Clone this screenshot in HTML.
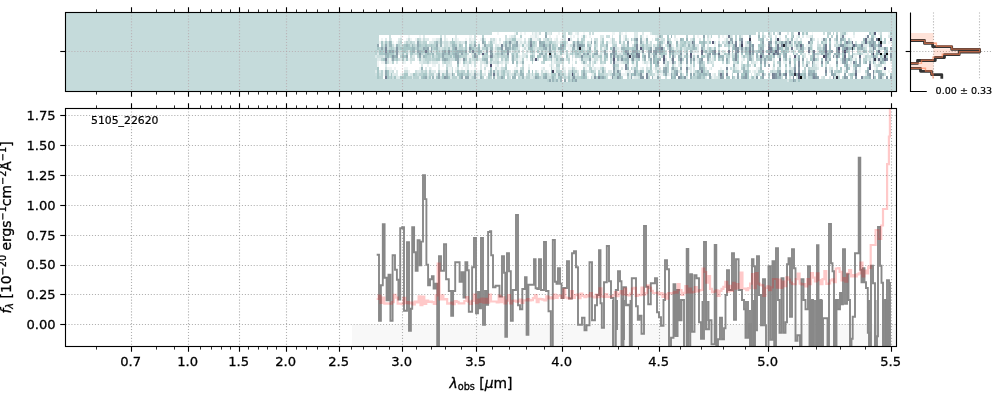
<!DOCTYPE html>
<html><head><meta charset="utf-8"><title>spectrum</title>
<style>
html,body{margin:0;padding:0;background:#fff;overflow:hidden;}
svg{display:block;will-change:transform;}
text{font-family:"DejaVu Sans","Liberation Sans",sans-serif;fill:#000;stroke:#000;stroke-width:0.3px;}
.tl{font-size:13.1px;}
.al{font-size:13.89px;}
.it{font-style:italic;}
.grid{stroke:#b0b0b0;stroke-width:1.11;stroke-dasharray:1.11 1.83;fill:none;}
.g2{stroke:#b0959a;stroke-opacity:0.55;}
.sp{stroke:#000;stroke-width:1.11;fill:none;stroke-linecap:square;}
.mj{stroke:#000;stroke-width:1.11;}
.mn{stroke:#000;stroke-width:0.83;}
</style></head><body>
<svg width="1000" height="400" viewBox="0 0 1000 400">
<rect width="1000" height="400" fill="#fff"/>
<g id="ax2d">
<rect x="65.5" y="12.5" width="831.0" height="79.0" fill="#c5dbdb"/>
<g shape-rendering="crispEdges">
<path fill="#b9d2d2" d="M375.3 49.58H377.2V52.51H375.3zM375.3 52.51H377.2V55.44H375.3zM379.11 46.65H381.01V49.58H379.11zM379.11 75.95H381.01V78.88H379.11zM381.01 58.37H382.92V61.3H381.01zM381.01 70.09H382.92V73.02H381.01zM381.01 73.02H382.92V75.95H381.01zM381.01 75.95H382.92V78.88H381.01zM382.92 46.65H384.82V49.58H382.92zM382.92 49.58H384.82V52.51H382.92zM388.63 46.65H390.54V49.58H388.63zM388.63 55.44H390.54V58.37H388.63zM388.63 75.95H390.54V78.88H388.63zM392.44 46.65H394.35V49.58H392.44zM392.44 61.3H394.35V64.23H392.44zM394.35 49.58H396.25V52.51H394.35zM394.35 58.37H396.25V61.3H394.35zM398.16 43.72H400.06V46.65H398.16zM398.16 46.65H400.06V49.58H398.16zM400.06 40.79H401.97V43.72H400.06zM400.06 55.44H401.97V58.37H400.06zM401.97 43.72H403.88V46.65H401.97zM405.78 40.79H407.69V43.72H405.78zM405.78 49.58H407.69V52.51H405.78zM405.78 75.95H407.69V78.88H405.78zM407.69 75.95H409.59V78.88H407.69zM409.59 40.79H411.5V43.72H409.59zM409.59 55.44H411.5V58.37H409.59zM409.59 75.95H411.5V78.88H409.59zM413.4 43.72H415.31V46.65H413.4zM413.4 75.95H415.31V78.88H413.4zM415.31 46.65H417.21V49.58H415.31zM415.31 73.02H417.21V75.95H415.31zM415.31 75.95H417.21V78.88H415.31zM417.21 37.86H419.12V40.79H417.21zM417.21 55.44H419.12V58.37H417.21zM417.21 75.95H419.12V78.88H417.21zM419.12 40.79H421.02V43.72H419.12zM419.12 46.65H421.02V49.58H419.12zM419.12 73.02H421.02V75.95H419.12zM421.02 43.72H422.93V46.65H421.02zM421.02 46.65H422.93V49.58H421.02zM421.02 52.51H422.93V55.44H421.02zM421.02 70.09H422.93V73.02H421.02zM421.02 73.02H422.93V75.95H421.02zM422.93 40.79H424.83V43.72H422.93zM422.93 43.72H424.83V46.65H422.93zM424.83 40.79H426.74V43.72H424.83zM424.83 58.37H426.74V61.3H424.83zM424.83 70.09H426.74V73.02H424.83zM426.74 43.72H428.64V46.65H426.74zM426.74 55.44H428.64V58.37H426.74zM426.74 58.37H428.64V61.3H426.74zM426.74 61.3H428.64V64.23H426.74zM428.64 43.72H430.55V46.65H428.64zM428.64 55.44H430.55V58.37H428.64zM428.64 58.37H430.55V61.3H428.64zM428.64 70.09H430.55V73.02H428.64zM428.64 73.02H430.55V75.95H428.64zM430.55 52.51H432.45V55.44H430.55zM430.55 73.02H432.45V75.95H430.55zM432.45 43.72H434.36V46.65H432.45zM432.45 46.65H434.36V49.58H432.45zM432.45 58.37H434.36V61.3H432.45zM432.45 73.02H434.36V75.95H432.45zM434.36 40.79H436.26V43.72H434.36zM434.36 43.72H436.26V46.65H434.36zM434.36 58.37H436.26V61.3H434.36zM436.26 55.44H438.17V58.37H436.26zM438.17 49.58H440.07V52.51H438.17zM438.17 70.09H440.07V73.02H438.17zM440.07 52.51H441.98V55.44H440.07zM440.07 55.44H441.98V58.37H440.07zM443.88 46.65H445.79V49.58H443.88zM443.88 55.44H445.79V58.37H443.88zM443.88 61.3H445.79V64.23H443.88zM445.79 49.58H447.69V52.51H445.79zM445.79 55.44H447.69V58.37H445.79zM445.79 67.16H447.69V70.09H445.79zM447.69 55.44H449.6V58.37H447.69zM447.69 58.37H449.6V61.3H447.69zM449.6 40.79H451.5V43.72H449.6zM449.6 49.58H451.5V52.51H449.6zM449.6 52.51H451.5V55.44H449.6zM451.5 70.09H453.41V73.02H451.5zM451.5 75.95H453.41V78.88H451.5zM453.41 73.02H455.31V75.95H453.41zM453.41 75.95H455.31V78.88H453.41zM455.31 75.95H457.22V78.88H455.31zM459.12 46.65H461.02V49.58H459.12zM461.02 43.72H462.93V46.65H461.02zM461.02 46.65H462.93V49.58H461.02zM461.02 55.44H462.93V58.37H461.02zM461.02 70.09H462.93V73.02H461.02zM462.93 52.51H464.84V55.44H462.93zM462.93 55.44H464.84V58.37H462.93zM462.93 70.09H464.84V73.02H462.93zM462.93 73.02H464.84V75.95H462.93zM464.84 55.44H466.74V58.37H464.84zM464.84 73.02H466.74V75.95H464.84zM468.64 58.37H470.55V61.3H468.64zM468.64 61.3H470.55V64.23H468.64zM470.55 43.72H472.46V46.65H470.55zM472.46 55.44H474.36V58.37H472.46zM472.46 75.95H474.36V78.88H472.46zM474.36 46.65H476.26V49.58H474.36zM474.36 49.58H476.26V52.51H474.36zM474.36 58.37H476.26V61.3H474.36zM474.36 70.09H476.26V73.02H474.36zM476.26 46.65H478.17V49.58H476.26zM476.26 49.58H478.17V52.51H476.26zM481.98 34.93H483.88V37.86H481.98zM481.98 46.65H483.88V49.58H481.98zM481.98 55.44H483.88V58.37H481.98zM481.98 75.95H483.88V78.88H481.98zM483.88 46.65H485.79V49.58H483.88zM483.88 52.51H485.79V55.44H483.88zM483.88 55.44H485.79V58.37H483.88zM485.79 43.72H487.69V46.65H485.79zM485.79 55.44H487.69V58.37H485.79zM487.69 43.72H489.6V46.65H487.69zM489.6 61.3H491.5V64.23H489.6zM489.6 75.95H491.5V78.88H489.6zM491.5 58.37H493.41V61.3H491.5zM495.31 52.51H497.22V55.44H495.31zM497.22 49.58H499.12V52.51H497.22zM497.22 55.44H499.12V58.37H497.22zM497.22 61.3H499.12V64.23H497.22zM497.22 70.09H499.12V73.02H497.22zM497.22 75.95H499.12V78.88H497.22zM499.12 52.51H501.03V55.44H499.12zM499.12 75.95H501.03V78.88H499.12zM501.03 55.44H502.94V58.37H501.03zM501.03 58.37H502.94V61.3H501.03zM501.03 70.09H502.94V73.02H501.03zM501.03 73.02H502.94V75.95H501.03zM502.94 52.51H504.84V55.44H502.94zM502.94 55.44H504.84V58.37H502.94zM504.84 55.44H506.75V58.37H504.84zM504.84 64.23H506.75V67.16H504.84zM506.75 40.79H508.65V43.72H506.75zM506.75 58.37H508.65V61.3H506.75zM506.75 73.02H508.65V75.95H506.75zM506.75 75.95H508.65V78.88H506.75zM510.56 40.79H512.46V43.72H510.56zM514.37 40.79H516.27V43.72H514.37zM514.37 49.58H516.27V52.51H514.37zM514.37 70.09H516.27V73.02H514.37zM516.27 32H518.17V34.93H516.27zM516.27 46.65H518.17V49.58H516.27zM518.17 49.58H520.08V52.51H518.17zM518.17 75.95H520.08V78.88H518.17zM520.08 34.93H521.99V37.86H520.08zM521.99 58.37H523.89V61.3H521.99zM521.99 67.16H523.89V70.09H521.99zM521.99 70.09H523.89V73.02H521.99zM525.8 55.44H527.7V58.37H525.8zM525.8 75.95H527.7V78.88H525.8zM527.7 40.79H529.61V43.72H527.7zM527.7 43.72H529.61V46.65H527.7zM527.7 73.02H529.61V75.95H527.7zM527.7 75.95H529.61V78.88H527.7zM529.61 58.37H531.51V61.3H529.61zM531.51 40.79H533.41V43.72H531.51zM531.51 52.51H533.41V55.44H531.51zM531.51 61.3H533.41V64.23H531.51zM531.51 73.02H533.41V75.95H531.51zM533.41 43.72H535.32V46.65H533.41zM533.41 49.58H535.32V52.51H533.41zM533.41 55.44H535.32V58.37H533.41zM539.13 37.86H541.04V40.79H539.13zM539.13 46.65H541.04V49.58H539.13zM539.13 75.95H541.04V78.88H539.13zM541.04 46.65H542.94V49.58H541.04zM542.94 61.3H544.85V64.23H542.94zM544.85 49.58H546.75V52.51H544.85zM546.75 37.86H548.65V40.79H546.75zM546.75 43.72H548.65V46.65H546.75zM546.75 78.88H548.65V81.81H546.75zM550.56 49.58H552.47V52.51H550.56zM550.56 67.16H552.47V70.09H550.56zM550.56 73.02H552.47V75.95H550.56zM550.56 75.95H552.47V78.88H550.56zM554.37 43.72H556.27V46.65H554.37zM554.37 49.58H556.27V52.51H554.37zM554.37 55.44H556.27V58.37H554.37zM554.37 75.95H556.27V78.88H554.37zM554.37 78.88H556.27V81.81H554.37zM556.27 55.44H558.18V58.37H556.27zM556.27 64.23H558.18V67.16H556.27zM556.27 70.09H558.18V73.02H556.27zM558.18 64.23H560.09V67.16H558.18zM558.18 70.09H560.09V73.02H558.18zM560.09 70.09H561.99V73.02H560.09zM560.09 73.02H561.99V75.95H560.09zM563.89 46.65H565.8V49.58H563.89zM563.89 75.95H565.8V78.88H563.89zM565.8 49.58H567.71V52.51H565.8zM565.8 52.51H567.71V55.44H565.8zM567.71 32H569.61V34.93H567.71zM567.71 58.37H569.61V61.3H567.71zM567.71 73.02H569.61V75.95H567.71zM569.61 52.51H571.51V55.44H569.61zM569.61 78.88H571.51V81.81H569.61zM571.51 67.16H573.42V70.09H571.51zM573.42 49.58H575.33V52.51H573.42zM573.42 70.09H575.33V73.02H573.42zM575.33 55.44H577.23V58.37H575.33zM575.33 70.09H577.23V73.02H575.33zM575.33 75.95H577.23V78.88H575.33zM577.23 49.58H579.13V52.51H577.23zM577.23 55.44H579.13V58.37H577.23zM577.23 75.95H579.13V78.88H577.23zM579.13 40.79H581.04V43.72H579.13zM579.13 52.51H581.04V55.44H579.13zM579.13 55.44H581.04V58.37H579.13zM579.13 75.95H581.04V78.88H579.13zM581.04 37.86H582.95V40.79H581.04zM581.04 46.65H582.95V49.58H581.04zM581.04 70.09H582.95V73.02H581.04zM581.04 73.02H582.95V75.95H581.04zM582.95 37.86H584.85V40.79H582.95zM582.95 49.58H584.85V52.51H582.95zM582.95 55.44H584.85V58.37H582.95zM582.95 67.16H584.85V70.09H582.95zM584.85 55.44H586.75V58.37H584.85zM584.85 73.02H586.75V75.95H584.85zM586.75 55.44H588.66V58.37H586.75zM588.66 43.72H590.57V46.65H588.66zM588.66 61.3H590.57V64.23H588.66zM588.66 67.16H590.57V70.09H588.66zM590.57 67.16H592.47V70.09H590.57zM590.57 75.95H592.47V78.88H590.57zM592.47 52.51H594.38V55.44H592.47zM592.47 70.09H594.38V73.02H592.47zM594.38 43.72H596.28V46.65H594.38zM594.38 49.58H596.28V52.51H594.38zM594.38 61.3H596.28V64.23H594.38zM596.28 75.95H598.18V78.88H596.28zM598.18 55.44H600.09V58.37H598.18zM598.18 70.09H600.09V73.02H598.18zM600.09 43.72H602V46.65H600.09zM600.09 46.65H602V49.58H600.09zM600.09 58.37H602V61.3H600.09zM600.09 61.3H602V64.23H600.09zM600.09 73.02H602V75.95H600.09zM602 37.86H603.9V40.79H602zM602 43.72H603.9V46.65H602zM602 73.02H603.9V75.95H602zM603.9 61.3H605.81V64.23H603.9zM605.81 40.79H607.71V43.72H605.81zM609.62 58.37H611.52V61.3H609.62zM609.62 61.3H611.52V64.23H609.62zM611.52 37.86H613.42V40.79H611.52zM611.52 40.79H613.42V43.72H611.52zM611.52 46.65H613.42V49.58H611.52zM613.42 43.72H615.33V46.65H613.42zM613.42 75.95H615.33V78.88H613.42zM615.33 43.72H617.24V46.65H615.33zM615.33 55.44H617.24V58.37H615.33zM615.33 64.23H617.24V67.16H615.33zM615.33 73.02H617.24V75.95H615.33zM615.33 75.95H617.24V78.88H615.33zM617.24 64.23H619.14V67.16H617.24zM619.14 34.93H621.05V37.86H619.14zM619.14 37.86H621.05V40.79H619.14zM619.14 55.44H621.05V58.37H619.14zM619.14 70.09H621.05V73.02H619.14zM621.05 75.95H622.95V78.88H621.05zM622.95 40.79H624.86V43.72H622.95zM622.95 43.72H624.86V46.65H622.95zM624.86 37.86H626.76V40.79H624.86zM624.86 55.44H626.76V58.37H624.86zM624.86 61.3H626.76V64.23H624.86zM626.76 64.23H628.66V67.16H626.76zM626.76 75.95H628.66V78.88H626.76zM628.66 46.65H630.57V49.58H628.66zM628.66 52.51H630.57V55.44H628.66zM630.57 37.86H632.48V40.79H630.57zM630.57 46.65H632.48V49.58H630.57zM630.57 67.16H632.48V70.09H630.57zM634.38 40.79H636.29V43.72H634.38zM636.29 58.37H638.19V61.3H636.29zM636.29 67.16H638.19V70.09H636.29zM636.29 73.02H638.19V75.95H636.29zM638.19 49.58H640.1V52.51H638.19zM640.1 34.93H642V37.86H640.1zM640.1 43.72H642V46.65H640.1zM642 52.51H643.9V55.44H642zM645.81 43.72H647.72V46.65H645.81zM645.81 46.65H647.72V49.58H645.81zM647.72 75.95H649.62V78.88H647.72zM649.62 70.09H651.53V73.02H649.62zM649.62 73.02H651.53V75.95H649.62zM655.34 37.86H657.24V40.79H655.34zM657.24 40.79H659.14V43.72H657.24zM661.05 34.93H662.96V37.86H661.05zM661.05 55.44H662.96V58.37H661.05zM662.96 46.65H664.86V49.58H662.96zM662.96 73.02H664.86V75.95H662.96zM664.86 52.51H666.77V55.44H664.86zM666.77 61.3H668.67V64.23H666.77zM666.77 64.23H668.67V67.16H666.77zM666.77 67.16H668.67V70.09H666.77zM666.77 70.09H668.67V73.02H666.77zM670.58 40.79H672.48V43.72H670.58zM670.58 58.37H672.48V61.3H670.58zM670.58 67.16H672.48V70.09H670.58zM672.48 64.23H674.38V67.16H672.48zM672.48 73.02H674.38V75.95H672.48zM674.38 49.58H676.29V52.51H674.38zM674.38 61.3H676.29V64.23H674.38zM674.38 67.16H676.29V70.09H674.38zM678.19 49.58H680.1V52.51H678.19zM680.1 40.79H682V43.72H680.1zM680.1 43.72H682V46.65H680.1zM682 40.79H683.91V43.72H682zM682 58.37H683.91V61.3H682zM683.91 43.72H685.82V46.65H683.91zM683.91 55.44H685.82V58.37H683.91zM685.82 34.93H687.72V37.86H685.82zM685.82 46.65H687.72V49.58H685.82zM687.72 40.79H689.62V43.72H687.72zM687.72 46.65H689.62V49.58H687.72zM689.62 46.65H691.53V49.58H689.62zM691.53 49.58H693.43V52.51H691.53zM693.43 55.44H695.34V58.37H693.43zM693.43 61.3H695.34V64.23H693.43zM693.43 64.23H695.34V67.16H693.43zM693.43 75.95H695.34V78.88H693.43zM695.34 70.09H697.25V73.02H695.34zM695.34 75.95H697.25V78.88H695.34zM699.15 70.09H701.06V73.02H699.15zM701.06 43.72H702.96V46.65H701.06zM701.06 64.23H702.96V67.16H701.06zM701.06 75.95H702.96V78.88H701.06zM702.96 46.65H704.87V49.58H702.96zM702.96 49.58H704.87V52.51H702.96zM702.96 64.23H704.87V67.16H702.96zM704.87 40.79H706.77V43.72H704.87zM706.77 61.3H708.67V64.23H706.77zM706.77 70.09H708.67V73.02H706.77zM706.77 73.02H708.67V75.95H706.77zM710.58 34.93H712.49V37.86H710.58zM714.39 58.37H716.3V61.3H714.39zM718.2 73.02H720.11V75.95H718.2zM720.11 43.72H722.01V46.65H720.11zM722.01 70.09H723.91V73.02H722.01zM723.91 43.72H725.82V46.65H723.91zM725.82 40.79H727.73V43.72H725.82zM725.82 52.51H727.73V55.44H725.82zM725.82 55.44H727.73V58.37H725.82zM725.82 70.09H727.73V73.02H725.82zM727.73 46.65H729.63V49.58H727.73zM727.73 55.44H729.63V58.37H727.73zM729.63 40.79H731.54V43.72H729.63zM731.54 52.51H733.44V55.44H731.54zM731.54 55.44H733.44V58.37H731.54zM731.54 58.37H733.44V61.3H731.54zM731.54 73.02H733.44V75.95H731.54zM733.44 55.44H735.35V58.37H733.44zM733.44 67.16H735.35V70.09H733.44zM733.44 75.95H735.35V78.88H733.44zM735.35 34.93H737.25V37.86H735.35zM735.35 37.86H737.25V40.79H735.35zM735.35 70.09H737.25V73.02H735.35zM737.25 52.51H739.15V55.44H737.25zM737.25 58.37H739.15V61.3H737.25zM737.25 70.09H739.15V73.02H737.25zM739.15 34.93H741.06V37.86H739.15zM739.15 43.72H741.06V46.65H739.15zM741.06 67.16H742.97V70.09H741.06zM746.78 55.44H748.68V58.37H746.78zM746.78 58.37H748.68V61.3H746.78zM746.78 67.16H748.68V70.09H746.78zM750.59 52.51H752.49V55.44H750.59zM750.59 55.44H752.49V58.37H750.59zM750.59 75.95H752.49V78.88H750.59zM756.3 49.58H758.21V52.51H756.3zM756.3 58.37H758.21V61.3H756.3zM756.3 73.02H758.21V75.95H756.3zM758.21 32H760.11V34.93H758.21zM758.21 37.86H760.11V40.79H758.21zM758.21 46.65H760.11V49.58H758.21zM758.21 58.37H760.11V61.3H758.21zM758.21 70.09H760.11V73.02H758.21zM760.11 40.79H762.02V43.72H760.11zM762.02 34.93H763.92V37.86H762.02zM765.83 58.37H767.73V61.3H765.83zM767.73 75.95H769.63V78.88H767.73zM771.54 70.09H773.44V73.02H771.54zM773.44 32H775.35V34.93H773.44zM773.44 64.23H775.35V67.16H773.44zM775.35 43.72H777.25V46.65H775.35zM777.25 61.3H779.16V64.23H777.25zM777.25 67.16H779.16V70.09H777.25zM779.16 40.79H781.07V43.72H779.16zM782.97 40.79H784.88V43.72H782.97zM784.88 34.93H786.78V37.86H784.88zM786.78 37.86H788.68V40.79H786.78zM786.78 40.79H788.68V43.72H786.78zM786.78 49.58H788.68V52.51H786.78zM788.68 64.23H790.59V67.16H788.68zM788.68 78.88H790.59V81.81H788.68zM790.59 32H792.5V34.93H790.59zM790.59 34.93H792.5V37.86H790.59zM790.59 43.72H792.5V46.65H790.59zM790.59 70.09H792.5V73.02H790.59zM790.59 78.88H792.5V81.81H790.59zM796.31 46.65H798.21V49.58H796.31zM796.31 52.51H798.21V55.44H796.31zM800.12 52.51H802.02V55.44H800.12zM802.02 55.44H803.92V58.37H802.02zM802.02 61.3H803.92V64.23H802.02zM802.02 75.95H803.92V78.88H802.02zM803.92 67.16H805.83V70.09H803.92zM803.92 70.09H805.83V73.02H803.92zM805.83 61.3H807.74V64.23H805.83zM807.74 67.16H809.64V70.09H807.74zM807.74 75.95H809.64V78.88H807.74zM809.64 40.79H811.55V43.72H809.64zM809.64 43.72H811.55V46.65H809.64zM809.64 55.44H811.55V58.37H809.64zM809.64 75.95H811.55V78.88H809.64zM811.55 37.86H813.45V40.79H811.55zM815.36 52.51H817.26V55.44H815.36zM817.26 46.65H819.16V49.58H817.26zM817.26 52.51H819.16V55.44H817.26zM819.16 46.65H821.07V49.58H819.16zM822.98 52.51H824.88V55.44H822.98zM824.88 40.79H826.79V43.72H824.88zM824.88 61.3H826.79V64.23H824.88zM826.79 32H828.69V34.93H826.79zM826.79 34.93H828.69V37.86H826.79zM826.79 49.58H828.69V52.51H826.79zM828.69 32H830.6V34.93H828.69zM828.69 55.44H830.6V58.37H828.69zM830.6 34.93H832.5V37.86H830.6zM832.5 32H834.4V34.93H832.5zM834.4 70.09H836.31V73.02H834.4zM836.31 32H838.22V34.93H836.31zM836.31 40.79H838.22V43.72H836.31zM836.31 70.09H838.22V73.02H836.31zM838.22 43.72H840.12V46.65H838.22zM838.22 75.95H840.12V78.88H838.22zM840.12 70.09H842.03V73.02H840.12zM842.03 32H843.93V34.93H842.03zM842.03 75.95H843.93V78.88H842.03zM843.93 37.86H845.84V40.79H843.93zM845.84 43.72H847.74V46.65H845.84zM847.74 37.86H849.64V40.79H847.74zM847.74 49.58H849.64V52.51H847.74zM847.74 52.51H849.64V55.44H847.74zM847.74 55.44H849.64V58.37H847.74zM849.64 40.79H851.55V43.72H849.64zM849.64 55.44H851.55V58.37H849.64zM849.64 58.37H851.55V61.3H849.64zM849.64 75.95H851.55V78.88H849.64zM853.46 73.02H855.36V75.95H853.46zM857.27 43.72H859.17V46.65H857.27zM857.27 49.58H859.17V52.51H857.27zM862.98 40.79H864.88V43.72H862.98zM862.98 46.65H864.88V49.58H862.98zM862.98 58.37H864.88V61.3H862.98zM862.98 61.3H864.88V64.23H862.98zM862.98 75.95H864.88V78.88H862.98zM864.88 55.44H866.79V58.37H864.88zM864.88 58.37H866.79V61.3H864.88zM864.88 70.09H866.79V73.02H864.88zM866.79 40.79H868.69V43.72H866.79zM868.69 49.58H870.6V52.51H868.69zM870.6 49.58H872.5V52.51H870.6zM870.6 55.44H872.5V58.37H870.6zM876.32 43.72H878.22V46.65H876.32zM876.32 55.44H878.22V58.37H876.32zM878.22 46.65H880.12V49.58H878.22zM878.22 64.23H880.12V67.16H878.22zM880.12 34.93H882.03V37.86H880.12zM880.12 58.37H882.03V61.3H880.12zM883.93 37.86H885.84V40.79H883.93zM883.93 40.79H885.84V43.72H883.93zM885.84 55.44H887.75V58.37H885.84z"/>
<path fill="#dce9e9" d="M375.3 55.44H377.2V58.37H375.3zM375.3 70.09H377.2V73.02H375.3zM377.2 52.51H379.11V55.44H377.2zM377.2 58.37H379.11V61.3H377.2zM379.11 58.37H381.01V61.3H379.11zM379.11 70.09H381.01V73.02H379.11zM382.92 40.79H384.82V43.72H382.92zM382.92 55.44H384.82V58.37H382.92zM384.82 37.86H386.73V40.79H384.82zM384.82 64.23H386.73V67.16H384.82zM388.63 70.09H390.54V73.02H388.63zM388.63 73.02H390.54V75.95H388.63zM390.54 37.86H392.44V40.79H390.54zM390.54 70.09H392.44V73.02H390.54zM392.44 73.02H394.35V75.95H392.44zM394.35 73.02H396.25V75.95H394.35zM396.25 61.3H398.16V64.23H396.25zM396.25 70.09H398.16V73.02H396.25zM396.25 73.02H398.16V75.95H396.25zM396.25 75.95H398.16V78.88H396.25zM398.16 37.86H400.06V40.79H398.16zM398.16 52.51H400.06V55.44H398.16zM398.16 75.95H400.06V78.88H398.16zM400.06 58.37H401.97V61.3H400.06zM401.97 61.3H403.88V64.23H401.97zM403.88 40.79H405.78V43.72H403.88zM403.88 52.51H405.78V55.44H403.88zM403.88 58.37H405.78V61.3H403.88zM407.69 49.58H409.59V52.51H407.69zM409.59 61.3H411.5V64.23H409.59zM409.59 73.02H411.5V75.95H409.59zM411.5 55.44H413.4V58.37H411.5zM411.5 73.02H413.4V75.95H411.5zM411.5 75.95H413.4V78.88H411.5zM413.4 55.44H415.31V58.37H413.4zM415.31 49.58H417.21V52.51H415.31zM417.21 70.09H419.12V73.02H417.21zM419.12 61.3H421.02V64.23H419.12zM419.12 70.09H421.02V73.02H419.12zM419.12 75.95H421.02V78.88H419.12zM421.02 55.44H422.93V58.37H421.02zM421.02 58.37H422.93V61.3H421.02zM421.02 61.3H422.93V64.23H421.02zM421.02 64.23H422.93V67.16H421.02zM422.93 34.93H424.83V37.86H422.93zM424.83 37.86H426.74V40.79H424.83zM424.83 67.16H426.74V70.09H424.83zM426.74 37.86H428.64V40.79H426.74zM426.74 73.02H428.64V75.95H426.74zM428.64 40.79H430.55V43.72H428.64zM428.64 61.3H430.55V64.23H428.64zM428.64 67.16H430.55V70.09H428.64zM430.55 40.79H432.45V43.72H430.55zM430.55 55.44H432.45V58.37H430.55zM430.55 70.09H432.45V73.02H430.55zM432.45 40.79H434.36V43.72H432.45zM432.45 61.3H434.36V64.23H432.45zM432.45 70.09H434.36V73.02H432.45zM434.36 52.51H436.26V55.44H434.36zM434.36 61.3H436.26V64.23H434.36zM434.36 70.09H436.26V73.02H434.36zM436.26 37.86H438.17V40.79H436.26zM436.26 61.3H438.17V64.23H436.26zM438.17 37.86H440.07V40.79H438.17zM438.17 43.72H440.07V46.65H438.17zM438.17 64.23H440.07V67.16H438.17zM438.17 67.16H440.07V70.09H438.17zM440.07 46.65H441.98V49.58H440.07zM440.07 58.37H441.98V61.3H440.07zM441.98 40.79H443.88V43.72H441.98zM443.88 34.93H445.79V37.86H443.88zM443.88 37.86H445.79V40.79H443.88zM447.69 40.79H449.6V43.72H447.69zM447.69 43.72H449.6V46.65H447.69zM447.69 64.23H449.6V67.16H447.69zM449.6 46.65H451.5V49.58H449.6zM449.6 61.3H451.5V64.23H449.6zM449.6 64.23H451.5V67.16H449.6zM449.6 73.02H451.5V75.95H449.6zM449.6 75.95H451.5V78.88H449.6zM451.5 55.44H453.41V58.37H451.5zM455.31 34.93H457.22V37.86H455.31zM455.31 37.86H457.22V40.79H455.31zM455.31 70.09H457.22V73.02H455.31zM457.22 40.79H459.12V43.72H457.22zM457.22 43.72H459.12V46.65H457.22zM457.22 75.95H459.12V78.88H457.22zM459.12 58.37H461.02V61.3H459.12zM461.02 40.79H462.93V43.72H461.02zM462.93 40.79H464.84V43.72H462.93zM462.93 64.23H464.84V67.16H462.93zM466.74 61.3H468.64V64.23H466.74zM466.74 64.23H468.64V67.16H466.74zM466.74 67.16H468.64V70.09H466.74zM468.64 37.86H470.55V40.79H468.64zM468.64 40.79H470.55V43.72H468.64zM468.64 75.95H470.55V78.88H468.64zM470.55 52.51H472.46V55.44H470.55zM470.55 58.37H472.46V61.3H470.55zM470.55 61.3H472.46V64.23H470.55zM470.55 70.09H472.46V73.02H470.55zM470.55 73.02H472.46V75.95H470.55zM472.46 40.79H474.36V43.72H472.46zM472.46 73.02H474.36V75.95H472.46zM476.26 75.95H478.17V78.88H476.26zM478.17 58.37H480.08V61.3H478.17zM478.17 73.02H480.08V75.95H478.17zM480.08 52.51H481.98V55.44H480.08zM480.08 58.37H481.98V61.3H480.08zM480.08 61.3H481.98V64.23H480.08zM480.08 64.23H481.98V67.16H480.08zM480.08 67.16H481.98V70.09H480.08zM481.98 43.72H483.88V46.65H481.98zM481.98 49.58H483.88V52.51H481.98zM481.98 61.3H483.88V64.23H481.98zM481.98 73.02H483.88V75.95H481.98zM483.88 37.86H485.79V40.79H483.88zM483.88 49.58H485.79V52.51H483.88zM483.88 73.02H485.79V75.95H483.88zM485.79 64.23H487.69V67.16H485.79zM485.79 75.95H487.69V78.88H485.79zM487.69 40.79H489.6V43.72H487.69zM487.69 46.65H489.6V49.58H487.69zM487.69 55.44H489.6V58.37H487.69zM487.69 70.09H489.6V73.02H487.69zM491.5 37.86H493.41V40.79H491.5zM491.5 61.3H493.41V64.23H491.5zM493.41 40.79H495.31V43.72H493.41zM493.41 52.51H495.31V55.44H493.41zM493.41 58.37H495.31V61.3H493.41zM495.31 43.72H497.22V46.65H495.31zM495.31 49.58H497.22V52.51H495.31zM495.31 70.09H497.22V73.02H495.31zM495.31 73.02H497.22V75.95H495.31zM497.22 43.72H499.12V46.65H497.22zM497.22 64.23H499.12V67.16H497.22zM499.12 37.86H501.03V40.79H499.12zM499.12 61.3H501.03V64.23H499.12zM499.12 70.09H501.03V73.02H499.12zM499.12 73.02H501.03V75.95H499.12zM501.03 61.3H502.94V64.23H501.03zM502.94 58.37H504.84V61.3H502.94zM504.84 73.02H506.75V75.95H504.84zM506.75 37.86H508.65V40.79H506.75zM506.75 61.3H508.65V64.23H506.75zM508.65 70.09H510.56V73.02H508.65zM508.65 73.02H510.56V75.95H508.65zM510.56 34.93H512.46V37.86H510.56zM510.56 55.44H512.46V58.37H510.56zM510.56 58.37H512.46V61.3H510.56zM510.56 73.02H512.46V75.95H510.56zM512.46 34.93H514.37V37.86H512.46zM518.17 43.72H520.08V46.65H518.17zM518.17 46.65H520.08V49.58H518.17zM518.17 55.44H520.08V58.37H518.17zM520.08 40.79H521.99V43.72H520.08zM520.08 61.3H521.99V64.23H520.08zM521.99 52.51H523.89V55.44H521.99zM521.99 55.44H523.89V58.37H521.99zM523.89 37.86H525.8V40.79H523.89zM523.89 52.51H525.8V55.44H523.89zM523.89 55.44H525.8V58.37H523.89zM523.89 75.95H525.8V78.88H523.89zM525.8 43.72H527.7V46.65H525.8zM525.8 52.51H527.7V55.44H525.8zM527.7 49.58H529.61V52.51H527.7zM527.7 67.16H529.61V70.09H527.7zM529.61 52.51H531.51V55.44H529.61zM529.61 73.02H531.51V75.95H529.61zM529.61 75.95H531.51V78.88H529.61zM531.51 32H533.41V34.93H531.51zM531.51 75.95H533.41V78.88H531.51zM533.41 58.37H535.32V61.3H533.41zM533.41 73.02H535.32V75.95H533.41zM535.32 32H537.23V34.93H535.32zM535.32 34.93H537.23V37.86H535.32zM535.32 46.65H537.23V49.58H535.32zM537.23 37.86H539.13V40.79H537.23zM539.13 49.58H541.04V52.51H539.13zM541.04 55.44H542.94V58.37H541.04zM542.94 37.86H544.85V40.79H542.94zM542.94 67.16H544.85V70.09H542.94zM544.85 70.09H546.75V73.02H544.85zM546.75 32H548.65V34.93H546.75zM546.75 55.44H548.65V58.37H546.75zM548.65 32H550.56V34.93H548.65zM548.65 37.86H550.56V40.79H548.65zM548.65 73.02H550.56V75.95H548.65zM550.56 43.72H552.47V46.65H550.56zM550.56 46.65H552.47V49.58H550.56zM552.47 55.44H554.37V58.37H552.47zM554.37 58.37H556.27V61.3H554.37zM554.37 61.3H556.27V64.23H554.37zM556.27 37.86H558.18V40.79H556.27zM556.27 40.79H558.18V43.72H556.27zM556.27 46.65H558.18V49.58H556.27zM556.27 52.51H558.18V55.44H556.27zM556.27 73.02H558.18V75.95H556.27zM556.27 75.95H558.18V78.88H556.27zM558.18 49.58H560.09V52.51H558.18zM560.09 55.44H561.99V58.37H560.09zM561.99 37.86H563.89V40.79H561.99zM561.99 52.51H563.89V55.44H561.99zM561.99 64.23H563.89V67.16H561.99zM561.99 70.09H563.89V73.02H561.99zM563.89 70.09H565.8V73.02H563.89zM565.8 40.79H567.71V43.72H565.8zM567.71 52.51H569.61V55.44H567.71zM567.71 55.44H569.61V58.37H567.71zM569.61 37.86H571.51V40.79H569.61zM569.61 49.58H571.51V52.51H569.61zM571.51 40.79H573.42V43.72H571.51zM571.51 58.37H573.42V61.3H571.51zM571.51 64.23H573.42V67.16H571.51zM575.33 46.65H577.23V49.58H575.33zM575.33 73.02H577.23V75.95H575.33zM577.23 32H579.13V34.93H577.23zM577.23 70.09H579.13V73.02H577.23zM581.04 52.51H582.95V55.44H581.04zM581.04 61.3H582.95V64.23H581.04zM586.75 64.23H588.66V67.16H586.75zM586.75 70.09H588.66V73.02H586.75zM588.66 40.79H590.57V43.72H588.66zM590.57 43.72H592.47V46.65H590.57zM590.57 49.58H592.47V52.51H590.57zM592.47 61.3H594.38V64.23H592.47zM592.47 64.23H594.38V67.16H592.47zM592.47 73.02H594.38V75.95H592.47zM592.47 75.95H594.38V78.88H592.47zM594.38 67.16H596.28V70.09H594.38zM596.28 46.65H598.18V49.58H596.28zM600.09 34.93H602V37.86H600.09zM600.09 37.86H602V40.79H600.09zM600.09 70.09H602V73.02H600.09zM602 34.93H603.9V37.86H602zM603.9 67.16H605.81V70.09H603.9zM605.81 49.58H607.71V52.51H605.81zM607.71 70.09H609.62V73.02H607.71zM607.71 73.02H609.62V75.95H607.71zM609.62 70.09H611.52V73.02H609.62zM611.52 34.93H613.42V37.86H611.52zM611.52 55.44H613.42V58.37H611.52zM615.33 40.79H617.24V43.72H615.33zM615.33 61.3H617.24V64.23H615.33zM617.24 46.65H619.14V49.58H617.24zM617.24 52.51H619.14V55.44H617.24zM617.24 61.3H619.14V64.23H617.24zM621.05 52.51H622.95V55.44H621.05zM621.05 61.3H622.95V64.23H621.05zM621.05 67.16H622.95V70.09H621.05zM624.86 43.72H626.76V46.65H624.86zM626.76 37.86H628.66V40.79H626.76zM626.76 70.09H628.66V73.02H626.76zM628.66 49.58H630.57V52.51H628.66zM628.66 70.09H630.57V73.02H628.66zM628.66 73.02H630.57V75.95H628.66zM628.66 75.95H630.57V78.88H628.66zM630.57 61.3H632.48V64.23H630.57zM632.48 37.86H634.38V40.79H632.48zM632.48 43.72H634.38V46.65H632.48zM632.48 67.16H634.38V70.09H632.48zM634.38 32H636.29V34.93H634.38zM634.38 34.93H636.29V37.86H634.38zM634.38 75.95H636.29V78.88H634.38zM636.29 32H638.19V34.93H636.29zM636.29 34.93H638.19V37.86H636.29zM636.29 75.95H638.19V78.88H636.29zM640.1 49.58H642V52.51H640.1zM642 32H643.9V34.93H642zM642 67.16H643.9V70.09H642zM642 73.02H643.9V75.95H642zM643.9 52.51H645.81V55.44H643.9zM645.81 49.58H647.72V52.51H645.81zM645.81 61.3H647.72V64.23H645.81zM647.72 67.16H649.62V70.09H647.72zM649.62 32H651.53V34.93H649.62zM649.62 52.51H651.53V55.44H649.62zM649.62 55.44H651.53V58.37H649.62zM651.53 70.09H653.43V73.02H651.53zM653.43 46.65H655.34V49.58H653.43zM655.34 43.72H657.24V46.65H655.34zM655.34 70.09H657.24V73.02H655.34zM657.24 34.93H659.14V37.86H657.24zM657.24 52.51H659.14V55.44H657.24zM657.24 55.44H659.14V58.37H657.24zM657.24 67.16H659.14V70.09H657.24zM659.14 37.86H661.05V40.79H659.14zM659.14 55.44H661.05V58.37H659.14zM659.14 67.16H661.05V70.09H659.14zM661.05 70.09H662.96V73.02H661.05zM662.96 40.79H664.86V43.72H662.96zM664.86 43.72H666.77V46.65H664.86zM664.86 61.3H666.77V64.23H664.86zM666.77 73.02H668.67V75.95H666.77zM674.38 34.93H676.29V37.86H674.38zM678.19 43.72H680.1V46.65H678.19zM678.19 46.65H680.1V49.58H678.19zM678.19 61.3H680.1V64.23H678.19zM678.19 64.23H680.1V67.16H678.19zM678.19 70.09H680.1V73.02H678.19zM682 46.65H683.91V49.58H682zM682 73.02H683.91V75.95H682zM685.82 43.72H687.72V46.65H685.82zM685.82 75.95H687.72V78.88H685.82zM687.72 67.16H689.62V70.09H687.72zM689.62 37.86H691.53V40.79H689.62zM689.62 64.23H691.53V67.16H689.62zM689.62 67.16H691.53V70.09H689.62zM689.62 70.09H691.53V73.02H689.62zM691.53 58.37H693.43V61.3H691.53zM693.43 49.58H695.34V52.51H693.43zM693.43 67.16H695.34V70.09H693.43zM693.43 70.09H695.34V73.02H693.43zM695.34 43.72H697.25V46.65H695.34zM695.34 49.58H697.25V52.51H695.34zM697.25 43.72H699.15V46.65H697.25zM697.25 46.65H699.15V49.58H697.25zM697.25 49.58H699.15V52.51H697.25zM697.25 58.37H699.15V61.3H697.25zM697.25 61.3H699.15V64.23H697.25zM699.15 37.86H701.06V40.79H699.15zM704.87 52.51H706.77V55.44H704.87zM704.87 55.44H706.77V58.37H704.87zM704.87 67.16H706.77V70.09H704.87zM704.87 75.95H706.77V78.88H704.87zM706.77 37.86H708.67V40.79H706.77zM706.77 40.79H708.67V43.72H706.77zM706.77 43.72H708.67V46.65H706.77zM708.67 61.3H710.58V64.23H708.67zM710.58 67.16H712.49V70.09H710.58zM712.49 46.65H714.39V49.58H712.49zM712.49 55.44H714.39V58.37H712.49zM712.49 58.37H714.39V61.3H712.49zM712.49 61.3H714.39V64.23H712.49zM714.39 40.79H716.3V43.72H714.39zM714.39 73.02H716.3V75.95H714.39zM714.39 75.95H716.3V78.88H714.39zM716.3 75.95H718.2V78.88H716.3zM723.91 40.79H725.82V43.72H723.91zM723.91 49.58H725.82V52.51H723.91zM729.63 43.72H731.54V46.65H729.63zM731.54 34.93H733.44V37.86H731.54zM731.54 70.09H733.44V73.02H731.54zM735.35 67.16H737.25V70.09H735.35zM739.15 70.09H741.06V73.02H739.15zM741.06 34.93H742.97V37.86H741.06zM741.06 55.44H742.97V58.37H741.06zM741.06 61.3H742.97V64.23H741.06zM742.97 58.37H744.87V61.3H742.97zM744.87 40.79H746.78V43.72H744.87zM744.87 43.72H746.78V46.65H744.87zM744.87 67.16H746.78V70.09H744.87zM746.78 43.72H748.68V46.65H746.78zM748.68 70.09H750.59V73.02H748.68zM750.59 40.79H752.49V43.72H750.59zM750.59 73.02H752.49V75.95H750.59zM752.49 61.3H754.39V64.23H752.49zM754.39 61.3H756.3V64.23H754.39zM754.39 70.09H756.3V73.02H754.39zM754.39 73.02H756.3V75.95H754.39zM754.39 75.95H756.3V78.88H754.39zM758.21 67.16H760.11V70.09H758.21zM763.92 34.93H765.83V37.86H763.92zM765.83 37.86H767.73V40.79H765.83zM769.63 32H771.54V34.93H769.63zM773.44 58.37H775.35V61.3H773.44zM773.44 67.16H775.35V70.09H773.44zM775.35 34.93H777.25V37.86H775.35zM777.25 32H779.16V34.93H777.25zM779.16 37.86H781.07V40.79H779.16zM779.16 43.72H781.07V46.65H779.16zM781.07 52.51H782.97V55.44H781.07zM782.97 46.65H784.88V49.58H782.97zM784.88 37.86H786.78V40.79H784.88zM784.88 61.3H786.78V64.23H784.88zM786.78 32H788.68V34.93H786.78zM786.78 78.88H788.68V81.81H786.78zM788.68 55.44H790.59V58.37H788.68zM788.68 67.16H790.59V70.09H788.68zM790.59 67.16H792.5V70.09H790.59zM792.5 58.37H794.4V61.3H792.5zM792.5 70.09H794.4V73.02H792.5zM794.4 49.58H796.31V52.51H794.4zM794.4 52.51H796.31V55.44H794.4zM796.31 37.86H798.21V40.79H796.31zM796.31 55.44H798.21V58.37H796.31zM796.31 58.37H798.21V61.3H796.31zM800.12 37.86H802.02V40.79H800.12zM802.02 34.93H803.92V37.86H802.02zM802.02 52.51H803.92V55.44H802.02zM803.92 32H805.83V34.93H803.92zM803.92 46.65H805.83V49.58H803.92zM803.92 52.51H805.83V55.44H803.92zM803.92 55.44H805.83V58.37H803.92zM805.83 58.37H807.74V61.3H805.83zM805.83 75.95H807.74V78.88H805.83zM807.74 43.72H809.64V46.65H807.74zM807.74 52.51H809.64V55.44H807.74zM809.64 34.93H811.55V37.86H809.64zM809.64 49.58H811.55V52.51H809.64zM811.55 43.72H813.45V46.65H811.55zM811.55 46.65H813.45V49.58H811.55zM813.45 37.86H815.36V40.79H813.45zM815.36 64.23H817.26V67.16H815.36zM815.36 70.09H817.26V73.02H815.36zM817.26 40.79H819.16V43.72H817.26zM817.26 49.58H819.16V52.51H817.26zM817.26 55.44H819.16V58.37H817.26zM817.26 67.16H819.16V70.09H817.26zM821.07 75.95H822.98V78.88H821.07zM828.69 67.16H830.6V70.09H828.69zM828.69 70.09H830.6V73.02H828.69zM828.69 75.95H830.6V78.88H828.69zM834.4 55.44H836.31V58.37H834.4zM836.31 73.02H838.22V75.95H836.31zM838.22 73.02H840.12V75.95H838.22zM840.12 52.51H842.03V55.44H840.12zM840.12 58.37H842.03V61.3H840.12zM847.74 64.23H849.64V67.16H847.74zM849.64 43.72H851.55V46.65H849.64zM849.64 61.3H851.55V64.23H849.64zM851.55 58.37H853.46V61.3H851.55zM853.46 32H855.36V34.93H853.46zM853.46 70.09H855.36V73.02H853.46zM855.36 52.51H857.27V55.44H855.36zM861.08 49.58H862.98V52.51H861.08zM862.98 43.72H864.88V46.65H862.98zM864.88 43.72H866.79V46.65H864.88zM864.88 73.02H866.79V75.95H864.88zM866.79 37.86H868.69V40.79H866.79zM866.79 52.51H868.69V55.44H866.79zM866.79 58.37H868.69V61.3H866.79zM874.41 34.93H876.32V37.86H874.41zM874.41 52.51H876.32V55.44H874.41zM874.41 64.23H876.32V67.16H874.41zM876.32 58.37H878.22V61.3H876.32zM878.22 61.3H880.12V64.23H878.22zM882.03 52.51H883.93V55.44H882.03zM882.03 75.95H883.93V78.88H882.03zM887.75 34.93H889.65V37.86H887.75z"/>
<path fill="#cbdede" d="M375.3 73.02H377.2V75.95H375.3zM377.2 49.58H379.11V52.51H377.2zM377.2 55.44H379.11V58.37H377.2zM379.11 55.44H381.01V58.37H379.11zM379.11 73.02H381.01V75.95H379.11zM381.01 55.44H382.92V58.37H381.01zM382.92 43.72H384.82V46.65H382.92zM384.82 67.16H386.73V70.09H384.82zM386.73 40.79H388.63V43.72H386.73zM386.73 43.72H388.63V46.65H386.73zM386.73 46.65H388.63V49.58H386.73zM386.73 58.37H388.63V61.3H386.73zM386.73 61.3H388.63V64.23H386.73zM388.63 34.93H390.54V37.86H388.63zM388.63 37.86H390.54V40.79H388.63zM390.54 58.37H392.44V61.3H390.54zM392.44 43.72H394.35V46.65H392.44zM392.44 70.09H394.35V73.02H392.44zM392.44 75.95H394.35V78.88H392.44zM394.35 46.65H396.25V49.58H394.35zM394.35 52.51H396.25V55.44H394.35zM398.16 40.79H400.06V43.72H398.16zM398.16 49.58H400.06V52.51H398.16zM398.16 58.37H400.06V61.3H398.16zM400.06 37.86H401.97V40.79H400.06zM400.06 43.72H401.97V46.65H400.06zM400.06 49.58H401.97V52.51H400.06zM400.06 52.51H401.97V55.44H400.06zM401.97 73.02H403.88V75.95H401.97zM403.88 70.09H405.78V73.02H403.88zM405.78 70.09H407.69V73.02H405.78zM407.69 37.86H409.59V40.79H407.69zM407.69 40.79H409.59V43.72H407.69zM409.59 43.72H411.5V46.65H409.59zM409.59 58.37H411.5V61.3H409.59zM411.5 40.79H413.4V43.72H411.5zM411.5 58.37H413.4V61.3H411.5zM413.4 40.79H415.31V43.72H413.4zM413.4 52.51H415.31V55.44H413.4zM413.4 58.37H415.31V61.3H413.4zM415.31 43.72H417.21V46.65H415.31zM415.31 52.51H417.21V55.44H415.31zM415.31 70.09H417.21V73.02H415.31zM417.21 73.02H419.12V75.95H417.21zM419.12 37.86H421.02V40.79H419.12zM421.02 40.79H422.93V43.72H421.02zM422.93 37.86H424.83V40.79H422.93zM422.93 52.51H424.83V55.44H422.93zM422.93 58.37H424.83V61.3H422.93zM422.93 61.3H424.83V64.23H422.93zM422.93 70.09H424.83V73.02H422.93zM424.83 61.3H426.74V64.23H424.83zM426.74 75.95H428.64V78.88H426.74zM428.64 49.58H430.55V52.51H428.64zM430.55 58.37H432.45V61.3H430.55zM432.45 49.58H434.36V52.51H432.45zM434.36 49.58H436.26V52.51H434.36zM434.36 55.44H436.26V58.37H434.36zM436.26 73.02H438.17V75.95H436.26zM438.17 40.79H440.07V43.72H438.17zM438.17 46.65H440.07V49.58H438.17zM440.07 34.93H441.98V37.86H440.07zM440.07 49.58H441.98V52.51H440.07zM440.07 75.95H441.98V78.88H440.07zM441.98 46.65H443.88V49.58H441.98zM441.98 61.3H443.88V64.23H441.98zM443.88 40.79H445.79V43.72H443.88zM443.88 43.72H445.79V46.65H443.88zM443.88 73.02H445.79V75.95H443.88zM445.79 40.79H447.69V43.72H445.79zM445.79 43.72H447.69V46.65H445.79zM445.79 46.65H447.69V49.58H445.79zM445.79 61.3H447.69V64.23H445.79zM445.79 64.23H447.69V67.16H445.79zM447.69 61.3H449.6V64.23H447.69zM447.69 73.02H449.6V75.95H447.69zM449.6 43.72H451.5V46.65H449.6zM449.6 58.37H451.5V61.3H449.6zM451.5 58.37H453.41V61.3H451.5zM451.5 67.16H453.41V70.09H451.5zM453.41 58.37H455.31V61.3H453.41zM455.31 40.79H457.22V43.72H455.31zM457.22 46.65H459.12V49.58H457.22zM457.22 67.16H459.12V70.09H457.22zM459.12 40.79H461.02V43.72H459.12zM459.12 52.51H461.02V55.44H459.12zM459.12 70.09H461.02V73.02H459.12zM462.93 46.65H464.84V49.58H462.93zM464.84 61.3H466.74V64.23H464.84zM466.74 52.51H468.64V55.44H466.74zM468.64 73.02H470.55V75.95H468.64zM470.55 40.79H472.46V43.72H470.55zM470.55 49.58H472.46V52.51H470.55zM470.55 75.95H472.46V78.88H470.55zM472.46 43.72H474.36V46.65H472.46zM472.46 52.51H474.36V55.44H472.46zM472.46 58.37H474.36V61.3H472.46zM474.36 34.93H476.26V37.86H474.36zM474.36 37.86H476.26V40.79H474.36zM474.36 61.3H476.26V64.23H474.36zM474.36 64.23H476.26V67.16H474.36zM476.26 52.51H478.17V55.44H476.26zM476.26 73.02H478.17V75.95H476.26zM483.88 61.3H485.79V64.23H483.88zM483.88 67.16H485.79V70.09H483.88zM489.6 37.86H491.5V40.79H489.6zM491.5 40.79H493.41V43.72H491.5zM493.41 37.86H495.31V40.79H493.41zM493.41 55.44H495.31V58.37H493.41zM493.41 61.3H495.31V64.23H493.41zM495.31 46.65H497.22V49.58H495.31zM495.31 55.44H497.22V58.37H495.31zM495.31 58.37H497.22V61.3H495.31zM495.31 61.3H497.22V64.23H495.31zM495.31 67.16H497.22V70.09H495.31zM497.22 58.37H499.12V61.3H497.22zM499.12 49.58H501.03V52.51H499.12zM499.12 55.44H501.03V58.37H499.12zM501.03 67.16H502.94V70.09H501.03zM502.94 40.79H504.84V43.72H502.94zM502.94 43.72H504.84V46.65H502.94zM502.94 67.16H504.84V70.09H502.94zM504.84 34.93H506.75V37.86H504.84zM504.84 37.86H506.75V40.79H504.84zM504.84 52.51H506.75V55.44H504.84zM504.84 61.3H506.75V64.23H504.84zM504.84 70.09H506.75V73.02H504.84zM506.75 43.72H508.65V46.65H506.75zM506.75 70.09H508.65V73.02H506.75zM508.65 37.86H510.56V40.79H508.65zM508.65 49.58H510.56V52.51H508.65zM508.65 75.95H510.56V78.88H508.65zM510.56 37.86H512.46V40.79H510.56zM510.56 46.65H512.46V49.58H510.56zM510.56 52.51H512.46V55.44H510.56zM512.46 40.79H514.37V43.72H512.46zM512.46 49.58H514.37V52.51H512.46zM512.46 73.02H514.37V75.95H512.46zM514.37 34.93H516.27V37.86H514.37zM514.37 52.51H516.27V55.44H514.37zM514.37 55.44H516.27V58.37H514.37zM514.37 58.37H516.27V61.3H514.37zM516.27 49.58H518.17V52.51H516.27zM516.27 58.37H518.17V61.3H516.27zM516.27 64.23H518.17V67.16H516.27zM516.27 73.02H518.17V75.95H516.27zM518.17 73.02H520.08V75.95H518.17zM520.08 67.16H521.99V70.09H520.08zM520.08 75.95H521.99V78.88H520.08zM521.99 49.58H523.89V52.51H521.99zM521.99 64.23H523.89V67.16H521.99zM523.89 40.79H525.8V43.72H523.89zM523.89 46.65H525.8V49.58H523.89zM525.8 49.58H527.7V52.51H525.8zM525.8 73.02H527.7V75.95H525.8zM527.7 37.86H529.61V40.79H527.7zM533.41 46.65H535.32V49.58H533.41zM533.41 52.51H535.32V55.44H533.41zM533.41 75.95H535.32V78.88H533.41zM535.32 40.79H537.23V43.72H535.32zM535.32 43.72H537.23V46.65H535.32zM535.32 70.09H537.23V73.02H535.32zM537.23 46.65H539.13V49.58H537.23zM537.23 58.37H539.13V61.3H537.23zM539.13 32H541.04V34.93H539.13zM541.04 61.3H542.94V64.23H541.04zM541.04 70.09H542.94V73.02H541.04zM541.04 73.02H542.94V75.95H541.04zM541.04 75.95H542.94V78.88H541.04zM542.94 49.58H544.85V52.51H542.94zM542.94 52.51H544.85V55.44H542.94zM544.85 37.86H546.75V40.79H544.85zM544.85 40.79H546.75V43.72H544.85zM546.75 40.79H548.65V43.72H546.75zM546.75 46.65H548.65V49.58H546.75zM546.75 49.58H548.65V52.51H546.75zM546.75 58.37H548.65V61.3H546.75zM546.75 73.02H548.65V75.95H546.75zM546.75 75.95H548.65V78.88H546.75zM548.65 58.37H550.56V61.3H548.65zM548.65 75.95H550.56V78.88H548.65zM550.56 32H552.47V34.93H550.56zM550.56 37.86H552.47V40.79H550.56zM550.56 61.3H552.47V64.23H550.56zM550.56 64.23H552.47V67.16H550.56zM550.56 78.88H552.47V81.81H550.56zM552.47 40.79H554.37V43.72H552.47zM552.47 49.58H554.37V52.51H552.47zM554.37 40.79H556.27V43.72H554.37zM556.27 43.72H558.18V46.65H556.27zM556.27 61.3H558.18V64.23H556.27zM556.27 67.16H558.18V70.09H556.27zM558.18 55.44H560.09V58.37H558.18zM558.18 58.37H560.09V61.3H558.18zM558.18 61.3H560.09V64.23H558.18zM558.18 67.16H560.09V70.09H558.18zM558.18 78.88H560.09V81.81H558.18zM560.09 40.79H561.99V43.72H560.09zM560.09 61.3H561.99V64.23H560.09zM561.99 32H563.89V34.93H561.99zM561.99 61.3H563.89V64.23H561.99zM561.99 67.16H563.89V70.09H561.99zM561.99 75.95H563.89V78.88H561.99zM563.89 32H565.8V34.93H563.89zM563.89 34.93H565.8V37.86H563.89zM563.89 37.86H565.8V40.79H563.89zM563.89 73.02H565.8V75.95H563.89zM565.8 58.37H567.71V61.3H565.8zM565.8 75.95H567.71V78.88H565.8zM567.71 61.3H569.61V64.23H567.71zM567.71 70.09H569.61V73.02H567.71zM569.61 32H571.51V34.93H569.61zM569.61 43.72H571.51V46.65H569.61zM569.61 70.09H571.51V73.02H569.61zM569.61 73.02H571.51V75.95H569.61zM569.61 75.95H571.51V78.88H569.61zM571.51 43.72H573.42V46.65H571.51zM571.51 55.44H573.42V58.37H571.51zM573.42 52.51H575.33V55.44H573.42zM573.42 67.16H575.33V70.09H573.42zM575.33 40.79H577.23V43.72H575.33zM575.33 43.72H577.23V46.65H575.33zM575.33 61.3H577.23V64.23H575.33zM577.23 37.86H579.13V40.79H577.23zM577.23 73.02H579.13V75.95H577.23zM582.95 40.79H584.85V43.72H582.95zM582.95 46.65H584.85V49.58H582.95zM582.95 58.37H584.85V61.3H582.95zM584.85 49.58H586.75V52.51H584.85zM584.85 58.37H586.75V61.3H584.85zM584.85 61.3H586.75V64.23H584.85zM584.85 70.09H586.75V73.02H584.85zM586.75 40.79H588.66V43.72H586.75zM586.75 46.65H588.66V49.58H586.75zM586.75 58.37H588.66V61.3H586.75zM588.66 32H590.57V34.93H588.66zM588.66 52.51H590.57V55.44H588.66zM588.66 64.23H590.57V67.16H588.66zM588.66 70.09H590.57V73.02H588.66zM590.57 37.86H592.47V40.79H590.57zM592.47 32H594.38V34.93H592.47zM594.38 37.86H596.28V40.79H594.38zM594.38 55.44H596.28V58.37H594.38zM594.38 58.37H596.28V61.3H594.38zM594.38 70.09H596.28V73.02H594.38zM596.28 37.86H598.18V40.79H596.28zM596.28 40.79H598.18V43.72H596.28zM596.28 43.72H598.18V46.65H596.28zM596.28 55.44H598.18V58.37H596.28zM596.28 58.37H598.18V61.3H596.28zM600.09 40.79H602V43.72H600.09zM600.09 49.58H602V52.51H600.09zM600.09 52.51H602V55.44H600.09zM600.09 67.16H602V70.09H600.09zM602 49.58H603.9V52.51H602zM602 61.3H603.9V64.23H602zM603.9 43.72H605.81V46.65H603.9zM603.9 46.65H605.81V49.58H603.9zM603.9 70.09H605.81V73.02H603.9zM603.9 73.02H605.81V75.95H603.9zM605.81 34.93H607.71V37.86H605.81zM605.81 58.37H607.71V61.3H605.81zM605.81 73.02H607.71V75.95H605.81zM605.81 75.95H607.71V78.88H605.81zM607.71 34.93H609.62V37.86H607.71zM609.62 73.02H611.52V75.95H609.62zM611.52 43.72H613.42V46.65H611.52zM611.52 58.37H613.42V61.3H611.52zM613.42 37.86H615.33V40.79H613.42zM613.42 40.79H615.33V43.72H613.42zM615.33 46.65H617.24V49.58H615.33zM615.33 67.16H617.24V70.09H615.33zM615.33 70.09H617.24V73.02H615.33zM617.24 67.16H619.14V70.09H617.24zM619.14 32H621.05V34.93H619.14zM619.14 52.51H621.05V55.44H619.14zM619.14 58.37H621.05V61.3H619.14zM621.05 43.72H622.95V46.65H621.05zM621.05 49.58H622.95V52.51H621.05zM622.95 55.44H624.86V58.37H622.95zM622.95 61.3H624.86V64.23H622.95zM624.86 34.93H626.76V37.86H624.86zM630.57 49.58H632.48V52.51H630.57zM630.57 55.44H632.48V58.37H630.57zM634.38 58.37H636.29V61.3H634.38zM638.19 70.09H640.1V73.02H638.19zM638.19 75.95H640.1V78.88H638.19zM642 40.79H643.9V43.72H642zM642 58.37H643.9V61.3H642zM643.9 43.72H645.81V46.65H643.9zM643.9 46.65H645.81V49.58H643.9zM643.9 61.3H645.81V64.23H643.9zM645.81 67.16H647.72V70.09H645.81zM645.81 70.09H647.72V73.02H645.81zM647.72 43.72H649.62V46.65H647.72zM647.72 58.37H649.62V61.3H647.72zM647.72 73.02H649.62V75.95H647.72zM649.62 40.79H651.53V43.72H649.62zM649.62 43.72H651.53V46.65H649.62zM651.53 52.51H653.43V55.44H651.53zM651.53 73.02H653.43V75.95H651.53zM653.43 43.72H655.34V46.65H653.43zM653.43 73.02H655.34V75.95H653.43zM655.34 67.16H657.24V70.09H655.34zM657.24 73.02H659.14V75.95H657.24zM659.14 70.09H661.05V73.02H659.14zM659.14 75.95H661.05V78.88H659.14zM661.05 37.86H662.96V40.79H661.05zM661.05 43.72H662.96V46.65H661.05zM662.96 37.86H664.86V40.79H662.96zM664.86 49.58H666.77V52.51H664.86zM664.86 58.37H666.77V61.3H664.86zM664.86 64.23H666.77V67.16H664.86zM664.86 75.95H666.77V78.88H664.86zM666.77 46.65H668.67V49.58H666.77zM668.67 37.86H670.58V40.79H668.67zM670.58 43.72H672.48V46.65H670.58zM670.58 52.51H672.48V55.44H670.58zM670.58 70.09H672.48V73.02H670.58zM672.48 46.65H674.38V49.58H672.48zM672.48 70.09H674.38V73.02H672.48zM674.38 52.51H676.29V55.44H674.38zM674.38 55.44H676.29V58.37H674.38zM676.29 46.65H678.19V49.58H676.29zM676.29 49.58H678.19V52.51H676.29zM676.29 52.51H678.19V55.44H676.29zM676.29 67.16H678.19V70.09H676.29zM678.19 52.51H680.1V55.44H678.19zM680.1 64.23H682V67.16H680.1zM680.1 70.09H682V73.02H680.1zM683.91 46.65H685.82V49.58H683.91zM683.91 49.58H685.82V52.51H683.91zM685.82 40.79H687.72V43.72H685.82zM685.82 64.23H687.72V67.16H685.82zM689.62 40.79H691.53V43.72H689.62zM689.62 43.72H691.53V46.65H689.62zM691.53 37.86H693.43V40.79H691.53zM691.53 75.95H693.43V78.88H691.53zM693.43 34.93H695.34V37.86H693.43zM695.34 73.02H697.25V75.95H695.34zM702.96 61.3H704.87V64.23H702.96zM704.87 70.09H706.77V73.02H704.87zM706.77 34.93H708.67V37.86H706.77zM706.77 46.65H708.67V49.58H706.77zM706.77 49.58H708.67V52.51H706.77zM708.67 58.37H710.58V61.3H708.67zM710.58 46.65H712.49V49.58H710.58zM710.58 61.3H712.49V64.23H710.58zM710.58 75.95H712.49V78.88H710.58zM712.49 64.23H714.39V67.16H712.49zM716.3 52.51H718.2V55.44H716.3zM718.2 34.93H720.11V37.86H718.2zM718.2 40.79H720.11V43.72H718.2zM718.2 46.65H720.11V49.58H718.2zM718.2 70.09H720.11V73.02H718.2zM718.2 75.95H720.11V78.88H718.2zM720.11 58.37H722.01V61.3H720.11zM720.11 70.09H722.01V73.02H720.11zM722.01 40.79H723.91V43.72H722.01zM722.01 49.58H723.91V52.51H722.01zM722.01 61.3H723.91V64.23H722.01zM725.82 37.86H727.73V40.79H725.82zM725.82 43.72H727.73V46.65H725.82zM727.73 58.37H729.63V61.3H727.73zM727.73 61.3H729.63V64.23H727.73zM729.63 34.93H731.54V37.86H729.63zM729.63 67.16H731.54V70.09H729.63zM731.54 43.72H733.44V46.65H731.54zM733.44 52.51H735.35V55.44H733.44zM733.44 61.3H735.35V64.23H733.44zM735.35 61.3H737.25V64.23H735.35zM739.15 40.79H741.06V43.72H739.15zM739.15 46.65H741.06V49.58H739.15zM741.06 64.23H742.97V67.16H741.06zM742.97 46.65H744.87V49.58H742.97zM742.97 49.58H744.87V52.51H742.97zM744.87 55.44H746.78V58.37H744.87zM744.87 64.23H746.78V67.16H744.87zM748.68 64.23H750.59V67.16H748.68zM750.59 46.65H752.49V49.58H750.59zM750.59 49.58H752.49V52.51H750.59zM750.59 61.3H752.49V64.23H750.59zM752.49 55.44H754.39V58.37H752.49zM752.49 58.37H754.39V61.3H752.49zM754.39 49.58H756.3V52.51H754.39zM758.21 55.44H760.11V58.37H758.21zM758.21 73.02H760.11V75.95H758.21zM762.02 32H763.92V34.93H762.02zM762.02 58.37H763.92V61.3H762.02zM763.92 55.44H765.83V58.37H763.92zM763.92 73.02H765.83V75.95H763.92zM767.73 34.93H769.63V37.86H767.73zM769.63 34.93H771.54V37.86H769.63zM769.63 52.51H771.54V55.44H769.63zM769.63 70.09H771.54V73.02H769.63zM771.54 55.44H773.44V58.37H771.54zM773.44 46.65H775.35V49.58H773.44zM773.44 61.3H775.35V64.23H773.44zM773.44 70.09H775.35V73.02H773.44zM775.35 37.86H777.25V40.79H775.35zM775.35 70.09H777.25V73.02H775.35zM777.25 40.79H779.16V43.72H777.25zM777.25 55.44H779.16V58.37H777.25zM779.16 67.16H781.07V70.09H779.16zM781.07 73.02H782.97V75.95H781.07zM781.07 75.95H782.97V78.88H781.07zM782.97 58.37H784.88V61.3H782.97zM784.88 67.16H786.78V70.09H784.88zM786.78 43.72H788.68V46.65H786.78zM788.68 43.72H790.59V46.65H788.68zM788.68 75.95H790.59V78.88H788.68zM790.59 40.79H792.5V43.72H790.59zM790.59 49.58H792.5V52.51H790.59zM792.5 32H794.4V34.93H792.5zM792.5 67.16H794.4V70.09H792.5zM794.4 43.72H796.31V46.65H794.4zM796.31 40.79H798.21V43.72H796.31zM796.31 75.95H798.21V78.88H796.31zM796.31 78.88H798.21V81.81H796.31zM798.21 34.93H800.12V37.86H798.21zM798.21 46.65H800.12V49.58H798.21zM802.02 64.23H803.92V67.16H802.02zM802.02 70.09H803.92V73.02H802.02zM807.74 61.3H809.64V64.23H807.74zM809.64 67.16H811.55V70.09H809.64zM811.55 34.93H813.45V37.86H811.55zM811.55 67.16H813.45V70.09H811.55zM813.45 61.3H815.36V64.23H813.45zM813.45 64.23H815.36V67.16H813.45zM813.45 67.16H815.36V70.09H813.45zM815.36 67.16H817.26V70.09H815.36zM817.26 43.72H819.16V46.65H817.26zM817.26 58.37H819.16V61.3H817.26zM819.16 43.72H821.07V46.65H819.16zM819.16 52.51H821.07V55.44H819.16zM821.07 46.65H822.98V49.58H821.07zM822.98 32H824.88V34.93H822.98zM822.98 40.79H824.88V43.72H822.98zM822.98 75.95H824.88V78.88H822.98zM824.88 64.23H826.79V67.16H824.88zM826.79 58.37H828.69V61.3H826.79zM830.6 67.16H832.5V70.09H830.6zM834.4 37.86H836.31V40.79H834.4zM834.4 43.72H836.31V46.65H834.4zM834.4 75.95H836.31V78.88H834.4zM836.31 43.72H838.22V46.65H836.31zM836.31 67.16H838.22V70.09H836.31zM840.12 32H842.03V34.93H840.12zM840.12 34.93H842.03V37.86H840.12zM843.93 70.09H845.84V73.02H843.93zM847.74 43.72H849.64V46.65H847.74zM847.74 73.02H849.64V75.95H847.74zM853.46 52.51H855.36V55.44H853.46zM853.46 67.16H855.36V70.09H853.46zM855.36 40.79H857.27V43.72H855.36zM855.36 58.37H857.27V61.3H855.36zM857.27 52.51H859.17V55.44H857.27zM859.17 49.58H861.08V52.51H859.17zM861.08 40.79H862.98V43.72H861.08zM861.08 52.51H862.98V55.44H861.08zM864.88 46.65H866.79V49.58H864.88zM866.79 55.44H868.69V58.37H866.79zM868.69 37.86H870.6V40.79H868.69zM868.69 46.65H870.6V49.58H868.69zM868.69 55.44H870.6V58.37H868.69zM868.69 58.37H870.6V61.3H868.69zM870.6 32H872.5V34.93H870.6zM870.6 46.65H872.5V49.58H870.6zM874.41 61.3H876.32V64.23H874.41zM874.41 70.09H876.32V73.02H874.41zM876.32 64.23H878.22V67.16H876.32zM876.32 67.16H878.22V70.09H876.32zM880.12 32H882.03V34.93H880.12zM880.12 46.65H882.03V49.58H880.12zM880.12 64.23H882.03V67.16H880.12zM882.03 40.79H883.93V43.72H882.03zM882.03 46.65H883.93V49.58H882.03zM882.03 55.44H883.93V58.37H882.03zM883.93 61.3H885.84V64.23H883.93zM883.93 73.02H885.84V75.95H883.93zM889.65 34.93H891.56V37.86H889.65zM889.65 49.58H891.56V52.51H889.65z"/>
<path fill="#91a9b1" d="M377.2 43.72H379.11V46.65H377.2zM381.01 46.65H382.92V49.58H381.01zM384.82 43.72H386.73V46.65H384.82zM384.82 52.51H386.73V55.44H384.82zM384.82 61.3H386.73V64.23H384.82zM384.82 70.09H386.73V73.02H384.82zM384.82 73.02H386.73V75.95H384.82zM388.63 49.58H390.54V52.51H388.63zM392.44 49.58H394.35V52.51H392.44zM392.44 58.37H394.35V61.3H392.44zM396.25 55.44H398.16V58.37H396.25zM405.78 55.44H407.69V58.37H405.78zM417.21 40.79H419.12V43.72H417.21zM417.21 43.72H419.12V46.65H417.21zM417.21 49.58H419.12V52.51H417.21zM419.12 55.44H421.02V58.37H419.12zM422.93 46.65H424.83V49.58H422.93zM424.83 75.95H426.74V78.88H424.83zM426.74 46.65H428.64V49.58H426.74zM430.55 46.65H432.45V49.58H430.55zM430.55 49.58H432.45V52.51H430.55zM436.26 43.72H438.17V46.65H436.26zM438.17 73.02H440.07V75.95H438.17zM438.17 75.95H440.07V78.88H438.17zM441.98 52.51H443.88V55.44H441.98zM441.98 55.44H443.88V58.37H441.98zM443.88 49.58H445.79V52.51H443.88zM443.88 58.37H445.79V61.3H443.88zM445.79 75.95H447.69V78.88H445.79zM447.69 52.51H449.6V55.44H447.69zM451.5 73.02H453.41V75.95H451.5zM455.31 52.51H457.22V55.44H455.31zM455.31 55.44H457.22V58.37H455.31zM457.22 55.44H459.12V58.37H457.22zM457.22 58.37H459.12V61.3H457.22zM457.22 61.3H459.12V64.23H457.22zM461.02 52.51H462.93V55.44H461.02zM461.02 75.95H462.93V78.88H461.02zM464.84 49.58H466.74V52.51H464.84zM464.84 75.95H466.74V78.88H464.84zM466.74 75.95H468.64V78.88H466.74zM474.36 43.72H476.26V46.65H474.36zM474.36 73.02H476.26V75.95H474.36zM474.36 75.95H476.26V78.88H474.36zM481.98 40.79H483.88V43.72H481.98zM483.88 43.72H485.79V46.65H483.88zM485.79 49.58H487.69V52.51H485.79zM489.6 52.51H491.5V55.44H489.6zM501.03 52.51H502.94V55.44H501.03zM501.03 75.95H502.94V78.88H501.03zM504.84 43.72H506.75V46.65H504.84zM504.84 46.65H506.75V49.58H504.84zM506.75 46.65H508.65V49.58H506.75zM516.27 40.79H518.17V43.72H516.27zM516.27 43.72H518.17V46.65H516.27zM531.51 58.37H533.41V61.3H531.51zM535.32 75.95H537.23V78.88H535.32zM539.13 40.79H541.04V43.72H539.13zM541.04 52.51H542.94V55.44H541.04zM544.85 34.93H546.75V37.86H544.85zM544.85 46.65H546.75V49.58H544.85zM544.85 75.95H546.75V78.88H544.85zM548.65 43.72H550.56V46.65H548.65zM548.65 46.65H550.56V49.58H548.65zM548.65 49.58H550.56V52.51H548.65zM548.65 55.44H550.56V58.37H548.65zM548.65 78.88H550.56V81.81H548.65zM558.18 73.02H560.09V75.95H558.18zM560.09 46.65H561.99V49.58H560.09zM563.89 78.88H565.8V81.81H563.89zM571.51 70.09H573.42V73.02H571.51zM571.51 78.88H573.42V81.81H571.51zM575.33 78.88H577.23V81.81H575.33zM577.23 40.79H579.13V43.72H577.23zM577.23 43.72H579.13V46.65H577.23zM581.04 43.72H582.95V46.65H581.04zM582.95 52.51H584.85V55.44H582.95zM582.95 73.02H584.85V75.95H582.95zM588.66 46.65H590.57V49.58H588.66zM588.66 58.37H590.57V61.3H588.66zM590.57 40.79H592.47V43.72H590.57zM594.38 52.51H596.28V55.44H594.38zM596.28 52.51H598.18V55.44H596.28zM602 75.95H603.9V78.88H602zM603.9 49.58H605.81V52.51H603.9zM603.9 52.51H605.81V55.44H603.9zM609.62 52.51H611.52V55.44H609.62zM611.52 49.58H613.42V52.51H611.52zM613.42 64.23H615.33V67.16H613.42zM613.42 70.09H615.33V73.02H613.42zM613.42 73.02H615.33V75.95H613.42zM619.14 73.02H621.05V75.95H619.14zM626.76 40.79H628.66V43.72H626.76zM626.76 49.58H628.66V52.51H626.76zM626.76 55.44H628.66V58.37H626.76zM630.57 52.51H632.48V55.44H630.57zM630.57 75.95H632.48V78.88H630.57zM632.48 49.58H634.38V52.51H632.48zM632.48 55.44H634.38V58.37H632.48zM634.38 49.58H636.29V52.51H634.38zM634.38 70.09H636.29V73.02H634.38zM634.38 73.02H636.29V75.95H634.38zM636.29 49.58H638.19V52.51H636.29zM640.1 40.79H642V43.72H640.1zM643.9 55.44H645.81V58.37H643.9zM647.72 49.58H649.62V52.51H647.72zM647.72 52.51H649.62V55.44H647.72zM647.72 55.44H649.62V58.37H647.72zM649.62 46.65H651.53V49.58H649.62zM649.62 58.37H651.53V61.3H649.62zM653.43 49.58H655.34V52.51H653.43zM653.43 55.44H655.34V58.37H653.43zM655.34 46.65H657.24V49.58H655.34zM657.24 46.65H659.14V49.58H657.24zM657.24 75.95H659.14V78.88H657.24zM659.14 43.72H661.05V46.65H659.14zM659.14 49.58H661.05V52.51H659.14zM661.05 49.58H662.96V52.51H661.05zM662.96 70.09H664.86V73.02H662.96zM664.86 67.16H666.77V70.09H664.86zM664.86 70.09H666.77V73.02H664.86zM664.86 73.02H666.77V75.95H664.86zM668.67 46.65H670.58V49.58H668.67zM670.58 73.02H672.48V75.95H670.58zM670.58 75.95H672.48V78.88H670.58zM672.48 49.58H674.38V52.51H672.48zM672.48 67.16H674.38V70.09H672.48zM676.29 70.09H678.19V73.02H676.29zM680.1 61.3H682V64.23H680.1zM680.1 67.16H682V70.09H680.1zM680.1 75.95H682V78.88H680.1zM685.82 52.51H687.72V55.44H685.82zM685.82 58.37H687.72V61.3H685.82zM685.82 61.3H687.72V64.23H685.82zM685.82 70.09H687.72V73.02H685.82zM689.62 58.37H691.53V61.3H689.62zM689.62 73.02H691.53V75.95H689.62zM693.43 40.79H695.34V43.72H693.43zM693.43 43.72H695.34V46.65H693.43zM693.43 58.37H695.34V61.3H693.43zM697.25 55.44H699.15V58.37H697.25zM699.15 61.3H701.06V64.23H699.15zM699.15 67.16H701.06V70.09H699.15zM701.06 46.65H702.96V49.58H701.06zM701.06 67.16H702.96V70.09H701.06zM702.96 34.93H704.87V37.86H702.96zM706.77 55.44H708.67V58.37H706.77zM706.77 58.37H708.67V61.3H706.77zM708.67 73.02H710.58V75.95H708.67zM708.67 75.95H710.58V78.88H708.67zM712.49 49.58H714.39V52.51H712.49zM712.49 52.51H714.39V55.44H712.49zM718.2 55.44H720.11V58.37H718.2zM722.01 75.95H723.91V78.88H722.01zM725.82 58.37H727.73V61.3H725.82zM727.73 52.51H729.63V55.44H727.73zM729.63 37.86H731.54V40.79H729.63zM737.25 73.02H739.15V75.95H737.25zM737.25 75.95H739.15V78.88H737.25zM741.06 49.58H742.97V52.51H741.06zM742.97 75.95H744.87V78.88H742.97zM744.87 46.65H746.78V49.58H744.87zM748.68 34.93H750.59V37.86H748.68zM748.68 55.44H750.59V58.37H748.68zM748.68 58.37H750.59V61.3H748.68zM752.49 46.65H754.39V49.58H752.49zM752.49 52.51H754.39V55.44H752.49zM760.11 46.65H762.02V49.58H760.11zM760.11 52.51H762.02V55.44H760.11zM760.11 58.37H762.02V61.3H760.11zM760.11 61.3H762.02V64.23H760.11zM762.02 40.79H763.92V43.72H762.02zM762.02 52.51H763.92V55.44H762.02zM762.02 75.95H763.92V78.88H762.02zM763.92 58.37H765.83V61.3H763.92zM763.92 61.3H765.83V64.23H763.92zM767.73 49.58H769.63V52.51H767.73zM767.73 64.23H769.63V67.16H767.73zM771.54 49.58H773.44V52.51H771.54zM775.35 52.51H777.25V55.44H775.35zM779.16 32H781.07V34.93H779.16zM779.16 70.09H781.07V73.02H779.16zM781.07 40.79H782.97V43.72H781.07zM782.97 73.02H784.88V75.95H782.97zM784.88 43.72H786.78V46.65H784.88zM784.88 52.51H786.78V55.44H784.88zM784.88 55.44H786.78V58.37H784.88zM784.88 75.95H786.78V78.88H784.88zM788.68 61.3H790.59V64.23H788.68zM796.31 43.72H798.21V46.65H796.31zM796.31 73.02H798.21V75.95H796.31zM798.21 58.37H800.12V61.3H798.21zM802.02 58.37H803.92V61.3H802.02zM805.83 64.23H807.74V67.16H805.83zM807.74 73.02H809.64V75.95H807.74zM809.64 37.86H811.55V40.79H809.64zM811.55 73.02H813.45V75.95H811.55zM817.26 75.95H819.16V78.88H817.26zM822.98 46.65H824.88V49.58H822.98zM824.88 67.16H826.79V70.09H824.88zM824.88 73.02H826.79V75.95H824.88zM826.79 52.51H828.69V55.44H826.79zM828.69 37.86H830.6V40.79H828.69zM830.6 49.58H832.5V52.51H830.6zM830.6 70.09H832.5V73.02H830.6zM830.6 73.02H832.5V75.95H830.6zM832.5 73.02H834.4V75.95H832.5zM836.31 46.65H838.22V49.58H836.31zM836.31 49.58H838.22V52.51H836.31zM838.22 52.51H840.12V55.44H838.22zM840.12 37.86H842.03V40.79H840.12zM842.03 49.58H843.93V52.51H842.03zM842.03 58.37H843.93V61.3H842.03zM842.03 61.3H843.93V64.23H842.03zM843.93 73.02H845.84V75.95H843.93zM845.84 64.23H847.74V67.16H845.84zM845.84 67.16H847.74V70.09H845.84zM845.84 75.95H847.74V78.88H845.84zM847.74 58.37H849.64V61.3H847.74zM851.55 49.58H853.46V52.51H851.55zM855.36 43.72H857.27V46.65H855.36zM855.36 67.16H857.27V70.09H855.36zM857.27 64.23H859.17V67.16H857.27zM859.17 58.37H861.08V61.3H859.17zM859.17 61.3H861.08V64.23H859.17zM861.08 46.65H862.98V49.58H861.08zM866.79 70.09H868.69V73.02H866.79zM866.79 73.02H868.69V75.95H866.79zM868.69 40.79H870.6V43.72H868.69zM868.69 61.3H870.6V64.23H868.69zM870.6 37.86H872.5V40.79H870.6zM870.6 52.51H872.5V55.44H870.6zM872.5 49.58H874.41V52.51H872.5zM872.5 58.37H874.41V61.3H872.5zM874.41 46.65H876.32V49.58H874.41zM880.12 61.3H882.03V64.23H880.12zM880.12 73.02H882.03V75.95H880.12zM882.03 58.37H883.93V61.3H882.03zM883.93 52.51H885.84V55.44H883.93zM885.84 49.58H887.75V52.51H885.84z"/>
<path fill="#a8c7c7" d="M377.2 46.65H379.11V49.58H377.2zM377.2 67.16H379.11V70.09H377.2zM377.2 70.09H379.11V73.02H377.2zM377.2 73.02H379.11V75.95H377.2zM377.2 75.95H379.11V78.88H377.2zM379.11 49.58H381.01V52.51H379.11zM379.11 52.51H381.01V55.44H379.11zM381.01 40.79H382.92V43.72H381.01zM381.01 43.72H382.92V46.65H381.01zM381.01 49.58H382.92V52.51H381.01zM381.01 52.51H382.92V55.44H381.01zM382.92 52.51H384.82V55.44H382.92zM382.92 58.37H384.82V61.3H382.92zM384.82 40.79H386.73V43.72H384.82zM386.73 49.58H388.63V52.51H386.73zM386.73 70.09H388.63V73.02H386.73zM386.73 73.02H388.63V75.95H386.73zM386.73 75.95H388.63V78.88H386.73zM388.63 52.51H390.54V55.44H388.63zM390.54 40.79H392.44V43.72H390.54zM390.54 46.65H392.44V49.58H390.54zM390.54 52.51H392.44V55.44H390.54zM390.54 55.44H392.44V58.37H390.54zM390.54 73.02H392.44V75.95H390.54zM390.54 75.95H392.44V78.88H390.54zM392.44 52.51H394.35V55.44H392.44zM394.35 75.95H396.25V78.88H394.35zM396.25 58.37H398.16V61.3H396.25zM400.06 46.65H401.97V49.58H400.06zM400.06 75.95H401.97V78.88H400.06zM401.97 46.65H403.88V49.58H401.97zM401.97 49.58H403.88V52.51H401.97zM401.97 52.51H403.88V55.44H401.97zM401.97 58.37H403.88V61.3H401.97zM401.97 75.95H403.88V78.88H401.97zM403.88 43.72H405.78V46.65H403.88zM403.88 46.65H405.78V49.58H403.88zM403.88 49.58H405.78V52.51H403.88zM403.88 55.44H405.78V58.37H403.88zM403.88 73.02H405.78V75.95H403.88zM403.88 75.95H405.78V78.88H403.88zM405.78 46.65H407.69V49.58H405.78zM405.78 52.51H407.69V55.44H405.78zM405.78 58.37H407.69V61.3H405.78zM405.78 73.02H407.69V75.95H405.78zM407.69 43.72H409.59V46.65H407.69zM407.69 46.65H409.59V49.58H407.69zM409.59 46.65H411.5V49.58H409.59zM409.59 49.58H411.5V52.51H409.59zM409.59 52.51H411.5V55.44H409.59zM411.5 52.51H413.4V55.44H411.5zM413.4 73.02H415.31V75.95H413.4zM417.21 52.51H419.12V55.44H417.21zM419.12 43.72H421.02V46.65H419.12zM419.12 58.37H421.02V61.3H419.12zM421.02 49.58H422.93V52.51H421.02zM421.02 75.95H422.93V78.88H421.02zM422.93 49.58H424.83V52.51H422.93zM422.93 73.02H424.83V75.95H422.93zM424.83 43.72H426.74V46.65H424.83zM424.83 52.51H426.74V55.44H424.83zM424.83 55.44H426.74V58.37H424.83zM424.83 73.02H426.74V75.95H424.83zM428.64 52.51H430.55V55.44H428.64zM428.64 75.95H430.55V78.88H428.64zM430.55 43.72H432.45V46.65H430.55zM432.45 55.44H434.36V58.37H432.45zM434.36 46.65H436.26V49.58H434.36zM436.26 49.58H438.17V52.51H436.26zM436.26 52.51H438.17V55.44H436.26zM436.26 58.37H438.17V61.3H436.26zM436.26 75.95H438.17V78.88H436.26zM438.17 52.51H440.07V55.44H438.17zM438.17 55.44H440.07V58.37H438.17zM438.17 58.37H440.07V61.3H438.17zM441.98 73.02H443.88V75.95H441.98zM441.98 75.95H443.88V78.88H441.98zM445.79 52.51H447.69V55.44H445.79zM447.69 46.65H449.6V49.58H447.69zM447.69 75.95H449.6V78.88H447.69zM449.6 55.44H451.5V58.37H449.6zM451.5 37.86H453.41V40.79H451.5zM451.5 40.79H453.41V43.72H451.5zM451.5 46.65H453.41V49.58H451.5zM451.5 49.58H453.41V52.51H451.5zM451.5 52.51H453.41V55.44H451.5zM453.41 40.79H455.31V43.72H453.41zM453.41 49.58H455.31V52.51H453.41zM453.41 55.44H455.31V58.37H453.41zM455.31 43.72H457.22V46.65H455.31zM457.22 64.23H459.12V67.16H457.22zM457.22 70.09H459.12V73.02H457.22zM457.22 73.02H459.12V75.95H457.22zM459.12 43.72H461.02V46.65H459.12zM459.12 55.44H461.02V58.37H459.12zM459.12 73.02H461.02V75.95H459.12zM459.12 75.95H461.02V78.88H459.12zM462.93 49.58H464.84V52.51H462.93zM462.93 61.3H464.84V64.23H462.93zM464.84 43.72H466.74V46.65H464.84zM464.84 46.65H466.74V49.58H464.84zM464.84 52.51H466.74V55.44H464.84zM464.84 58.37H466.74V61.3H464.84zM466.74 70.09H468.64V73.02H466.74zM466.74 73.02H468.64V75.95H466.74zM468.64 43.72H470.55V46.65H468.64zM472.46 46.65H474.36V49.58H472.46zM474.36 40.79H476.26V43.72H474.36zM476.26 58.37H478.17V61.3H476.26zM478.17 43.72H480.08V46.65H478.17zM478.17 52.51H480.08V55.44H478.17zM480.08 49.58H481.98V52.51H480.08zM480.08 70.09H481.98V73.02H480.08zM480.08 73.02H481.98V75.95H480.08zM481.98 58.37H483.88V61.3H481.98zM483.88 40.79H485.79V43.72H483.88zM485.79 52.51H487.69V55.44H485.79zM487.69 73.02H489.6V75.95H487.69zM487.69 75.95H489.6V78.88H487.69zM489.6 40.79H491.5V43.72H489.6zM489.6 43.72H491.5V46.65H489.6zM489.6 58.37H491.5V61.3H489.6zM489.6 67.16H491.5V70.09H489.6zM491.5 43.72H493.41V46.65H491.5zM491.5 49.58H493.41V52.51H491.5zM497.22 46.65H499.12V49.58H497.22zM497.22 52.51H499.12V55.44H497.22zM497.22 73.02H499.12V75.95H497.22zM499.12 46.65H501.03V49.58H499.12zM502.94 49.58H504.84V52.51H502.94zM502.94 70.09H504.84V73.02H502.94zM502.94 73.02H504.84V75.95H502.94zM502.94 75.95H504.84V78.88H502.94zM504.84 49.58H506.75V52.51H504.84zM504.84 58.37H506.75V61.3H504.84zM504.84 67.16H506.75V70.09H504.84zM512.46 37.86H514.37V40.79H512.46zM512.46 52.51H514.37V55.44H512.46zM514.37 37.86H516.27V40.79H514.37zM514.37 46.65H516.27V49.58H514.37zM516.27 52.51H518.17V55.44H516.27zM516.27 55.44H518.17V58.37H516.27zM516.27 61.3H518.17V64.23H516.27zM516.27 70.09H518.17V73.02H516.27zM521.99 43.72H523.89V46.65H521.99zM527.7 46.65H529.61V49.58H527.7zM527.7 70.09H529.61V73.02H527.7zM529.61 49.58H531.51V52.51H529.61zM529.61 55.44H531.51V58.37H529.61zM531.51 43.72H533.41V46.65H531.51zM531.51 46.65H533.41V49.58H531.51zM531.51 70.09H533.41V73.02H531.51zM533.41 40.79H535.32V43.72H533.41zM535.32 73.02H537.23V75.95H535.32zM537.23 49.58H539.13V52.51H537.23zM537.23 55.44H539.13V58.37H537.23zM537.23 73.02H539.13V75.95H537.23zM539.13 55.44H541.04V58.37H539.13zM541.04 49.58H542.94V52.51H541.04zM542.94 58.37H544.85V61.3H542.94zM542.94 73.02H544.85V75.95H542.94zM544.85 43.72H546.75V46.65H544.85zM544.85 55.44H546.75V58.37H544.85zM544.85 58.37H546.75V61.3H544.85zM548.65 40.79H550.56V43.72H548.65zM550.56 40.79H552.47V43.72H550.56zM550.56 52.51H552.47V55.44H550.56zM550.56 58.37H552.47V61.3H550.56zM552.47 43.72H554.37V46.65H552.47zM552.47 46.65H554.37V49.58H552.47zM552.47 73.02H554.37V75.95H552.47zM554.37 46.65H556.27V49.58H554.37zM554.37 73.02H556.27V75.95H554.37zM556.27 58.37H558.18V61.3H556.27zM558.18 75.95H560.09V78.88H558.18zM560.09 49.58H561.99V52.51H560.09zM560.09 52.51H561.99V55.44H560.09zM561.99 34.93H563.89V37.86H561.99zM561.99 40.79H563.89V43.72H561.99zM561.99 73.02H563.89V75.95H561.99zM563.89 40.79H565.8V43.72H563.89zM563.89 43.72H565.8V46.65H563.89zM565.8 55.44H567.71V58.37H565.8zM567.71 75.95H569.61V78.88H567.71zM567.71 78.88H569.61V81.81H567.71zM571.51 52.51H573.42V55.44H571.51zM573.42 78.88H575.33V81.81H573.42zM575.33 49.58H577.23V52.51H575.33zM575.33 52.51H577.23V55.44H575.33zM579.13 49.58H581.04V52.51H579.13zM581.04 40.79H582.95V43.72H581.04zM581.04 49.58H582.95V52.51H581.04zM581.04 75.95H582.95V78.88H581.04zM582.95 34.93H584.85V37.86H582.95zM584.85 52.51H586.75V55.44H584.85zM584.85 75.95H586.75V78.88H584.85zM586.75 43.72H588.66V46.65H586.75zM586.75 49.58H588.66V52.51H586.75zM588.66 49.58H590.57V52.51H588.66zM588.66 55.44H590.57V58.37H588.66zM590.57 70.09H592.47V73.02H590.57zM592.47 55.44H594.38V58.37H592.47zM594.38 46.65H596.28V49.58H594.38zM594.38 73.02H596.28V75.95H594.38zM598.18 73.02H600.09V75.95H598.18zM600.09 55.44H602V58.37H600.09zM602 40.79H603.9V43.72H602zM602 67.16H603.9V70.09H602zM603.9 55.44H605.81V58.37H603.9zM603.9 58.37H605.81V61.3H603.9zM603.9 75.95H605.81V78.88H603.9zM605.81 46.65H607.71V49.58H605.81zM609.62 46.65H611.52V49.58H609.62zM615.33 49.58H617.24V52.51H615.33zM617.24 73.02H619.14V75.95H617.24zM619.14 40.79H621.05V43.72H619.14zM622.95 49.58H624.86V52.51H622.95zM622.95 52.51H624.86V55.44H622.95zM622.95 58.37H624.86V61.3H622.95zM624.86 46.65H626.76V49.58H624.86zM626.76 46.65H628.66V49.58H626.76zM630.57 58.37H632.48V61.3H630.57zM632.48 46.65H634.38V49.58H632.48zM632.48 61.3H634.38V64.23H632.48zM632.48 73.02H634.38V75.95H632.48zM634.38 46.65H636.29V49.58H634.38zM634.38 52.51H636.29V55.44H634.38zM634.38 67.16H636.29V70.09H634.38zM636.29 61.3H638.19V64.23H636.29zM636.29 64.23H638.19V67.16H636.29zM636.29 70.09H638.19V73.02H636.29zM638.19 58.37H640.1V61.3H638.19zM638.19 73.02H640.1V75.95H638.19zM642 43.72H643.9V46.65H642zM642 55.44H643.9V58.37H642zM642 70.09H643.9V73.02H642zM645.81 40.79H647.72V43.72H645.81zM647.72 46.65H649.62V49.58H647.72zM647.72 70.09H649.62V73.02H647.72zM649.62 64.23H651.53V67.16H649.62zM649.62 67.16H651.53V70.09H649.62zM655.34 55.44H657.24V58.37H655.34zM655.34 58.37H657.24V61.3H655.34zM655.34 61.3H657.24V64.23H655.34zM655.34 64.23H657.24V67.16H655.34zM657.24 37.86H659.14V40.79H657.24zM657.24 43.72H659.14V46.65H657.24zM657.24 70.09H659.14V73.02H657.24zM661.05 40.79H662.96V43.72H661.05zM661.05 52.51H662.96V55.44H661.05zM662.96 49.58H664.86V52.51H662.96zM662.96 52.51H664.86V55.44H662.96zM666.77 34.93H668.67V37.86H666.77zM666.77 37.86H668.67V40.79H666.77zM666.77 43.72H668.67V46.65H666.77zM668.67 40.79H670.58V43.72H668.67zM668.67 55.44H670.58V58.37H668.67zM670.58 46.65H672.48V49.58H670.58zM670.58 49.58H672.48V52.51H670.58zM672.48 75.95H674.38V78.88H672.48zM676.29 43.72H678.19V46.65H676.29zM678.19 58.37H680.1V61.3H678.19zM680.1 46.65H682V49.58H680.1zM682 37.86H683.91V40.79H682zM682 43.72H683.91V46.65H682zM682 75.95H683.91V78.88H682zM683.91 40.79H685.82V43.72H683.91zM685.82 49.58H687.72V52.51H685.82zM685.82 73.02H687.72V75.95H685.82zM691.53 43.72H693.43V46.65H691.53zM691.53 46.65H693.43V49.58H691.53zM693.43 37.86H695.34V40.79H693.43zM695.34 46.65H697.25V49.58H695.34zM697.25 73.02H699.15V75.95H697.25zM699.15 40.79H701.06V43.72H699.15zM701.06 40.79H702.96V43.72H701.06zM701.06 55.44H702.96V58.37H701.06zM701.06 73.02H702.96V75.95H701.06zM702.96 37.86H704.87V40.79H702.96zM702.96 55.44H704.87V58.37H702.96zM702.96 67.16H704.87V70.09H702.96zM702.96 70.09H704.87V73.02H702.96zM702.96 75.95H704.87V78.88H702.96zM708.67 40.79H710.58V43.72H708.67zM708.67 46.65H710.58V49.58H708.67zM708.67 49.58H710.58V52.51H708.67zM708.67 55.44H710.58V58.37H708.67zM710.58 49.58H712.49V52.51H710.58zM714.39 46.65H716.3V49.58H714.39zM714.39 55.44H716.3V58.37H714.39zM718.2 58.37H720.11V61.3H718.2zM723.91 52.51H725.82V55.44H723.91zM725.82 75.95H727.73V78.88H725.82zM727.73 43.72H729.63V46.65H727.73zM727.73 75.95H729.63V78.88H727.73zM731.54 46.65H733.44V49.58H731.54zM733.44 70.09H735.35V73.02H733.44zM737.25 55.44H739.15V58.37H737.25zM737.25 61.3H739.15V64.23H737.25zM741.06 52.51H742.97V55.44H741.06zM741.06 73.02H742.97V75.95H741.06zM742.97 55.44H744.87V58.37H742.97zM742.97 64.23H744.87V67.16H742.97zM742.97 73.02H744.87V75.95H742.97zM744.87 52.51H746.78V55.44H744.87zM746.78 40.79H748.68V43.72H746.78zM746.78 46.65H748.68V49.58H746.78zM746.78 49.58H748.68V52.51H746.78zM746.78 52.51H748.68V55.44H746.78zM746.78 61.3H748.68V64.23H746.78zM746.78 64.23H748.68V67.16H746.78zM746.78 70.09H748.68V73.02H746.78zM746.78 73.02H748.68V75.95H746.78zM746.78 75.95H748.68V78.88H746.78zM750.59 43.72H752.49V46.65H750.59zM752.49 75.95H754.39V78.88H752.49zM754.39 64.23H756.3V67.16H754.39zM758.21 43.72H760.11V46.65H758.21zM760.11 37.86H762.02V40.79H760.11zM760.11 43.72H762.02V46.65H760.11zM760.11 64.23H762.02V67.16H760.11zM760.11 70.09H762.02V73.02H760.11zM760.11 75.95H762.02V78.88H760.11zM762.02 70.09H763.92V73.02H762.02zM765.83 49.58H767.73V52.51H765.83zM767.73 32H769.63V34.93H767.73zM767.73 55.44H769.63V58.37H767.73zM767.73 73.02H769.63V75.95H767.73zM769.63 37.86H771.54V40.79H769.63zM769.63 55.44H771.54V58.37H769.63zM771.54 52.51H773.44V55.44H771.54zM775.35 46.65H777.25V49.58H775.35zM777.25 73.02H779.16V75.95H777.25zM781.07 46.65H782.97V49.58H781.07zM781.07 49.58H782.97V52.51H781.07zM784.88 49.58H786.78V52.51H784.88zM784.88 64.23H786.78V67.16H784.88zM788.68 58.37H790.59V61.3H788.68zM788.68 73.02H790.59V75.95H788.68zM792.5 49.58H794.4V52.51H792.5zM792.5 52.51H794.4V55.44H792.5zM792.5 73.02H794.4V75.95H792.5zM794.4 40.79H796.31V43.72H794.4zM794.4 58.37H796.31V61.3H794.4zM794.4 61.3H796.31V64.23H794.4zM798.21 43.72H800.12V46.65H798.21zM798.21 49.58H800.12V52.51H798.21zM798.21 78.88H800.12V81.81H798.21zM800.12 40.79H802.02V43.72H800.12zM800.12 49.58H802.02V52.51H800.12zM802.02 32H803.92V34.93H802.02zM802.02 73.02H803.92V75.95H802.02zM805.83 32H807.74V34.93H805.83zM809.64 46.65H811.55V49.58H809.64zM809.64 58.37H811.55V61.3H809.64zM811.55 40.79H813.45V43.72H811.55zM811.55 49.58H813.45V52.51H811.55zM811.55 52.51H813.45V55.44H811.55zM811.55 55.44H813.45V58.37H811.55zM811.55 58.37H813.45V61.3H811.55zM811.55 70.09H813.45V73.02H811.55zM815.36 58.37H817.26V61.3H815.36zM819.16 49.58H821.07V52.51H819.16zM821.07 40.79H822.98V43.72H821.07zM821.07 49.58H822.98V52.51H821.07zM821.07 58.37H822.98V61.3H821.07zM821.07 64.23H822.98V67.16H821.07zM824.88 37.86H826.79V40.79H824.88zM826.79 55.44H828.69V58.37H826.79zM828.69 40.79H830.6V43.72H828.69zM828.69 52.51H830.6V55.44H828.69zM836.31 58.37H838.22V61.3H836.31zM836.31 64.23H838.22V67.16H836.31zM838.22 70.09H840.12V73.02H838.22zM840.12 40.79H842.03V43.72H840.12zM840.12 67.16H842.03V70.09H840.12zM842.03 52.51H843.93V55.44H842.03zM842.03 55.44H843.93V58.37H842.03zM843.93 32H845.84V34.93H843.93zM843.93 40.79H845.84V43.72H843.93zM843.93 43.72H845.84V46.65H843.93zM843.93 64.23H845.84V67.16H843.93zM845.84 58.37H847.74V61.3H845.84zM845.84 61.3H847.74V64.23H845.84zM847.74 67.16H849.64V70.09H847.74zM849.64 73.02H851.55V75.95H849.64zM851.55 73.02H853.46V75.95H851.55zM851.55 75.95H853.46V78.88H851.55zM853.46 46.65H855.36V49.58H853.46zM853.46 64.23H855.36V67.16H853.46zM859.17 43.72H861.08V46.65H859.17zM859.17 52.51H861.08V55.44H859.17zM864.88 49.58H866.79V52.51H864.88zM864.88 75.95H866.79V78.88H864.88zM866.79 67.16H868.69V70.09H866.79zM866.79 75.95H868.69V78.88H866.79zM868.69 32H870.6V34.93H868.69zM870.6 34.93H872.5V37.86H870.6zM872.5 32H874.41V34.93H872.5zM872.5 34.93H874.41V37.86H872.5zM874.41 75.95H876.32V78.88H874.41zM876.32 49.58H878.22V52.51H876.32zM878.22 40.79H880.12V43.72H878.22zM878.22 52.51H880.12V55.44H878.22zM880.12 37.86H882.03V40.79H880.12zM880.12 55.44H882.03V58.37H880.12zM880.12 70.09H882.03V73.02H880.12zM882.03 61.3H883.93V64.23H882.03zM883.93 49.58H885.84V52.51H883.93zM885.84 46.65H887.75V49.58H885.84zM889.65 32H891.56V34.93H889.65zM889.65 58.37H891.56V61.3H889.65zM889.65 73.02H891.56V75.95H889.65z"/>
<path fill="#eef4f4" d="M377.2 61.3H379.11V64.23H377.2zM377.2 64.23H379.11V67.16H377.2zM379.11 40.79H381.01V43.72H379.11zM381.01 37.86H382.92V40.79H381.01zM381.01 61.3H382.92V64.23H381.01zM382.92 61.3H384.82V64.23H382.92zM382.92 70.09H384.82V73.02H382.92zM382.92 73.02H384.82V75.95H382.92zM386.73 67.16H388.63V70.09H386.73zM388.63 58.37H390.54V61.3H388.63zM388.63 61.3H390.54V64.23H388.63zM388.63 67.16H390.54V70.09H388.63zM390.54 61.3H392.44V64.23H390.54zM390.54 67.16H392.44V70.09H390.54zM392.44 40.79H394.35V43.72H392.44zM394.35 43.72H396.25V46.65H394.35zM394.35 67.16H396.25V70.09H394.35zM396.25 40.79H398.16V43.72H396.25zM400.06 34.93H401.97V37.86H400.06zM400.06 73.02H401.97V75.95H400.06zM403.88 61.3H405.78V64.23H403.88zM403.88 67.16H405.78V70.09H403.88zM405.78 37.86H407.69V40.79H405.78zM405.78 67.16H407.69V70.09H405.78zM407.69 34.93H409.59V37.86H407.69zM407.69 52.51H409.59V55.44H407.69zM407.69 58.37H409.59V61.3H407.69zM407.69 70.09H409.59V73.02H407.69zM407.69 73.02H409.59V75.95H407.69zM409.59 37.86H411.5V40.79H409.59zM415.31 37.86H417.21V40.79H415.31zM415.31 40.79H417.21V43.72H415.31zM417.21 58.37H419.12V61.3H417.21zM419.12 34.93H421.02V37.86H419.12zM419.12 67.16H421.02V70.09H419.12zM421.02 37.86H422.93V40.79H421.02zM426.74 64.23H428.64V67.16H426.74zM426.74 70.09H428.64V73.02H426.74zM428.64 46.65H430.55V49.58H428.64zM430.55 61.3H432.45V64.23H430.55zM430.55 67.16H432.45V70.09H430.55zM430.55 75.95H432.45V78.88H430.55zM432.45 37.86H434.36V40.79H432.45zM432.45 64.23H434.36V67.16H432.45zM434.36 37.86H436.26V40.79H434.36zM434.36 64.23H436.26V67.16H434.36zM434.36 73.02H436.26V75.95H434.36zM434.36 75.95H436.26V78.88H434.36zM438.17 61.3H440.07V64.23H438.17zM440.07 70.09H441.98V73.02H440.07zM440.07 73.02H441.98V75.95H440.07zM441.98 43.72H443.88V46.65H441.98zM441.98 64.23H443.88V67.16H441.98zM441.98 70.09H443.88V73.02H441.98zM443.88 70.09H445.79V73.02H443.88zM445.79 37.86H447.69V40.79H445.79zM447.69 67.16H449.6V70.09H447.69zM447.69 70.09H449.6V73.02H447.69zM449.6 67.16H451.5V70.09H449.6zM449.6 70.09H451.5V73.02H449.6zM453.41 37.86H455.31V40.79H453.41zM455.31 67.16H457.22V70.09H455.31zM457.22 37.86H459.12V40.79H457.22zM459.12 61.3H461.02V64.23H459.12zM461.02 58.37H462.93V61.3H461.02zM461.02 67.16H462.93V70.09H461.02zM462.93 75.95H464.84V78.88H462.93zM464.84 37.86H466.74V40.79H464.84zM464.84 64.23H466.74V67.16H464.84zM464.84 67.16H466.74V70.09H464.84zM464.84 70.09H466.74V73.02H464.84zM466.74 46.65H468.64V49.58H466.74zM466.74 49.58H468.64V52.51H466.74zM466.74 55.44H468.64V58.37H466.74zM466.74 58.37H468.64V61.3H466.74zM468.64 34.93H470.55V37.86H468.64zM468.64 55.44H470.55V58.37H468.64zM468.64 70.09H470.55V73.02H468.64zM470.55 34.93H472.46V37.86H470.55zM470.55 37.86H472.46V40.79H470.55zM470.55 55.44H472.46V58.37H470.55zM470.55 64.23H472.46V67.16H470.55zM472.46 37.86H474.36V40.79H472.46zM472.46 61.3H474.36V64.23H472.46zM472.46 70.09H474.36V73.02H472.46zM474.36 67.16H476.26V70.09H474.36zM476.26 43.72H478.17V46.65H476.26zM476.26 61.3H478.17V64.23H476.26zM476.26 70.09H478.17V73.02H476.26zM478.17 40.79H480.08V43.72H478.17zM478.17 55.44H480.08V58.37H478.17zM478.17 70.09H480.08V73.02H478.17zM478.17 75.95H480.08V78.88H478.17zM480.08 37.86H481.98V40.79H480.08zM480.08 46.65H481.98V49.58H480.08zM483.88 64.23H485.79V67.16H483.88zM483.88 70.09H485.79V73.02H483.88zM487.69 49.58H489.6V52.51H487.69zM487.69 61.3H489.6V64.23H487.69zM491.5 70.09H493.41V73.02H491.5zM491.5 73.02H493.41V75.95H491.5zM493.41 46.65H495.31V49.58H493.41zM493.41 49.58H495.31V52.51H493.41zM495.31 37.86H497.22V40.79H495.31zM495.31 40.79H497.22V43.72H495.31zM495.31 64.23H497.22V67.16H495.31zM495.31 75.95H497.22V78.88H495.31zM497.22 32H499.12V34.93H497.22zM497.22 67.16H499.12V70.09H497.22zM499.12 40.79H501.03V43.72H499.12zM499.12 43.72H501.03V46.65H499.12zM499.12 67.16H501.03V70.09H499.12zM501.03 64.23H502.94V67.16H501.03zM502.94 46.65H504.84V49.58H502.94zM502.94 61.3H504.84V64.23H502.94zM508.65 34.93H510.56V37.86H508.65zM510.56 43.72H512.46V46.65H510.56zM510.56 49.58H512.46V52.51H510.56zM512.46 70.09H514.37V73.02H512.46zM514.37 32H516.27V34.93H514.37zM514.37 67.16H516.27V70.09H514.37zM516.27 37.86H518.17V40.79H516.27zM516.27 67.16H518.17V70.09H516.27zM518.17 37.86H520.08V40.79H518.17zM518.17 40.79H520.08V43.72H518.17zM518.17 52.51H520.08V55.44H518.17zM518.17 58.37H520.08V61.3H518.17zM518.17 61.3H520.08V64.23H518.17zM518.17 70.09H520.08V73.02H518.17zM520.08 32H521.99V34.93H520.08zM520.08 37.86H521.99V40.79H520.08zM520.08 43.72H521.99V46.65H520.08zM520.08 55.44H521.99V58.37H520.08zM520.08 58.37H521.99V61.3H520.08zM521.99 40.79H523.89V43.72H521.99zM521.99 46.65H523.89V49.58H521.99zM523.89 32H525.8V34.93H523.89zM523.89 43.72H525.8V46.65H523.89zM525.8 40.79H527.7V43.72H525.8zM525.8 46.65H527.7V49.58H525.8zM525.8 58.37H527.7V61.3H525.8zM527.7 64.23H529.61V67.16H527.7zM529.61 34.93H531.51V37.86H529.61zM531.51 34.93H533.41V37.86H531.51zM531.51 37.86H533.41V40.79H531.51zM533.41 32H535.32V34.93H533.41zM533.41 34.93H535.32V37.86H533.41zM533.41 37.86H535.32V40.79H533.41zM535.32 37.86H537.23V40.79H535.32zM535.32 49.58H537.23V52.51H535.32zM537.23 32H539.13V34.93H537.23zM537.23 34.93H539.13V37.86H537.23zM537.23 52.51H539.13V55.44H537.23zM537.23 70.09H539.13V73.02H537.23zM539.13 73.02H541.04V75.95H539.13zM541.04 67.16H542.94V70.09H541.04zM542.94 70.09H544.85V73.02H542.94zM546.75 52.51H548.65V55.44H546.75zM546.75 70.09H548.65V73.02H546.75zM548.65 34.93H550.56V37.86H548.65zM548.65 64.23H550.56V67.16H548.65zM552.47 52.51H554.37V55.44H552.47zM552.47 58.37H554.37V61.3H552.47zM552.47 61.3H554.37V64.23H552.47zM552.47 64.23H554.37V67.16H552.47zM552.47 67.16H554.37V70.09H552.47zM554.37 37.86H556.27V40.79H554.37zM554.37 67.16H556.27V70.09H554.37zM554.37 70.09H556.27V73.02H554.37zM556.27 34.93H558.18V37.86H556.27zM556.27 49.58H558.18V52.51H556.27zM558.18 32H560.09V34.93H558.18zM558.18 40.79H560.09V43.72H558.18zM558.18 52.51H560.09V55.44H558.18zM560.09 37.86H561.99V40.79H560.09zM563.89 49.58H565.8V52.51H563.89zM563.89 52.51H565.8V55.44H563.89zM563.89 58.37H565.8V61.3H563.89zM563.89 67.16H565.8V70.09H563.89zM565.8 43.72H567.71V46.65H565.8zM565.8 73.02H567.71V75.95H565.8zM565.8 78.88H567.71V81.81H565.8zM567.71 43.72H569.61V46.65H567.71zM567.71 46.65H569.61V49.58H567.71zM567.71 67.16H569.61V70.09H567.71zM569.61 34.93H571.51V37.86H569.61zM569.61 46.65H571.51V49.58H569.61zM569.61 67.16H571.51V70.09H569.61zM571.51 32H573.42V34.93H571.51zM571.51 61.3H573.42V64.23H571.51zM573.42 34.93H575.33V37.86H573.42zM573.42 55.44H575.33V58.37H573.42zM575.33 32H577.23V34.93H575.33zM575.33 58.37H577.23V61.3H575.33zM575.33 67.16H577.23V70.09H575.33zM577.23 34.93H579.13V37.86H577.23zM579.13 58.37H581.04V61.3H579.13zM581.04 34.93H582.95V37.86H581.04zM582.95 32H584.85V34.93H582.95zM582.95 64.23H584.85V67.16H582.95zM584.85 34.93H586.75V37.86H584.85zM584.85 46.65H586.75V49.58H584.85zM584.85 64.23H586.75V67.16H584.85zM584.85 67.16H586.75V70.09H584.85zM586.75 75.95H588.66V78.88H586.75zM588.66 34.93H590.57V37.86H588.66zM590.57 52.51H592.47V55.44H590.57zM590.57 55.44H592.47V58.37H590.57zM590.57 58.37H592.47V61.3H590.57zM590.57 73.02H592.47V75.95H590.57zM592.47 49.58H594.38V52.51H592.47zM592.47 58.37H594.38V61.3H592.47zM592.47 67.16H594.38V70.09H592.47zM596.28 61.3H598.18V64.23H596.28zM596.28 67.16H598.18V70.09H596.28zM598.18 52.51H600.09V55.44H598.18zM598.18 58.37H600.09V61.3H598.18zM598.18 67.16H600.09V70.09H598.18zM600.09 64.23H602V67.16H600.09zM602 46.65H603.9V49.58H602zM602 52.51H603.9V55.44H602zM602 55.44H603.9V58.37H602zM602 58.37H603.9V61.3H602zM602 64.23H603.9V67.16H602zM607.71 40.79H609.62V43.72H607.71zM609.62 37.86H611.52V40.79H609.62zM609.62 40.79H611.52V43.72H609.62zM609.62 49.58H611.52V52.51H609.62zM609.62 75.95H611.52V78.88H609.62zM611.52 32H613.42V34.93H611.52zM611.52 64.23H613.42V67.16H611.52zM613.42 32H615.33V34.93H613.42zM615.33 58.37H617.24V61.3H615.33zM617.24 49.58H619.14V52.51H617.24zM619.14 46.65H621.05V49.58H619.14zM619.14 49.58H621.05V52.51H619.14zM619.14 61.3H621.05V64.23H619.14zM621.05 32H622.95V34.93H621.05zM621.05 40.79H622.95V43.72H621.05zM621.05 73.02H622.95V75.95H621.05zM622.95 34.93H624.86V37.86H622.95zM622.95 37.86H624.86V40.79H622.95zM622.95 73.02H624.86V75.95H622.95zM624.86 32H626.76V34.93H624.86zM624.86 70.09H626.76V73.02H624.86zM624.86 73.02H626.76V75.95H624.86zM628.66 58.37H630.57V61.3H628.66zM630.57 40.79H632.48V43.72H630.57zM632.48 64.23H634.38V67.16H632.48zM632.48 70.09H634.38V73.02H632.48zM632.48 75.95H634.38V78.88H632.48zM634.38 61.3H636.29V64.23H634.38zM634.38 64.23H636.29V67.16H634.38zM638.19 43.72H640.1V46.65H638.19zM638.19 46.65H640.1V49.58H638.19zM640.1 67.16H642V70.09H640.1zM642 34.93H643.9V37.86H642zM642 37.86H643.9V40.79H642zM642 61.3H643.9V64.23H642zM643.9 37.86H645.81V40.79H643.9zM643.9 40.79H645.81V43.72H643.9zM645.81 34.93H647.72V37.86H645.81zM645.81 64.23H647.72V67.16H645.81zM647.72 40.79H649.62V43.72H647.72zM647.72 61.3H649.62V64.23H647.72zM651.53 37.86H653.43V40.79H651.53zM653.43 67.16H655.34V70.09H653.43zM653.43 75.95H655.34V78.88H653.43zM655.34 34.93H657.24V37.86H655.34zM655.34 73.02H657.24V75.95H655.34zM655.34 75.95H657.24V78.88H655.34zM659.14 73.02H661.05V75.95H659.14zM661.05 73.02H662.96V75.95H661.05zM662.96 64.23H664.86V67.16H662.96zM664.86 55.44H666.77V58.37H664.86zM668.67 58.37H670.58V61.3H668.67zM668.67 61.3H670.58V64.23H668.67zM668.67 73.02H670.58V75.95H668.67zM670.58 61.3H672.48V64.23H670.58zM672.48 43.72H674.38V46.65H672.48zM674.38 37.86H676.29V40.79H674.38zM674.38 46.65H676.29V49.58H674.38zM674.38 64.23H676.29V67.16H674.38zM676.29 37.86H678.19V40.79H676.29zM678.19 40.79H680.1V43.72H678.19zM682 49.58H683.91V52.51H682zM682 52.51H683.91V55.44H682zM682 55.44H683.91V58.37H682zM682 61.3H683.91V64.23H682zM683.91 52.51H685.82V55.44H683.91zM687.72 55.44H689.62V58.37H687.72zM691.53 55.44H693.43V58.37H691.53zM693.43 52.51H695.34V55.44H693.43zM695.34 55.44H697.25V58.37H695.34zM695.34 58.37H697.25V61.3H695.34zM697.25 34.93H699.15V37.86H697.25zM697.25 52.51H699.15V55.44H697.25zM704.87 46.65H706.77V49.58H704.87zM708.67 34.93H710.58V37.86H708.67zM708.67 37.86H710.58V40.79H708.67zM708.67 67.16H710.58V70.09H708.67zM710.58 58.37H712.49V61.3H710.58zM712.49 73.02H714.39V75.95H712.49zM712.49 75.95H714.39V78.88H712.49zM714.39 43.72H716.3V46.65H714.39zM718.2 37.86H720.11V40.79H718.2zM720.11 49.58H722.01V52.51H720.11zM720.11 52.51H722.01V55.44H720.11zM720.11 67.16H722.01V70.09H720.11zM722.01 34.93H723.91V37.86H722.01zM722.01 52.51H723.91V55.44H722.01zM723.91 37.86H725.82V40.79H723.91zM723.91 55.44H725.82V58.37H723.91zM725.82 34.93H727.73V37.86H725.82zM725.82 64.23H727.73V67.16H725.82zM727.73 37.86H729.63V40.79H727.73zM729.63 52.51H731.54V55.44H729.63zM729.63 55.44H731.54V58.37H729.63zM731.54 67.16H733.44V70.09H731.54zM733.44 40.79H735.35V43.72H733.44zM733.44 49.58H735.35V52.51H733.44zM735.35 64.23H737.25V67.16H735.35zM735.35 75.95H737.25V78.88H735.35zM737.25 64.23H739.15V67.16H737.25zM737.25 67.16H739.15V70.09H737.25zM739.15 49.58H741.06V52.51H739.15zM739.15 75.95H741.06V78.88H739.15zM741.06 58.37H742.97V61.3H741.06zM741.06 70.09H742.97V73.02H741.06zM748.68 75.95H750.59V78.88H748.68zM752.49 64.23H754.39V67.16H752.49zM752.49 70.09H754.39V73.02H752.49zM756.3 61.3H758.21V64.23H756.3zM756.3 67.16H758.21V70.09H756.3zM756.3 70.09H758.21V73.02H756.3zM760.11 73.02H762.02V75.95H760.11zM762.02 61.3H763.92V64.23H762.02zM763.92 43.72H765.83V46.65H763.92zM763.92 49.58H765.83V52.51H763.92zM765.83 61.3H767.73V64.23H765.83zM769.63 73.02H771.54V75.95H769.63zM771.54 58.37H773.44V61.3H771.54zM771.54 67.16H773.44V70.09H771.54zM773.44 40.79H775.35V43.72H773.44zM777.25 64.23H779.16V67.16H777.25zM779.16 34.93H781.07V37.86H779.16zM779.16 49.58H781.07V52.51H779.16zM782.97 61.3H784.88V64.23H782.97zM786.78 58.37H788.68V61.3H786.78zM786.78 70.09H788.68V73.02H786.78zM788.68 37.86H790.59V40.79H788.68zM788.68 46.65H790.59V49.58H788.68zM788.68 49.58H790.59V52.51H788.68zM790.59 75.95H792.5V78.88H790.59zM792.5 61.3H794.4V64.23H792.5zM794.4 37.86H796.31V40.79H794.4zM794.4 46.65H796.31V49.58H794.4zM796.31 34.93H798.21V37.86H796.31zM803.92 64.23H805.83V67.16H803.92zM805.83 34.93H807.74V37.86H805.83zM805.83 43.72H807.74V46.65H805.83zM805.83 46.65H807.74V49.58H805.83zM805.83 73.02H807.74V75.95H805.83zM807.74 34.93H809.64V37.86H807.74zM807.74 64.23H809.64V67.16H807.74zM811.55 32H813.45V34.93H811.55zM815.36 55.44H817.26V58.37H815.36zM815.36 61.3H817.26V64.23H815.36zM817.26 37.86H819.16V40.79H817.26zM817.26 61.3H819.16V64.23H817.26zM817.26 64.23H819.16V67.16H817.26zM821.07 37.86H822.98V40.79H821.07zM821.07 43.72H822.98V46.65H821.07zM828.69 64.23H830.6V67.16H828.69zM832.5 52.51H834.4V55.44H832.5zM834.4 40.79H836.31V43.72H834.4zM838.22 40.79H840.12V43.72H838.22zM840.12 46.65H842.03V49.58H840.12zM840.12 61.3H842.03V64.23H840.12zM842.03 40.79H843.93V43.72H842.03zM843.93 34.93H845.84V37.86H843.93zM843.93 67.16H845.84V70.09H843.93zM845.84 32H847.74V34.93H845.84zM849.64 37.86H851.55V40.79H849.64zM849.64 64.23H851.55V67.16H849.64zM851.55 70.09H853.46V73.02H851.55zM853.46 34.93H855.36V37.86H853.46zM853.46 55.44H855.36V58.37H853.46zM853.46 58.37H855.36V61.3H853.46zM855.36 46.65H857.27V49.58H855.36zM855.36 55.44H857.27V58.37H855.36zM857.27 70.09H859.17V73.02H857.27zM859.17 67.16H861.08V70.09H859.17zM859.17 70.09H861.08V73.02H859.17zM862.98 52.51H864.88V55.44H862.98zM862.98 55.44H864.88V58.37H862.98zM864.88 34.93H866.79V37.86H864.88zM864.88 52.51H866.79V55.44H864.88zM866.79 43.72H868.69V46.65H866.79zM866.79 49.58H868.69V52.51H866.79zM870.6 58.37H872.5V61.3H870.6zM870.6 61.3H872.5V64.23H870.6zM872.5 64.23H874.41V67.16H872.5zM874.41 67.16H876.32V70.09H874.41zM874.41 73.02H876.32V75.95H874.41zM876.32 46.65H878.22V49.58H876.32zM878.22 32H880.12V34.93H878.22zM880.12 49.58H882.03V52.51H880.12zM882.03 67.16H883.93V70.09H882.03zM882.03 70.09H883.93V73.02H882.03zM883.93 64.23H885.84V67.16H883.93zM883.93 70.09H885.84V73.02H883.93zM887.75 32H889.65V34.93H887.75zM887.75 40.79H889.65V43.72H887.75zM887.75 52.51H889.65V55.44H887.75zM887.75 70.09H889.65V73.02H887.75zM889.65 40.79H891.56V43.72H889.65zM889.65 61.3H891.56V64.23H889.65z"/>
<path fill="#ffffff" d="M379.11 34.93H381.01V37.86H379.11zM379.11 37.86H381.01V40.79H379.11zM379.11 43.72H381.01V46.65H379.11zM379.11 61.3H381.01V64.23H379.11zM379.11 64.23H381.01V67.16H379.11zM379.11 67.16H381.01V70.09H379.11zM381.01 34.93H382.92V37.86H381.01zM381.01 64.23H382.92V67.16H381.01zM381.01 67.16H382.92V70.09H381.01zM382.92 34.93H384.82V37.86H382.92zM382.92 37.86H384.82V40.79H382.92zM382.92 64.23H384.82V67.16H382.92zM382.92 67.16H384.82V70.09H382.92zM382.92 75.95H384.82V78.88H382.92zM384.82 34.93H386.73V37.86H384.82zM386.73 34.93H388.63V37.86H386.73zM386.73 37.86H388.63V40.79H386.73zM386.73 64.23H388.63V67.16H386.73zM388.63 64.23H390.54V67.16H388.63zM390.54 34.93H392.44V37.86H390.54zM390.54 64.23H392.44V67.16H390.54zM392.44 34.93H394.35V37.86H392.44zM392.44 37.86H394.35V40.79H392.44zM392.44 64.23H394.35V67.16H392.44zM392.44 67.16H394.35V70.09H392.44zM394.35 34.93H396.25V37.86H394.35zM394.35 37.86H396.25V40.79H394.35zM394.35 40.79H396.25V43.72H394.35zM394.35 61.3H396.25V64.23H394.35zM394.35 64.23H396.25V67.16H394.35zM394.35 70.09H396.25V73.02H394.35zM396.25 34.93H398.16V37.86H396.25zM396.25 37.86H398.16V40.79H396.25zM396.25 64.23H398.16V67.16H396.25zM396.25 67.16H398.16V70.09H396.25zM398.16 34.93H400.06V37.86H398.16zM398.16 55.44H400.06V58.37H398.16zM398.16 61.3H400.06V64.23H398.16zM398.16 64.23H400.06V67.16H398.16zM398.16 67.16H400.06V70.09H398.16zM398.16 70.09H400.06V73.02H398.16zM398.16 73.02H400.06V75.95H398.16zM400.06 61.3H401.97V64.23H400.06zM400.06 64.23H401.97V67.16H400.06zM400.06 67.16H401.97V70.09H400.06zM400.06 70.09H401.97V73.02H400.06zM401.97 34.93H403.88V37.86H401.97zM401.97 37.86H403.88V40.79H401.97zM401.97 40.79H403.88V43.72H401.97zM401.97 64.23H403.88V67.16H401.97zM401.97 67.16H403.88V70.09H401.97zM401.97 70.09H403.88V73.02H401.97zM403.88 34.93H405.78V37.86H403.88zM403.88 37.86H405.78V40.79H403.88zM403.88 64.23H405.78V67.16H403.88zM405.78 34.93H407.69V37.86H405.78zM405.78 61.3H407.69V64.23H405.78zM405.78 64.23H407.69V67.16H405.78zM407.69 55.44H409.59V58.37H407.69zM407.69 61.3H409.59V64.23H407.69zM407.69 64.23H409.59V67.16H407.69zM407.69 67.16H409.59V70.09H407.69zM409.59 34.93H411.5V37.86H409.59zM409.59 64.23H411.5V67.16H409.59zM409.59 67.16H411.5V70.09H409.59zM409.59 70.09H411.5V73.02H409.59zM411.5 34.93H413.4V37.86H411.5zM411.5 37.86H413.4V40.79H411.5zM411.5 61.3H413.4V64.23H411.5zM411.5 64.23H413.4V67.16H411.5zM411.5 67.16H413.4V70.09H411.5zM411.5 70.09H413.4V73.02H411.5zM413.4 34.93H415.31V37.86H413.4zM413.4 37.86H415.31V40.79H413.4zM413.4 61.3H415.31V64.23H413.4zM413.4 64.23H415.31V67.16H413.4zM413.4 67.16H415.31V70.09H413.4zM413.4 70.09H415.31V73.02H413.4zM415.31 34.93H417.21V37.86H415.31zM415.31 55.44H417.21V58.37H415.31zM415.31 58.37H417.21V61.3H415.31zM415.31 61.3H417.21V64.23H415.31zM415.31 64.23H417.21V67.16H415.31zM415.31 67.16H417.21V70.09H415.31zM417.21 34.93H419.12V37.86H417.21zM417.21 61.3H419.12V64.23H417.21zM417.21 64.23H419.12V67.16H417.21zM417.21 67.16H419.12V70.09H417.21zM419.12 64.23H421.02V67.16H419.12zM421.02 34.93H422.93V37.86H421.02zM422.93 64.23H424.83V67.16H422.93zM422.93 67.16H424.83V70.09H422.93zM424.83 34.93H426.74V37.86H424.83zM424.83 64.23H426.74V67.16H424.83zM426.74 34.93H428.64V37.86H426.74zM426.74 40.79H428.64V43.72H426.74zM426.74 67.16H428.64V70.09H426.74zM428.64 34.93H430.55V37.86H428.64zM428.64 37.86H430.55V40.79H428.64zM428.64 64.23H430.55V67.16H428.64zM430.55 34.93H432.45V37.86H430.55zM430.55 37.86H432.45V40.79H430.55zM430.55 64.23H432.45V67.16H430.55zM432.45 34.93H434.36V37.86H432.45zM432.45 67.16H434.36V70.09H432.45zM434.36 34.93H436.26V37.86H434.36zM434.36 67.16H436.26V70.09H434.36zM436.26 34.93H438.17V37.86H436.26zM436.26 64.23H438.17V67.16H436.26zM436.26 67.16H438.17V70.09H436.26zM436.26 70.09H438.17V73.02H436.26zM438.17 34.93H440.07V37.86H438.17zM440.07 61.3H441.98V64.23H440.07zM440.07 64.23H441.98V67.16H440.07zM440.07 67.16H441.98V70.09H440.07zM441.98 34.93H443.88V37.86H441.98zM441.98 37.86H443.88V40.79H441.98zM441.98 67.16H443.88V70.09H441.98zM443.88 64.23H445.79V67.16H443.88zM443.88 67.16H445.79V70.09H443.88zM445.79 34.93H447.69V37.86H445.79zM447.69 34.93H449.6V37.86H447.69zM447.69 37.86H449.6V40.79H447.69zM449.6 34.93H451.5V37.86H449.6zM449.6 37.86H451.5V40.79H449.6zM451.5 34.93H453.41V37.86H451.5zM451.5 61.3H453.41V64.23H451.5zM451.5 64.23H453.41V67.16H451.5zM453.41 34.93H455.31V37.86H453.41zM453.41 61.3H455.31V64.23H453.41zM453.41 64.23H455.31V67.16H453.41zM453.41 67.16H455.31V70.09H453.41zM453.41 70.09H455.31V73.02H453.41zM455.31 61.3H457.22V64.23H455.31zM455.31 64.23H457.22V67.16H455.31zM455.31 73.02H457.22V75.95H455.31zM457.22 34.93H459.12V37.86H457.22zM459.12 34.93H461.02V37.86H459.12zM459.12 37.86H461.02V40.79H459.12zM459.12 64.23H461.02V67.16H459.12zM459.12 67.16H461.02V70.09H459.12zM461.02 34.93H462.93V37.86H461.02zM461.02 37.86H462.93V40.79H461.02zM461.02 61.3H462.93V64.23H461.02zM461.02 64.23H462.93V67.16H461.02zM462.93 34.93H464.84V37.86H462.93zM462.93 37.86H464.84V40.79H462.93zM462.93 43.72H464.84V46.65H462.93zM462.93 67.16H464.84V70.09H462.93zM464.84 34.93H466.74V37.86H464.84zM466.74 34.93H468.64V37.86H466.74zM466.74 37.86H468.64V40.79H466.74zM466.74 40.79H468.64V43.72H466.74zM466.74 43.72H468.64V46.65H466.74zM468.64 52.51H470.55V55.44H468.64zM468.64 64.23H470.55V67.16H468.64zM468.64 67.16H470.55V70.09H468.64zM470.55 67.16H472.46V70.09H470.55zM472.46 34.93H474.36V37.86H472.46zM472.46 64.23H474.36V67.16H472.46zM472.46 67.16H474.36V70.09H472.46zM476.26 34.93H478.17V37.86H476.26zM476.26 37.86H478.17V40.79H476.26zM476.26 40.79H478.17V43.72H476.26zM476.26 64.23H478.17V67.16H476.26zM476.26 67.16H478.17V70.09H476.26zM478.17 34.93H480.08V37.86H478.17zM478.17 37.86H480.08V40.79H478.17zM478.17 61.3H480.08V64.23H478.17zM478.17 64.23H480.08V67.16H478.17zM478.17 67.16H480.08V70.09H478.17zM480.08 34.93H481.98V37.86H480.08zM480.08 40.79H481.98V43.72H480.08zM480.08 43.72H481.98V46.65H480.08zM480.08 55.44H481.98V58.37H480.08zM481.98 64.23H483.88V67.16H481.98zM481.98 67.16H483.88V70.09H481.98zM481.98 70.09H483.88V73.02H481.98zM483.88 34.93H485.79V37.86H483.88zM483.88 75.95H485.79V78.88H483.88zM485.79 34.93H487.69V37.86H485.79zM485.79 37.86H487.69V40.79H485.79zM485.79 40.79H487.69V43.72H485.79zM485.79 67.16H487.69V70.09H485.79zM485.79 70.09H487.69V73.02H485.79zM485.79 73.02H487.69V75.95H485.79zM487.69 34.93H489.6V37.86H487.69zM487.69 37.86H489.6V40.79H487.69zM487.69 52.51H489.6V55.44H487.69zM487.69 58.37H489.6V61.3H487.69zM487.69 64.23H489.6V67.16H487.69zM487.69 67.16H489.6V70.09H487.69zM489.6 34.93H491.5V37.86H489.6zM491.5 32H493.41V34.93H491.5zM491.5 34.93H493.41V37.86H491.5zM491.5 64.23H493.41V67.16H491.5zM491.5 67.16H493.41V70.09H491.5zM491.5 75.95H493.41V78.88H491.5zM493.41 32H495.31V34.93H493.41zM493.41 34.93H495.31V37.86H493.41zM493.41 43.72H495.31V46.65H493.41zM493.41 64.23H495.31V67.16H493.41zM493.41 67.16H495.31V70.09H493.41zM495.31 32H497.22V34.93H495.31zM495.31 34.93H497.22V37.86H495.31zM497.22 34.93H499.12V37.86H497.22zM497.22 37.86H499.12V40.79H497.22zM497.22 40.79H499.12V43.72H497.22zM499.12 32H501.03V34.93H499.12zM499.12 34.93H501.03V37.86H499.12zM499.12 58.37H501.03V61.3H499.12zM499.12 64.23H501.03V67.16H499.12zM501.03 32H502.94V34.93H501.03zM501.03 34.93H502.94V37.86H501.03zM501.03 37.86H502.94V40.79H501.03zM501.03 40.79H502.94V43.72H501.03zM502.94 32H504.84V34.93H502.94zM502.94 34.93H504.84V37.86H502.94zM502.94 37.86H504.84V40.79H502.94zM502.94 64.23H504.84V67.16H502.94zM504.84 32H506.75V34.93H504.84zM504.84 75.95H506.75V78.88H504.84zM506.75 32H508.65V34.93H506.75zM506.75 34.93H508.65V37.86H506.75zM506.75 64.23H508.65V67.16H506.75zM506.75 67.16H508.65V70.09H506.75zM508.65 32H510.56V34.93H508.65zM508.65 52.51H510.56V55.44H508.65zM508.65 55.44H510.56V58.37H508.65zM508.65 58.37H510.56V61.3H508.65zM508.65 61.3H510.56V64.23H508.65zM508.65 64.23H510.56V67.16H508.65zM508.65 67.16H510.56V70.09H508.65zM510.56 32H512.46V34.93H510.56zM510.56 61.3H512.46V64.23H510.56zM510.56 64.23H512.46V67.16H510.56zM510.56 67.16H512.46V70.09H510.56zM510.56 70.09H512.46V73.02H510.56zM510.56 75.95H512.46V78.88H510.56zM512.46 32H514.37V34.93H512.46zM512.46 64.23H514.37V67.16H512.46zM512.46 67.16H514.37V70.09H512.46zM514.37 61.3H516.27V64.23H514.37zM514.37 64.23H516.27V67.16H514.37zM516.27 34.93H518.17V37.86H516.27zM516.27 75.95H518.17V78.88H516.27zM518.17 32H520.08V34.93H518.17zM518.17 34.93H520.08V37.86H518.17zM518.17 64.23H520.08V67.16H518.17zM518.17 67.16H520.08V70.09H518.17zM520.08 46.65H521.99V49.58H520.08zM520.08 49.58H521.99V52.51H520.08zM520.08 52.51H521.99V55.44H520.08zM520.08 64.23H521.99V67.16H520.08zM521.99 32H523.89V34.93H521.99zM521.99 34.93H523.89V37.86H521.99zM521.99 37.86H523.89V40.79H521.99zM523.89 34.93H525.8V37.86H523.89zM523.89 49.58H525.8V52.51H523.89zM523.89 58.37H525.8V61.3H523.89zM523.89 61.3H525.8V64.23H523.89zM523.89 64.23H525.8V67.16H523.89zM523.89 67.16H525.8V70.09H523.89zM523.89 70.09H525.8V73.02H523.89zM523.89 73.02H525.8V75.95H523.89zM525.8 32H527.7V34.93H525.8zM525.8 34.93H527.7V37.86H525.8zM525.8 37.86H527.7V40.79H525.8zM525.8 61.3H527.7V64.23H525.8zM525.8 64.23H527.7V67.16H525.8zM525.8 67.16H527.7V70.09H525.8zM525.8 70.09H527.7V73.02H525.8zM527.7 32H529.61V34.93H527.7zM527.7 34.93H529.61V37.86H527.7zM527.7 52.51H529.61V55.44H527.7zM527.7 55.44H529.61V58.37H527.7zM527.7 58.37H529.61V61.3H527.7zM527.7 61.3H529.61V64.23H527.7zM529.61 32H531.51V34.93H529.61zM529.61 61.3H531.51V64.23H529.61zM529.61 64.23H531.51V67.16H529.61zM529.61 67.16H531.51V70.09H529.61zM529.61 70.09H531.51V73.02H529.61zM531.51 64.23H533.41V67.16H531.51zM531.51 67.16H533.41V70.09H531.51zM533.41 61.3H535.32V64.23H533.41zM533.41 64.23H535.32V67.16H533.41zM533.41 67.16H535.32V70.09H533.41zM533.41 70.09H535.32V73.02H533.41zM535.32 52.51H537.23V55.44H535.32zM535.32 55.44H537.23V58.37H535.32zM535.32 61.3H537.23V64.23H535.32zM535.32 64.23H537.23V67.16H535.32zM535.32 67.16H537.23V70.09H535.32zM537.23 40.79H539.13V43.72H537.23zM537.23 43.72H539.13V46.65H537.23zM537.23 61.3H539.13V64.23H537.23zM537.23 64.23H539.13V67.16H537.23zM537.23 67.16H539.13V70.09H537.23zM539.13 34.93H541.04V37.86H539.13zM539.13 58.37H541.04V61.3H539.13zM539.13 61.3H541.04V64.23H539.13zM539.13 64.23H541.04V67.16H539.13zM539.13 67.16H541.04V70.09H539.13zM539.13 70.09H541.04V73.02H539.13zM541.04 32H542.94V34.93H541.04zM541.04 34.93H542.94V37.86H541.04zM541.04 37.86H542.94V40.79H541.04zM541.04 58.37H542.94V61.3H541.04zM541.04 64.23H542.94V67.16H541.04zM542.94 32H544.85V34.93H542.94zM542.94 34.93H544.85V37.86H542.94zM542.94 64.23H544.85V67.16H542.94zM544.85 61.3H546.75V64.23H544.85zM544.85 64.23H546.75V67.16H544.85zM544.85 67.16H546.75V70.09H544.85zM546.75 34.93H548.65V37.86H546.75zM546.75 61.3H548.65V64.23H546.75zM546.75 64.23H548.65V67.16H546.75zM546.75 67.16H548.65V70.09H546.75zM548.65 61.3H550.56V64.23H548.65zM548.65 67.16H550.56V70.09H548.65zM548.65 70.09H550.56V73.02H548.65zM550.56 34.93H552.47V37.86H550.56zM552.47 32H554.37V34.93H552.47zM552.47 34.93H554.37V37.86H552.47zM552.47 37.86H554.37V40.79H552.47zM554.37 32H556.27V34.93H554.37zM554.37 34.93H556.27V37.86H554.37zM554.37 64.23H556.27V67.16H554.37zM556.27 32H558.18V34.93H556.27zM558.18 34.93H560.09V37.86H558.18zM558.18 37.86H560.09V40.79H558.18zM558.18 43.72H560.09V46.65H558.18zM560.09 32H561.99V34.93H560.09zM560.09 34.93H561.99V37.86H560.09zM560.09 64.23H561.99V67.16H560.09zM560.09 67.16H561.99V70.09H560.09zM561.99 55.44H563.89V58.37H561.99zM561.99 78.88H563.89V81.81H561.99zM563.89 55.44H565.8V58.37H563.89zM563.89 61.3H565.8V64.23H563.89zM563.89 64.23H565.8V67.16H563.89zM565.8 32H567.71V34.93H565.8zM565.8 34.93H567.71V37.86H565.8zM565.8 37.86H567.71V40.79H565.8zM565.8 46.65H567.71V49.58H565.8zM565.8 61.3H567.71V64.23H565.8zM565.8 64.23H567.71V67.16H565.8zM565.8 67.16H567.71V70.09H565.8zM565.8 70.09H567.71V73.02H565.8zM567.71 34.93H569.61V37.86H567.71zM567.71 40.79H569.61V43.72H567.71zM567.71 49.58H569.61V52.51H567.71zM567.71 64.23H569.61V67.16H567.71zM569.61 40.79H571.51V43.72H569.61zM569.61 55.44H571.51V58.37H569.61zM569.61 58.37H571.51V61.3H569.61zM569.61 61.3H571.51V64.23H569.61zM569.61 64.23H571.51V67.16H569.61zM571.51 34.93H573.42V37.86H571.51zM571.51 37.86H573.42V40.79H571.51zM573.42 32H575.33V34.93H573.42zM573.42 37.86H575.33V40.79H573.42zM573.42 58.37H575.33V61.3H573.42zM573.42 61.3H575.33V64.23H573.42zM573.42 64.23H575.33V67.16H573.42zM575.33 34.93H577.23V37.86H575.33zM575.33 37.86H577.23V40.79H575.33zM575.33 64.23H577.23V67.16H575.33zM577.23 58.37H579.13V61.3H577.23zM577.23 61.3H579.13V64.23H577.23zM577.23 64.23H579.13V67.16H577.23zM577.23 67.16H579.13V70.09H577.23zM579.13 32H581.04V34.93H579.13zM579.13 34.93H581.04V37.86H579.13zM579.13 37.86H581.04V40.79H579.13zM579.13 61.3H581.04V64.23H579.13zM579.13 64.23H581.04V67.16H579.13zM579.13 67.16H581.04V70.09H579.13zM579.13 70.09H581.04V73.02H579.13zM579.13 73.02H581.04V75.95H579.13zM581.04 32H582.95V34.93H581.04zM581.04 64.23H582.95V67.16H581.04zM581.04 67.16H582.95V70.09H581.04zM584.85 32H586.75V34.93H584.85zM584.85 37.86H586.75V40.79H584.85zM584.85 40.79H586.75V43.72H584.85zM584.85 43.72H586.75V46.65H584.85zM586.75 32H588.66V34.93H586.75zM586.75 34.93H588.66V37.86H586.75zM586.75 37.86H588.66V40.79H586.75zM586.75 61.3H588.66V64.23H586.75zM586.75 67.16H588.66V70.09H586.75zM586.75 73.02H588.66V75.95H586.75zM588.66 37.86H590.57V40.79H588.66zM588.66 73.02H590.57V75.95H588.66zM588.66 75.95H590.57V78.88H588.66zM590.57 32H592.47V34.93H590.57zM590.57 34.93H592.47V37.86H590.57zM590.57 46.65H592.47V49.58H590.57zM590.57 61.3H592.47V64.23H590.57zM590.57 64.23H592.47V67.16H590.57zM592.47 34.93H594.38V37.86H592.47zM592.47 37.86H594.38V40.79H592.47zM592.47 40.79H594.38V43.72H592.47zM592.47 43.72H594.38V46.65H592.47zM592.47 46.65H594.38V49.58H592.47zM594.38 32H596.28V34.93H594.38zM594.38 34.93H596.28V37.86H594.38zM594.38 64.23H596.28V67.16H594.38zM596.28 32H598.18V34.93H596.28zM596.28 34.93H598.18V37.86H596.28zM596.28 64.23H598.18V67.16H596.28zM596.28 70.09H598.18V73.02H596.28zM596.28 73.02H598.18V75.95H596.28zM598.18 32H600.09V34.93H598.18zM598.18 34.93H600.09V37.86H598.18zM598.18 37.86H600.09V40.79H598.18zM598.18 40.79H600.09V43.72H598.18zM598.18 43.72H600.09V46.65H598.18zM598.18 46.65H600.09V49.58H598.18zM598.18 49.58H600.09V52.51H598.18zM598.18 61.3H600.09V64.23H598.18zM598.18 64.23H600.09V67.16H598.18zM600.09 32H602V34.93H600.09zM602 32H603.9V34.93H602zM603.9 32H605.81V34.93H603.9zM603.9 34.93H605.81V37.86H603.9zM603.9 37.86H605.81V40.79H603.9zM603.9 40.79H605.81V43.72H603.9zM603.9 64.23H605.81V67.16H603.9zM605.81 32H607.71V34.93H605.81zM605.81 37.86H607.71V40.79H605.81zM605.81 61.3H607.71V64.23H605.81zM605.81 64.23H607.71V67.16H605.81zM605.81 67.16H607.71V70.09H605.81zM605.81 70.09H607.71V73.02H605.81zM607.71 32H609.62V34.93H607.71zM607.71 37.86H609.62V40.79H607.71zM607.71 43.72H609.62V46.65H607.71zM607.71 46.65H609.62V49.58H607.71zM607.71 49.58H609.62V52.51H607.71zM607.71 52.51H609.62V55.44H607.71zM607.71 55.44H609.62V58.37H607.71zM607.71 58.37H609.62V61.3H607.71zM607.71 61.3H609.62V64.23H607.71zM607.71 64.23H609.62V67.16H607.71zM607.71 67.16H609.62V70.09H607.71zM607.71 75.95H609.62V78.88H607.71zM609.62 32H611.52V34.93H609.62zM609.62 34.93H611.52V37.86H609.62zM609.62 43.72H611.52V46.65H609.62zM609.62 64.23H611.52V67.16H609.62zM609.62 67.16H611.52V70.09H609.62zM611.52 61.3H613.42V64.23H611.52zM611.52 67.16H613.42V70.09H611.52zM611.52 70.09H613.42V73.02H611.52zM613.42 34.93H615.33V37.86H613.42zM615.33 32H617.24V34.93H615.33zM615.33 34.93H617.24V37.86H615.33zM615.33 37.86H617.24V40.79H615.33zM617.24 32H619.14V34.93H617.24zM617.24 34.93H619.14V37.86H617.24zM617.24 37.86H619.14V40.79H617.24zM617.24 40.79H619.14V43.72H617.24zM617.24 43.72H619.14V46.65H617.24zM619.14 43.72H621.05V46.65H619.14zM619.14 64.23H621.05V67.16H619.14zM619.14 67.16H621.05V70.09H619.14zM621.05 34.93H622.95V37.86H621.05zM621.05 37.86H622.95V40.79H621.05zM621.05 64.23H622.95V67.16H621.05zM621.05 70.09H622.95V73.02H621.05zM622.95 32H624.86V34.93H622.95zM622.95 64.23H624.86V67.16H622.95zM622.95 67.16H624.86V70.09H622.95zM622.95 70.09H624.86V73.02H622.95zM622.95 75.95H624.86V78.88H622.95zM624.86 40.79H626.76V43.72H624.86zM624.86 75.95H626.76V78.88H624.86zM626.76 32H628.66V34.93H626.76zM626.76 34.93H628.66V37.86H626.76zM628.66 32H630.57V34.93H628.66zM628.66 34.93H630.57V37.86H628.66zM628.66 37.86H630.57V40.79H628.66zM628.66 40.79H630.57V43.72H628.66zM628.66 43.72H630.57V46.65H628.66zM628.66 61.3H630.57V64.23H628.66zM628.66 64.23H630.57V67.16H628.66zM628.66 67.16H630.57V70.09H628.66zM630.57 32H632.48V34.93H630.57zM630.57 34.93H632.48V37.86H630.57zM630.57 43.72H632.48V46.65H630.57zM630.57 64.23H632.48V67.16H630.57zM630.57 70.09H632.48V73.02H630.57zM632.48 32H634.38V34.93H632.48zM632.48 34.93H634.38V37.86H632.48zM632.48 40.79H634.38V43.72H632.48zM638.19 32H640.1V34.93H638.19zM638.19 34.93H640.1V37.86H638.19zM638.19 37.86H640.1V40.79H638.19zM638.19 40.79H640.1V43.72H638.19zM638.19 61.3H640.1V64.23H638.19zM638.19 64.23H640.1V67.16H638.19zM638.19 67.16H640.1V70.09H638.19zM640.1 32H642V34.93H640.1zM640.1 52.51H642V55.44H640.1zM640.1 55.44H642V58.37H640.1zM640.1 58.37H642V61.3H640.1zM640.1 61.3H642V64.23H640.1zM640.1 64.23H642V67.16H640.1zM642 64.23H643.9V67.16H642zM643.9 32H645.81V34.93H643.9zM643.9 34.93H645.81V37.86H643.9zM643.9 49.58H645.81V52.51H643.9zM643.9 64.23H645.81V67.16H643.9zM643.9 67.16H645.81V70.09H643.9zM643.9 70.09H645.81V73.02H643.9zM643.9 73.02H645.81V75.95H643.9zM643.9 75.95H645.81V78.88H643.9zM645.81 32H647.72V34.93H645.81zM645.81 52.51H647.72V55.44H645.81zM645.81 55.44H647.72V58.37H645.81zM645.81 58.37H647.72V61.3H645.81zM647.72 32H649.62V34.93H647.72zM647.72 34.93H649.62V37.86H647.72zM647.72 37.86H649.62V40.79H647.72zM647.72 64.23H649.62V67.16H647.72zM649.62 34.93H651.53V37.86H649.62zM649.62 37.86H651.53V40.79H649.62zM649.62 75.95H651.53V78.88H649.62zM651.53 34.93H653.43V37.86H651.53zM651.53 40.79H653.43V43.72H651.53zM651.53 43.72H653.43V46.65H651.53zM651.53 46.65H653.43V49.58H651.53zM651.53 49.58H653.43V52.51H651.53zM651.53 55.44H653.43V58.37H651.53zM651.53 58.37H653.43V61.3H651.53zM651.53 61.3H653.43V64.23H651.53zM651.53 64.23H653.43V67.16H651.53zM651.53 67.16H653.43V70.09H651.53zM653.43 34.93H655.34V37.86H653.43zM653.43 37.86H655.34V40.79H653.43zM653.43 40.79H655.34V43.72H653.43zM653.43 64.23H655.34V67.16H653.43zM653.43 70.09H655.34V73.02H653.43zM655.34 40.79H657.24V43.72H655.34zM659.14 61.3H661.05V64.23H659.14zM659.14 64.23H661.05V67.16H659.14zM661.05 58.37H662.96V61.3H661.05zM661.05 61.3H662.96V64.23H661.05zM661.05 64.23H662.96V67.16H661.05zM661.05 67.16H662.96V70.09H661.05zM661.05 75.95H662.96V78.88H661.05zM662.96 34.93H664.86V37.86H662.96zM662.96 43.72H664.86V46.65H662.96zM662.96 75.95H664.86V78.88H662.96zM664.86 34.93H666.77V37.86H664.86zM664.86 37.86H666.77V40.79H664.86zM664.86 40.79H666.77V43.72H664.86zM664.86 46.65H666.77V49.58H664.86zM666.77 49.58H668.67V52.51H666.77zM666.77 52.51H668.67V55.44H666.77zM666.77 55.44H668.67V58.37H666.77zM666.77 58.37H668.67V61.3H666.77zM666.77 75.95H668.67V78.88H666.77zM668.67 34.93H670.58V37.86H668.67zM668.67 64.23H670.58V67.16H668.67zM668.67 67.16H670.58V70.09H668.67zM668.67 70.09H670.58V73.02H668.67zM668.67 75.95H670.58V78.88H668.67zM670.58 37.86H672.48V40.79H670.58zM670.58 55.44H672.48V58.37H670.58zM670.58 64.23H672.48V67.16H670.58zM672.48 34.93H674.38V37.86H672.48zM672.48 37.86H674.38V40.79H672.48zM672.48 40.79H674.38V43.72H672.48zM674.38 40.79H676.29V43.72H674.38zM674.38 43.72H676.29V46.65H674.38zM674.38 58.37H676.29V61.3H674.38zM676.29 34.93H678.19V37.86H676.29zM676.29 55.44H678.19V58.37H676.29zM676.29 58.37H678.19V61.3H676.29zM676.29 61.3H678.19V64.23H676.29zM676.29 64.23H678.19V67.16H676.29zM676.29 75.95H678.19V78.88H676.29zM678.19 34.93H680.1V37.86H678.19zM678.19 37.86H680.1V40.79H678.19zM678.19 67.16H680.1V70.09H678.19zM678.19 73.02H680.1V75.95H678.19zM680.1 34.93H682V37.86H680.1zM682 34.93H683.91V37.86H682zM682 64.23H683.91V67.16H682zM682 67.16H683.91V70.09H682zM682 70.09H683.91V73.02H682zM683.91 34.93H685.82V37.86H683.91zM683.91 37.86H685.82V40.79H683.91zM683.91 58.37H685.82V61.3H683.91zM683.91 61.3H685.82V64.23H683.91zM683.91 64.23H685.82V67.16H683.91zM683.91 67.16H685.82V70.09H683.91zM683.91 70.09H685.82V73.02H683.91zM683.91 73.02H685.82V75.95H683.91zM687.72 34.93H689.62V37.86H687.72zM687.72 37.86H689.62V40.79H687.72zM687.72 49.58H689.62V52.51H687.72zM687.72 52.51H689.62V55.44H687.72zM687.72 58.37H689.62V61.3H687.72zM687.72 61.3H689.62V64.23H687.72zM687.72 64.23H689.62V67.16H687.72zM687.72 70.09H689.62V73.02H687.72zM687.72 73.02H689.62V75.95H687.72zM687.72 75.95H689.62V78.88H687.72zM689.62 34.93H691.53V37.86H689.62zM691.53 34.93H693.43V37.86H691.53zM691.53 52.51H693.43V55.44H691.53zM691.53 61.3H693.43V64.23H691.53zM691.53 64.23H693.43V67.16H691.53zM691.53 67.16H693.43V70.09H691.53zM691.53 70.09H693.43V73.02H691.53zM691.53 73.02H693.43V75.95H691.53zM695.34 34.93H697.25V37.86H695.34zM695.34 37.86H697.25V40.79H695.34zM695.34 40.79H697.25V43.72H695.34zM695.34 52.51H697.25V55.44H695.34zM695.34 61.3H697.25V64.23H695.34zM695.34 64.23H697.25V67.16H695.34zM695.34 67.16H697.25V70.09H695.34zM697.25 37.86H699.15V40.79H697.25zM697.25 40.79H699.15V43.72H697.25zM697.25 64.23H699.15V67.16H697.25zM697.25 67.16H699.15V70.09H697.25zM699.15 34.93H701.06V37.86H699.15zM699.15 43.72H701.06V46.65H699.15zM699.15 46.65H701.06V49.58H699.15zM699.15 49.58H701.06V52.51H699.15zM699.15 52.51H701.06V55.44H699.15zM699.15 55.44H701.06V58.37H699.15zM701.06 34.93H702.96V37.86H701.06zM701.06 37.86H702.96V40.79H701.06zM702.96 52.51H704.87V55.44H702.96zM702.96 58.37H704.87V61.3H702.96zM704.87 34.93H706.77V37.86H704.87zM704.87 37.86H706.77V40.79H704.87zM704.87 43.72H706.77V46.65H704.87zM704.87 58.37H706.77V61.3H704.87zM704.87 61.3H706.77V64.23H704.87zM704.87 64.23H706.77V67.16H704.87zM706.77 64.23H708.67V67.16H706.77zM706.77 67.16H708.67V70.09H706.77zM706.77 75.95H708.67V78.88H706.77zM708.67 43.72H710.58V46.65H708.67zM708.67 64.23H710.58V67.16H708.67zM708.67 70.09H710.58V73.02H708.67zM710.58 37.86H712.49V40.79H710.58zM710.58 40.79H712.49V43.72H710.58zM710.58 43.72H712.49V46.65H710.58zM710.58 52.51H712.49V55.44H710.58zM710.58 55.44H712.49V58.37H710.58zM710.58 64.23H712.49V67.16H710.58zM710.58 70.09H712.49V73.02H710.58zM710.58 73.02H712.49V75.95H710.58zM712.49 34.93H714.39V37.86H712.49zM712.49 37.86H714.39V40.79H712.49zM712.49 43.72H714.39V46.65H712.49zM712.49 67.16H714.39V70.09H712.49zM712.49 70.09H714.39V73.02H712.49zM714.39 34.93H716.3V37.86H714.39zM714.39 37.86H716.3V40.79H714.39zM714.39 61.3H716.3V64.23H714.39zM714.39 64.23H716.3V67.16H714.39zM714.39 67.16H716.3V70.09H714.39zM714.39 70.09H716.3V73.02H714.39zM716.3 34.93H718.2V37.86H716.3zM716.3 37.86H718.2V40.79H716.3zM716.3 40.79H718.2V43.72H716.3zM716.3 43.72H718.2V46.65H716.3zM716.3 46.65H718.2V49.58H716.3zM716.3 49.58H718.2V52.51H716.3zM716.3 55.44H718.2V58.37H716.3zM716.3 58.37H718.2V61.3H716.3zM716.3 61.3H718.2V64.23H716.3zM716.3 64.23H718.2V67.16H716.3zM716.3 67.16H718.2V70.09H716.3zM716.3 70.09H718.2V73.02H716.3zM716.3 73.02H718.2V75.95H716.3zM718.2 61.3H720.11V64.23H718.2zM718.2 64.23H720.11V67.16H718.2zM718.2 67.16H720.11V70.09H718.2zM720.11 34.93H722.01V37.86H720.11zM720.11 37.86H722.01V40.79H720.11zM720.11 40.79H722.01V43.72H720.11zM720.11 46.65H722.01V49.58H720.11zM720.11 61.3H722.01V64.23H720.11zM720.11 64.23H722.01V67.16H720.11zM722.01 37.86H723.91V40.79H722.01zM722.01 43.72H723.91V46.65H722.01zM722.01 46.65H723.91V49.58H722.01zM722.01 64.23H723.91V67.16H722.01zM722.01 67.16H723.91V70.09H722.01zM723.91 34.93H725.82V37.86H723.91zM723.91 46.65H725.82V49.58H723.91zM723.91 58.37H725.82V61.3H723.91zM723.91 61.3H725.82V64.23H723.91zM723.91 64.23H725.82V67.16H723.91zM723.91 67.16H725.82V70.09H723.91zM723.91 70.09H725.82V73.02H723.91zM723.91 73.02H725.82V75.95H723.91zM723.91 75.95H725.82V78.88H723.91zM725.82 46.65H727.73V49.58H725.82zM725.82 49.58H727.73V52.51H725.82zM727.73 64.23H729.63V67.16H727.73zM727.73 67.16H729.63V70.09H727.73zM727.73 70.09H729.63V73.02H727.73zM727.73 73.02H729.63V75.95H727.73zM729.63 46.65H731.54V49.58H729.63zM729.63 49.58H731.54V52.51H729.63zM729.63 58.37H731.54V61.3H729.63zM729.63 61.3H731.54V64.23H729.63zM729.63 64.23H731.54V67.16H729.63zM729.63 70.09H731.54V73.02H729.63zM729.63 73.02H731.54V75.95H729.63zM729.63 75.95H731.54V78.88H729.63zM731.54 61.3H733.44V64.23H731.54zM731.54 64.23H733.44V67.16H731.54zM733.44 34.93H735.35V37.86H733.44zM733.44 37.86H735.35V40.79H733.44zM733.44 73.02H735.35V75.95H733.44zM735.35 73.02H737.25V75.95H735.35zM737.25 34.93H739.15V37.86H737.25zM737.25 37.86H739.15V40.79H737.25zM737.25 40.79H739.15V43.72H737.25zM737.25 43.72H739.15V46.65H737.25zM739.15 52.51H741.06V55.44H739.15zM739.15 55.44H741.06V58.37H739.15zM739.15 58.37H741.06V61.3H739.15zM739.15 61.3H741.06V64.23H739.15zM739.15 64.23H741.06V67.16H739.15zM739.15 67.16H741.06V70.09H739.15zM739.15 73.02H741.06V75.95H739.15zM742.97 34.93H744.87V37.86H742.97zM742.97 37.86H744.87V40.79H742.97zM742.97 40.79H744.87V43.72H742.97zM742.97 43.72H744.87V46.65H742.97zM742.97 52.51H744.87V55.44H742.97zM742.97 61.3H744.87V64.23H742.97zM744.87 34.93H746.78V37.86H744.87zM744.87 37.86H746.78V40.79H744.87zM744.87 58.37H746.78V61.3H744.87zM744.87 61.3H746.78V64.23H744.87zM746.78 34.93H748.68V37.86H746.78zM746.78 37.86H748.68V40.79H746.78zM748.68 61.3H750.59V64.23H748.68zM748.68 67.16H750.59V70.09H748.68zM748.68 73.02H750.59V75.95H748.68zM750.59 34.93H752.49V37.86H750.59zM750.59 37.86H752.49V40.79H750.59zM750.59 64.23H752.49V67.16H750.59zM750.59 67.16H752.49V70.09H750.59zM750.59 70.09H752.49V73.02H750.59zM752.49 34.93H754.39V37.86H752.49zM752.49 37.86H754.39V40.79H752.49zM752.49 40.79H754.39V43.72H752.49zM752.49 67.16H754.39V70.09H752.49zM752.49 73.02H754.39V75.95H752.49zM754.39 34.93H756.3V37.86H754.39zM754.39 37.86H756.3V40.79H754.39zM754.39 40.79H756.3V43.72H754.39zM754.39 43.72H756.3V46.65H754.39zM754.39 46.65H756.3V49.58H754.39zM754.39 52.51H756.3V55.44H754.39zM754.39 55.44H756.3V58.37H754.39zM754.39 58.37H756.3V61.3H754.39zM754.39 67.16H756.3V70.09H754.39zM756.3 32H758.21V34.93H756.3zM756.3 34.93H758.21V37.86H756.3zM756.3 37.86H758.21V40.79H756.3zM756.3 40.79H758.21V43.72H756.3zM756.3 43.72H758.21V46.65H756.3zM756.3 46.65H758.21V49.58H756.3zM756.3 64.23H758.21V67.16H756.3zM758.21 40.79H760.11V43.72H758.21zM758.21 52.51H760.11V55.44H758.21zM758.21 61.3H760.11V64.23H758.21zM758.21 64.23H760.11V67.16H758.21zM758.21 75.95H760.11V78.88H758.21zM760.11 32H762.02V34.93H760.11zM760.11 34.93H762.02V37.86H760.11zM762.02 64.23H763.92V67.16H762.02zM762.02 67.16H763.92V70.09H762.02zM763.92 32H765.83V34.93H763.92zM763.92 37.86H765.83V40.79H763.92zM763.92 40.79H765.83V43.72H763.92zM763.92 46.65H765.83V49.58H763.92zM763.92 52.51H765.83V55.44H763.92zM763.92 67.16H765.83V70.09H763.92zM763.92 70.09H765.83V73.02H763.92zM763.92 75.95H765.83V78.88H763.92zM765.83 32H767.73V34.93H765.83zM765.83 34.93H767.73V37.86H765.83zM765.83 40.79H767.73V43.72H765.83zM765.83 43.72H767.73V46.65H765.83zM765.83 46.65H767.73V49.58H765.83zM765.83 52.51H767.73V55.44H765.83zM765.83 64.23H767.73V67.16H765.83zM765.83 67.16H767.73V70.09H765.83zM765.83 70.09H767.73V73.02H765.83zM765.83 73.02H767.73V75.95H765.83zM765.83 75.95H767.73V78.88H765.83zM767.73 37.86H769.63V40.79H767.73zM767.73 61.3H769.63V64.23H767.73zM767.73 67.16H769.63V70.09H767.73zM767.73 70.09H769.63V73.02H767.73zM769.63 61.3H771.54V64.23H769.63zM769.63 64.23H771.54V67.16H769.63zM769.63 67.16H771.54V70.09H769.63zM769.63 75.95H771.54V78.88H769.63zM771.54 32H773.44V34.93H771.54zM771.54 34.93H773.44V37.86H771.54zM771.54 37.86H773.44V40.79H771.54zM771.54 40.79H773.44V43.72H771.54zM771.54 43.72H773.44V46.65H771.54zM771.54 61.3H773.44V64.23H771.54zM771.54 64.23H773.44V67.16H771.54zM773.44 34.93H775.35V37.86H773.44zM773.44 37.86H775.35V40.79H773.44zM773.44 43.72H775.35V46.65H773.44zM775.35 32H777.25V34.93H775.35zM775.35 55.44H777.25V58.37H775.35zM775.35 58.37H777.25V61.3H775.35zM775.35 61.3H777.25V64.23H775.35zM775.35 64.23H777.25V67.16H775.35zM775.35 67.16H777.25V70.09H775.35zM777.25 34.93H779.16V37.86H777.25zM777.25 58.37H779.16V61.3H777.25zM781.07 32H782.97V34.93H781.07zM781.07 34.93H782.97V37.86H781.07zM781.07 37.86H782.97V40.79H781.07zM781.07 55.44H782.97V58.37H781.07zM781.07 58.37H782.97V61.3H781.07zM781.07 61.3H782.97V64.23H781.07zM781.07 64.23H782.97V67.16H781.07zM781.07 67.16H782.97V70.09H781.07zM781.07 70.09H782.97V73.02H781.07zM782.97 32H784.88V34.93H782.97zM782.97 34.93H784.88V37.86H782.97zM782.97 37.86H784.88V40.79H782.97zM782.97 64.23H784.88V67.16H782.97zM782.97 67.16H784.88V70.09H782.97zM782.97 70.09H784.88V73.02H782.97zM782.97 75.95H784.88V78.88H782.97zM784.88 32H786.78V34.93H784.88zM786.78 34.93H788.68V37.86H786.78zM786.78 52.51H788.68V55.44H786.78zM786.78 55.44H788.68V58.37H786.78zM786.78 61.3H788.68V64.23H786.78zM786.78 64.23H788.68V67.16H786.78zM786.78 67.16H788.68V70.09H786.78zM786.78 73.02H788.68V75.95H786.78zM786.78 75.95H788.68V78.88H786.78zM788.68 32H790.59V34.93H788.68zM788.68 34.93H790.59V37.86H788.68zM788.68 52.51H790.59V55.44H788.68zM790.59 52.51H792.5V55.44H790.59zM790.59 55.44H792.5V58.37H790.59zM790.59 58.37H792.5V61.3H790.59zM790.59 61.3H792.5V64.23H790.59zM790.59 64.23H792.5V67.16H790.59zM792.5 37.86H794.4V40.79H792.5zM792.5 40.79H794.4V43.72H792.5zM792.5 43.72H794.4V46.65H792.5zM792.5 46.65H794.4V49.58H792.5zM792.5 55.44H794.4V58.37H792.5zM792.5 64.23H794.4V67.16H792.5zM794.4 32H796.31V34.93H794.4zM794.4 34.93H796.31V37.86H794.4zM794.4 75.95H796.31V78.88H794.4zM796.31 32H798.21V34.93H796.31zM796.31 49.58H798.21V52.51H796.31zM796.31 61.3H798.21V64.23H796.31zM796.31 64.23H798.21V67.16H796.31zM796.31 67.16H798.21V70.09H796.31zM796.31 70.09H798.21V73.02H796.31zM798.21 37.86H800.12V40.79H798.21zM798.21 52.51H800.12V55.44H798.21zM800.12 32H802.02V34.93H800.12zM800.12 34.93H802.02V37.86H800.12zM800.12 55.44H802.02V58.37H800.12zM800.12 58.37H802.02V61.3H800.12zM800.12 61.3H802.02V64.23H800.12zM800.12 64.23H802.02V67.16H800.12zM800.12 67.16H802.02V70.09H800.12zM800.12 70.09H802.02V73.02H800.12zM802.02 37.86H803.92V40.79H802.02zM802.02 40.79H803.92V43.72H802.02zM802.02 67.16H803.92V70.09H802.02zM803.92 34.93H805.83V37.86H803.92zM803.92 37.86H805.83V40.79H803.92zM803.92 40.79H805.83V43.72H803.92zM803.92 43.72H805.83V46.65H803.92zM803.92 49.58H805.83V52.51H803.92zM803.92 58.37H805.83V61.3H803.92zM803.92 61.3H805.83V64.23H803.92zM805.83 37.86H807.74V40.79H805.83zM805.83 40.79H807.74V43.72H805.83zM805.83 49.58H807.74V52.51H805.83zM805.83 52.51H807.74V55.44H805.83zM805.83 55.44H807.74V58.37H805.83zM805.83 67.16H807.74V70.09H805.83zM805.83 70.09H807.74V73.02H805.83zM807.74 32H809.64V34.93H807.74zM807.74 37.86H809.64V40.79H807.74zM807.74 55.44H809.64V58.37H807.74zM807.74 58.37H809.64V61.3H807.74zM809.64 32H811.55V34.93H809.64zM809.64 52.51H811.55V55.44H809.64zM809.64 61.3H811.55V64.23H809.64zM809.64 64.23H811.55V67.16H809.64zM813.45 32H815.36V34.93H813.45zM813.45 34.93H815.36V37.86H813.45zM813.45 40.79H815.36V43.72H813.45zM813.45 43.72H815.36V46.65H813.45zM813.45 46.65H815.36V49.58H813.45zM815.36 32H817.26V34.93H815.36zM815.36 34.93H817.26V37.86H815.36zM815.36 37.86H817.26V40.79H815.36zM815.36 40.79H817.26V43.72H815.36zM815.36 43.72H817.26V46.65H815.36zM815.36 46.65H817.26V49.58H815.36zM815.36 49.58H817.26V52.51H815.36zM817.26 32H819.16V34.93H817.26zM817.26 34.93H819.16V37.86H817.26zM817.26 70.09H819.16V73.02H817.26zM817.26 73.02H819.16V75.95H817.26zM819.16 32H821.07V34.93H819.16zM819.16 34.93H821.07V37.86H819.16zM819.16 37.86H821.07V40.79H819.16zM819.16 40.79H821.07V43.72H819.16zM819.16 55.44H821.07V58.37H819.16zM819.16 58.37H821.07V61.3H819.16zM819.16 61.3H821.07V64.23H819.16zM819.16 64.23H821.07V67.16H819.16zM819.16 67.16H821.07V70.09H819.16zM819.16 70.09H821.07V73.02H819.16zM819.16 73.02H821.07V75.95H819.16zM819.16 75.95H821.07V78.88H819.16zM821.07 32H822.98V34.93H821.07zM821.07 34.93H822.98V37.86H821.07zM821.07 55.44H822.98V58.37H821.07zM821.07 67.16H822.98V70.09H821.07zM821.07 70.09H822.98V73.02H821.07zM821.07 73.02H822.98V75.95H821.07zM822.98 34.93H824.88V37.86H822.98zM822.98 58.37H824.88V61.3H822.98zM822.98 61.3H824.88V64.23H822.98zM822.98 64.23H824.88V67.16H822.98zM822.98 67.16H824.88V70.09H822.98zM822.98 70.09H824.88V73.02H822.98zM822.98 73.02H824.88V75.95H822.98zM824.88 32H826.79V34.93H824.88zM824.88 34.93H826.79V37.86H824.88zM824.88 75.95H826.79V78.88H824.88zM826.79 37.86H828.69V40.79H826.79zM826.79 40.79H828.69V43.72H826.79zM826.79 43.72H828.69V46.65H826.79zM826.79 46.65H828.69V49.58H826.79zM826.79 64.23H828.69V67.16H826.79zM826.79 67.16H828.69V70.09H826.79zM826.79 70.09H828.69V73.02H826.79zM826.79 73.02H828.69V75.95H826.79zM826.79 75.95H828.69V78.88H826.79zM828.69 34.93H830.6V37.86H828.69zM828.69 61.3H830.6V64.23H828.69zM828.69 73.02H830.6V75.95H828.69zM830.6 32H832.5V34.93H830.6zM830.6 37.86H832.5V40.79H830.6zM830.6 40.79H832.5V43.72H830.6zM830.6 43.72H832.5V46.65H830.6zM830.6 46.65H832.5V49.58H830.6zM830.6 52.51H832.5V55.44H830.6zM830.6 55.44H832.5V58.37H830.6zM830.6 58.37H832.5V61.3H830.6zM830.6 61.3H832.5V64.23H830.6zM830.6 64.23H832.5V67.16H830.6zM830.6 75.95H832.5V78.88H830.6zM832.5 34.93H834.4V37.86H832.5zM832.5 37.86H834.4V40.79H832.5zM832.5 40.79H834.4V43.72H832.5zM832.5 43.72H834.4V46.65H832.5zM832.5 46.65H834.4V49.58H832.5zM832.5 49.58H834.4V52.51H832.5zM832.5 58.37H834.4V61.3H832.5zM832.5 61.3H834.4V64.23H832.5zM832.5 64.23H834.4V67.16H832.5zM832.5 67.16H834.4V70.09H832.5zM832.5 70.09H834.4V73.02H832.5zM834.4 32H836.31V34.93H834.4zM834.4 34.93H836.31V37.86H834.4zM834.4 46.65H836.31V49.58H834.4zM834.4 49.58H836.31V52.51H834.4zM834.4 58.37H836.31V61.3H834.4zM834.4 61.3H836.31V64.23H834.4zM834.4 64.23H836.31V67.16H834.4zM834.4 67.16H836.31V70.09H834.4zM838.22 32H840.12V34.93H838.22zM838.22 34.93H840.12V37.86H838.22zM838.22 37.86H840.12V40.79H838.22zM838.22 58.37H840.12V61.3H838.22zM838.22 61.3H840.12V64.23H838.22zM838.22 64.23H840.12V67.16H838.22zM838.22 67.16H840.12V70.09H838.22zM840.12 49.58H842.03V52.51H840.12zM840.12 55.44H842.03V58.37H840.12zM840.12 64.23H842.03V67.16H840.12zM840.12 73.02H842.03V75.95H840.12zM840.12 75.95H842.03V78.88H840.12zM842.03 64.23H843.93V67.16H842.03zM842.03 67.16H843.93V70.09H842.03zM842.03 70.09H843.93V73.02H842.03zM842.03 73.02H843.93V75.95H842.03zM845.84 34.93H847.74V37.86H845.84zM845.84 37.86H847.74V40.79H845.84zM845.84 52.51H847.74V55.44H845.84zM845.84 55.44H847.74V58.37H845.84zM845.84 73.02H847.74V75.95H845.84zM847.74 32H849.64V34.93H847.74zM847.74 34.93H849.64V37.86H847.74zM847.74 61.3H849.64V64.23H847.74zM847.74 70.09H849.64V73.02H847.74zM847.74 75.95H849.64V78.88H847.74zM849.64 32H851.55V34.93H849.64zM849.64 34.93H851.55V37.86H849.64zM849.64 49.58H851.55V52.51H849.64zM849.64 52.51H851.55V55.44H849.64zM849.64 67.16H851.55V70.09H849.64zM849.64 70.09H851.55V73.02H849.64zM851.55 32H853.46V34.93H851.55zM851.55 34.93H853.46V37.86H851.55zM851.55 37.86H853.46V40.79H851.55zM851.55 61.3H853.46V64.23H851.55zM851.55 64.23H853.46V67.16H851.55zM851.55 67.16H853.46V70.09H851.55zM853.46 37.86H855.36V40.79H853.46zM853.46 40.79H855.36V43.72H853.46zM853.46 49.58H855.36V52.51H853.46zM853.46 75.95H855.36V78.88H853.46zM855.36 32H857.27V34.93H855.36zM855.36 34.93H857.27V37.86H855.36zM855.36 37.86H857.27V40.79H855.36zM855.36 49.58H857.27V52.51H855.36zM857.27 32H859.17V34.93H857.27zM857.27 34.93H859.17V37.86H857.27zM857.27 37.86H859.17V40.79H857.27zM857.27 40.79H859.17V43.72H857.27zM857.27 55.44H859.17V58.37H857.27zM857.27 58.37H859.17V61.3H857.27zM857.27 61.3H859.17V64.23H857.27zM857.27 67.16H859.17V70.09H857.27zM857.27 73.02H859.17V75.95H857.27zM857.27 75.95H859.17V78.88H857.27zM859.17 32H861.08V34.93H859.17zM859.17 34.93H861.08V37.86H859.17zM859.17 37.86H861.08V40.79H859.17zM859.17 40.79H861.08V43.72H859.17zM859.17 73.02H861.08V75.95H859.17zM859.17 75.95H861.08V78.88H859.17zM861.08 32H862.98V34.93H861.08zM861.08 34.93H862.98V37.86H861.08zM861.08 37.86H862.98V40.79H861.08zM861.08 55.44H862.98V58.37H861.08zM861.08 58.37H862.98V61.3H861.08zM861.08 61.3H862.98V64.23H861.08zM861.08 64.23H862.98V67.16H861.08zM861.08 67.16H862.98V70.09H861.08zM861.08 70.09H862.98V73.02H861.08zM861.08 73.02H862.98V75.95H861.08zM862.98 32H864.88V34.93H862.98zM862.98 34.93H864.88V37.86H862.98zM862.98 64.23H864.88V67.16H862.98zM862.98 67.16H864.88V70.09H862.98zM862.98 70.09H864.88V73.02H862.98zM862.98 73.02H864.88V75.95H862.98zM864.88 32H866.79V34.93H864.88zM864.88 64.23H866.79V67.16H864.88zM864.88 67.16H866.79V70.09H864.88zM866.79 32H868.69V34.93H866.79zM866.79 46.65H868.69V49.58H866.79zM866.79 61.3H868.69V64.23H866.79zM866.79 64.23H868.69V67.16H866.79zM868.69 34.93H870.6V37.86H868.69zM868.69 52.51H870.6V55.44H868.69zM868.69 70.09H870.6V73.02H868.69zM870.6 64.23H872.5V67.16H870.6zM870.6 67.16H872.5V70.09H870.6zM870.6 70.09H872.5V73.02H870.6zM870.6 73.02H872.5V75.95H870.6zM870.6 75.95H872.5V78.88H870.6zM872.5 67.16H874.41V70.09H872.5zM874.41 37.86H876.32V40.79H874.41zM874.41 49.58H876.32V52.51H874.41zM876.32 32H878.22V34.93H876.32zM876.32 34.93H878.22V37.86H876.32zM876.32 40.79H878.22V43.72H876.32zM876.32 61.3H878.22V64.23H876.32zM876.32 73.02H878.22V75.95H876.32zM876.32 75.95H878.22V78.88H876.32zM878.22 34.93H880.12V37.86H878.22zM878.22 55.44H880.12V58.37H878.22zM878.22 67.16H880.12V70.09H878.22zM880.12 67.16H882.03V70.09H880.12zM882.03 32H883.93V34.93H882.03zM882.03 34.93H883.93V37.86H882.03zM882.03 37.86H883.93V40.79H882.03zM882.03 43.72H883.93V46.65H882.03zM882.03 49.58H883.93V52.51H882.03zM882.03 64.23H883.93V67.16H882.03zM883.93 32H885.84V34.93H883.93zM883.93 34.93H885.84V37.86H883.93zM883.93 43.72H885.84V46.65H883.93zM883.93 75.95H885.84V78.88H883.93zM885.84 32H887.75V34.93H885.84zM885.84 34.93H887.75V37.86H885.84zM885.84 37.86H887.75V40.79H885.84zM885.84 40.79H887.75V43.72H885.84zM885.84 43.72H887.75V46.65H885.84zM885.84 61.3H887.75V64.23H885.84zM885.84 64.23H887.75V67.16H885.84zM885.84 67.16H887.75V70.09H885.84zM885.84 70.09H887.75V73.02H885.84zM885.84 73.02H887.75V75.95H885.84zM887.75 37.86H889.65V40.79H887.75zM887.75 43.72H889.65V46.65H887.75zM887.75 46.65H889.65V49.58H887.75zM887.75 49.58H889.65V52.51H887.75zM887.75 55.44H889.65V58.37H887.75zM887.75 58.37H889.65V61.3H887.75zM887.75 61.3H889.65V64.23H887.75zM887.75 64.23H889.65V67.16H887.75zM887.75 67.16H889.65V70.09H887.75zM887.75 73.02H889.65V75.95H887.75zM887.75 75.95H889.65V78.88H887.75zM889.65 43.72H891.56V46.65H889.65zM889.65 64.23H891.56V67.16H889.65zM889.65 67.16H891.56V70.09H889.65zM889.65 70.09H891.56V73.02H889.65z"/>
<path fill="#7b8a9b" d="M384.82 46.65H386.73V49.58H384.82zM384.82 49.58H386.73V52.51H384.82zM384.82 58.37H386.73V61.3H384.82zM472.46 49.58H474.36V52.51H472.46zM489.6 55.44H491.5V58.37H489.6zM501.03 43.72H502.94V46.65H501.03zM506.75 52.51H508.65V55.44H506.75zM529.61 43.72H531.51V46.65H529.61zM598.18 75.95H600.09V78.88H598.18zM613.42 46.65H615.33V49.58H613.42zM613.42 49.58H615.33V52.51H613.42zM613.42 55.44H615.33V58.37H613.42zM624.86 64.23H626.76V67.16H624.86zM624.86 67.16H626.76V70.09H624.86zM636.29 43.72H638.19V46.65H636.29zM636.29 46.65H638.19V49.58H636.29zM636.29 55.44H638.19V58.37H636.29zM638.19 52.51H640.1V55.44H638.19zM645.81 73.02H647.72V75.95H645.81zM645.81 75.95H647.72V78.88H645.81zM662.96 61.3H664.86V64.23H662.96zM666.77 40.79H668.67V43.72H666.77zM668.67 43.72H670.58V46.65H668.67zM672.48 61.3H674.38V64.23H672.48zM678.19 75.95H680.1V78.88H678.19zM680.1 58.37H682V61.3H680.1zM685.82 67.16H687.72V70.09H685.82zM701.06 70.09H702.96V73.02H701.06zM714.39 49.58H716.3V52.51H714.39zM725.82 67.16H727.73V70.09H725.82zM725.82 73.02H727.73V75.95H725.82zM727.73 40.79H729.63V43.72H727.73zM735.35 40.79H737.25V43.72H735.35zM735.35 52.51H737.25V55.44H735.35zM735.35 55.44H737.25V58.37H735.35zM735.35 58.37H737.25V61.3H735.35zM737.25 49.58H739.15V52.51H737.25zM748.68 46.65H750.59V49.58H748.68zM748.68 52.51H750.59V55.44H748.68zM762.02 49.58H763.92V52.51H762.02zM767.73 43.72H769.63V46.65H767.73zM769.63 49.58H771.54V52.51H769.63zM771.54 75.95H773.44V78.88H771.54zM773.44 73.02H775.35V75.95H773.44zM773.44 75.95H775.35V78.88H773.44zM777.25 49.58H779.16V52.51H777.25zM779.16 73.02H781.07V75.95H779.16zM781.07 43.72H782.97V46.65H781.07zM788.68 40.79H790.59V43.72H788.68zM792.5 75.95H794.4V78.88H792.5zM794.4 70.09H796.31V73.02H794.4zM798.21 61.3H800.12V64.23H798.21zM798.21 64.23H800.12V67.16H798.21zM798.21 70.09H800.12V73.02H798.21zM807.74 40.79H809.64V43.72H807.74zM813.45 58.37H815.36V61.3H813.45zM813.45 75.95H815.36V78.88H813.45zM824.88 52.51H826.79V55.44H824.88zM824.88 58.37H826.79V61.3H824.88zM824.88 70.09H826.79V73.02H824.88zM832.5 75.95H834.4V78.88H832.5zM836.31 55.44H838.22V58.37H836.31zM842.03 34.93H843.93V37.86H842.03zM843.93 52.51H845.84V55.44H843.93zM843.93 58.37H845.84V61.3H843.93zM845.84 40.79H847.74V43.72H845.84zM853.46 61.3H855.36V64.23H853.46zM855.36 70.09H857.27V73.02H855.36zM861.08 43.72H862.98V46.65H861.08zM861.08 75.95H862.98V78.88H861.08zM866.79 34.93H868.69V37.86H866.79zM870.6 43.72H872.5V46.65H870.6zM872.5 55.44H874.41V58.37H872.5zM872.5 70.09H874.41V73.02H872.5zM872.5 75.95H874.41V78.88H872.5zM885.84 58.37H887.75V61.3H885.84z"/>
<path fill="#9cb8bc" d="M384.82 55.44H386.73V58.37H384.82zM386.73 52.51H388.63V55.44H386.73zM386.73 55.44H388.63V58.37H386.73zM388.63 40.79H390.54V43.72H388.63zM388.63 43.72H390.54V46.65H388.63zM390.54 43.72H392.44V46.65H390.54zM390.54 49.58H392.44V52.51H390.54zM394.35 55.44H396.25V58.37H394.35zM396.25 43.72H398.16V46.65H396.25zM401.97 55.44H403.88V58.37H401.97zM405.78 43.72H407.69V46.65H405.78zM411.5 43.72H413.4V46.65H411.5zM411.5 46.65H413.4V49.58H411.5zM411.5 49.58H413.4V52.51H411.5zM413.4 46.65H415.31V49.58H413.4zM413.4 49.58H415.31V52.51H413.4zM417.21 46.65H419.12V49.58H417.21zM419.12 49.58H421.02V52.51H419.12zM421.02 67.16H422.93V70.09H421.02zM422.93 55.44H424.83V58.37H422.93zM422.93 75.95H424.83V78.88H422.93zM424.83 46.65H426.74V49.58H424.83zM426.74 49.58H428.64V52.51H426.74zM426.74 52.51H428.64V55.44H426.74zM432.45 52.51H434.36V55.44H432.45zM432.45 75.95H434.36V78.88H432.45zM436.26 40.79H438.17V43.72H436.26zM436.26 46.65H438.17V49.58H436.26zM440.07 37.86H441.98V40.79H440.07zM440.07 40.79H441.98V43.72H440.07zM440.07 43.72H441.98V46.65H440.07zM441.98 49.58H443.88V52.51H441.98zM441.98 58.37H443.88V61.3H441.98zM443.88 52.51H445.79V55.44H443.88zM445.79 58.37H447.69V61.3H445.79zM445.79 70.09H447.69V73.02H445.79zM445.79 73.02H447.69V75.95H445.79zM451.5 43.72H453.41V46.65H451.5zM453.41 43.72H455.31V46.65H453.41zM453.41 46.65H455.31V49.58H453.41zM453.41 52.51H455.31V55.44H453.41zM455.31 49.58H457.22V52.51H455.31zM455.31 58.37H457.22V61.3H455.31zM457.22 49.58H459.12V52.51H457.22zM457.22 52.51H459.12V55.44H457.22zM459.12 49.58H461.02V52.51H459.12zM461.02 49.58H462.93V52.51H461.02zM461.02 73.02H462.93V75.95H461.02zM464.84 40.79H466.74V43.72H464.84zM468.64 49.58H470.55V52.51H468.64zM470.55 46.65H472.46V49.58H470.55zM476.26 55.44H478.17V58.37H476.26zM478.17 46.65H480.08V49.58H478.17zM478.17 49.58H480.08V52.51H478.17zM480.08 75.95H481.98V78.88H480.08zM481.98 37.86H483.88V40.79H481.98zM483.88 58.37H485.79V61.3H483.88zM485.79 46.65H487.69V49.58H485.79zM485.79 58.37H487.69V61.3H485.79zM485.79 61.3H487.69V64.23H485.79zM489.6 46.65H491.5V49.58H489.6zM489.6 70.09H491.5V73.02H489.6zM489.6 73.02H491.5V75.95H489.6zM491.5 46.65H493.41V49.58H491.5zM493.41 70.09H495.31V73.02H493.41zM493.41 75.95H495.31V78.88H493.41zM501.03 49.58H502.94V52.51H501.03zM504.84 40.79H506.75V43.72H504.84zM506.75 55.44H508.65V58.37H506.75zM508.65 43.72H510.56V46.65H508.65zM508.65 46.65H510.56V49.58H508.65zM512.46 43.72H514.37V46.65H512.46zM512.46 46.65H514.37V49.58H512.46zM512.46 55.44H514.37V58.37H512.46zM512.46 58.37H514.37V61.3H512.46zM512.46 61.3H514.37V64.23H512.46zM512.46 75.95H514.37V78.88H512.46zM514.37 43.72H516.27V46.65H514.37zM514.37 73.02H516.27V75.95H514.37zM514.37 75.95H516.27V78.88H514.37zM520.08 70.09H521.99V73.02H520.08zM520.08 73.02H521.99V75.95H520.08zM521.99 61.3H523.89V64.23H521.99zM521.99 73.02H523.89V75.95H521.99zM521.99 75.95H523.89V78.88H521.99zM529.61 37.86H531.51V40.79H529.61zM529.61 46.65H531.51V49.58H529.61zM531.51 49.58H533.41V52.51H531.51zM531.51 55.44H533.41V58.37H531.51zM537.23 75.95H539.13V78.88H537.23zM539.13 43.72H541.04V46.65H539.13zM539.13 52.51H541.04V55.44H539.13zM541.04 40.79H542.94V43.72H541.04zM541.04 43.72H542.94V46.65H541.04zM542.94 40.79H544.85V43.72H542.94zM542.94 46.65H544.85V49.58H542.94zM542.94 55.44H544.85V58.37H542.94zM542.94 75.95H544.85V78.88H542.94zM544.85 32H546.75V34.93H544.85zM544.85 52.51H546.75V55.44H544.85zM544.85 73.02H546.75V75.95H544.85zM550.56 70.09H552.47V73.02H550.56zM552.47 75.95H554.37V78.88H552.47zM552.47 78.88H554.37V81.81H552.47zM554.37 52.51H556.27V55.44H554.37zM556.27 78.88H558.18V81.81H556.27zM558.18 46.65H560.09V49.58H558.18zM560.09 43.72H561.99V46.65H560.09zM560.09 58.37H561.99V61.3H560.09zM560.09 75.95H561.99V78.88H560.09zM560.09 78.88H561.99V81.81H560.09zM561.99 46.65H563.89V49.58H561.99zM561.99 49.58H563.89V52.51H561.99zM561.99 58.37H563.89V61.3H561.99zM571.51 46.65H573.42V49.58H571.51zM571.51 49.58H573.42V52.51H571.51zM571.51 75.95H573.42V78.88H571.51zM573.42 40.79H575.33V43.72H573.42zM573.42 46.65H575.33V49.58H573.42zM573.42 73.02H575.33V75.95H573.42zM577.23 46.65H579.13V49.58H577.23zM577.23 52.51H579.13V55.44H577.23zM581.04 58.37H582.95V61.3H581.04zM582.95 43.72H584.85V46.65H582.95zM582.95 61.3H584.85V64.23H582.95zM582.95 70.09H584.85V73.02H582.95zM582.95 75.95H584.85V78.88H582.95zM594.38 40.79H596.28V43.72H594.38zM596.28 49.58H598.18V52.51H596.28zM600.09 75.95H602V78.88H600.09zM602 70.09H603.9V73.02H602zM605.81 43.72H607.71V46.65H605.81zM605.81 52.51H607.71V55.44H605.81zM605.81 55.44H607.71V58.37H605.81zM609.62 55.44H611.52V58.37H609.62zM611.52 52.51H613.42V55.44H611.52zM611.52 73.02H613.42V75.95H611.52zM615.33 52.51H617.24V55.44H615.33zM617.24 55.44H619.14V58.37H617.24zM617.24 58.37H619.14V61.3H617.24zM619.14 75.95H621.05V78.88H619.14zM621.05 46.65H622.95V49.58H621.05zM621.05 55.44H622.95V58.37H621.05zM622.95 46.65H624.86V49.58H622.95zM624.86 52.51H626.76V55.44H624.86zM624.86 58.37H626.76V61.3H624.86zM626.76 43.72H628.66V46.65H626.76zM626.76 58.37H628.66V61.3H626.76zM626.76 61.3H628.66V64.23H626.76zM626.76 67.16H628.66V70.09H626.76zM626.76 73.02H628.66V75.95H626.76zM630.57 73.02H632.48V75.95H630.57zM632.48 52.51H634.38V55.44H632.48zM634.38 37.86H636.29V40.79H634.38zM634.38 43.72H636.29V46.65H634.38zM634.38 55.44H636.29V58.37H634.38zM636.29 40.79H638.19V43.72H636.29zM640.1 37.86H642V40.79H640.1zM640.1 70.09H642V73.02H640.1zM642 46.65H643.9V49.58H642zM643.9 58.37H645.81V61.3H643.9zM645.81 37.86H647.72V40.79H645.81zM649.62 61.3H651.53V64.23H649.62zM651.53 75.95H653.43V78.88H651.53zM653.43 52.51H655.34V55.44H653.43zM653.43 58.37H655.34V61.3H653.43zM653.43 61.3H655.34V64.23H653.43zM657.24 49.58H659.14V52.51H657.24zM657.24 58.37H659.14V61.3H657.24zM657.24 64.23H659.14V67.16H657.24zM659.14 34.93H661.05V37.86H659.14zM659.14 40.79H661.05V43.72H659.14zM659.14 52.51H661.05V55.44H659.14zM659.14 58.37H661.05V61.3H659.14zM662.96 67.16H664.86V70.09H662.96zM668.67 52.51H670.58V55.44H668.67zM670.58 34.93H672.48V37.86H670.58zM672.48 52.51H674.38V55.44H672.48zM674.38 70.09H676.29V73.02H674.38zM674.38 73.02H676.29V75.95H674.38zM674.38 75.95H676.29V78.88H674.38zM676.29 40.79H678.19V43.72H676.29zM678.19 55.44H680.1V58.37H678.19zM680.1 37.86H682V40.79H680.1zM680.1 49.58H682V52.51H680.1zM680.1 55.44H682V58.37H680.1zM680.1 73.02H682V75.95H680.1zM685.82 37.86H687.72V40.79H685.82zM685.82 55.44H687.72V58.37H685.82zM687.72 43.72H689.62V46.65H687.72zM689.62 49.58H691.53V52.51H689.62zM689.62 61.3H691.53V64.23H689.62zM689.62 75.95H691.53V78.88H689.62zM693.43 46.65H695.34V49.58H693.43zM693.43 73.02H695.34V75.95H693.43zM697.25 70.09H699.15V73.02H697.25zM697.25 75.95H699.15V78.88H697.25zM699.15 58.37H701.06V61.3H699.15zM699.15 64.23H701.06V67.16H699.15zM699.15 73.02H701.06V75.95H699.15zM699.15 75.95H701.06V78.88H699.15zM701.06 61.3H702.96V64.23H701.06zM702.96 40.79H704.87V43.72H702.96zM702.96 43.72H704.87V46.65H702.96zM702.96 73.02H704.87V75.95H702.96zM704.87 49.58H706.77V52.51H704.87zM704.87 73.02H706.77V75.95H704.87zM706.77 52.51H708.67V55.44H706.77zM718.2 43.72H720.11V46.65H718.2zM718.2 49.58H720.11V52.51H718.2zM720.11 55.44H722.01V58.37H720.11zM722.01 55.44H723.91V58.37H722.01zM722.01 58.37H723.91V61.3H722.01zM722.01 73.02H723.91V75.95H722.01zM725.82 61.3H727.73V64.23H725.82zM731.54 37.86H733.44V40.79H731.54zM731.54 49.58H733.44V52.51H731.54zM731.54 75.95H733.44V78.88H731.54zM733.44 43.72H735.35V46.65H733.44zM733.44 46.65H735.35V49.58H733.44zM733.44 58.37H735.35V61.3H733.44zM733.44 64.23H735.35V67.16H733.44zM739.15 37.86H741.06V40.79H739.15zM741.06 75.95H742.97V78.88H741.06zM742.97 67.16H744.87V70.09H742.97zM742.97 70.09H744.87V73.02H742.97zM744.87 49.58H746.78V52.51H744.87zM744.87 70.09H746.78V73.02H744.87zM750.59 58.37H752.49V61.3H750.59zM756.3 52.51H758.21V55.44H756.3zM756.3 55.44H758.21V58.37H756.3zM758.21 34.93H760.11V37.86H758.21zM758.21 49.58H760.11V52.51H758.21zM760.11 49.58H762.02V52.51H760.11zM760.11 67.16H762.02V70.09H760.11zM762.02 37.86H763.92V40.79H762.02zM762.02 43.72H763.92V46.65H762.02zM762.02 46.65H763.92V49.58H762.02zM762.02 55.44H763.92V58.37H762.02zM763.92 64.23H765.83V67.16H763.92zM765.83 55.44H767.73V58.37H765.83zM767.73 58.37H769.63V61.3H767.73zM769.63 43.72H771.54V46.65H769.63zM769.63 58.37H771.54V61.3H769.63zM771.54 46.65H773.44V49.58H771.54zM773.44 49.58H775.35V52.51H773.44zM773.44 55.44H775.35V58.37H773.44zM775.35 40.79H777.25V43.72H775.35zM777.25 70.09H779.16V73.02H777.25zM777.25 75.95H779.16V78.88H777.25zM779.16 46.65H781.07V49.58H779.16zM779.16 52.51H781.07V55.44H779.16zM779.16 55.44H781.07V58.37H779.16zM779.16 61.3H781.07V64.23H779.16zM779.16 64.23H781.07V67.16H779.16zM779.16 75.95H781.07V78.88H779.16zM782.97 49.58H784.88V52.51H782.97zM782.97 52.51H784.88V55.44H782.97zM782.97 55.44H784.88V58.37H782.97zM784.88 46.65H786.78V49.58H784.88zM784.88 58.37H786.78V61.3H784.88zM784.88 70.09H786.78V73.02H784.88zM786.78 46.65H788.68V49.58H786.78zM788.68 70.09H790.59V73.02H788.68zM790.59 37.86H792.5V40.79H790.59zM790.59 73.02H792.5V75.95H790.59zM792.5 34.93H794.4V37.86H792.5zM794.4 64.23H796.31V67.16H794.4zM794.4 78.88H796.31V81.81H794.4zM798.21 40.79H800.12V43.72H798.21zM798.21 55.44H800.12V58.37H798.21zM800.12 73.02H802.02V75.95H800.12zM802.02 43.72H803.92V46.65H802.02zM802.02 46.65H803.92V49.58H802.02zM802.02 49.58H803.92V52.51H802.02zM803.92 73.02H805.83V75.95H803.92zM803.92 75.95H805.83V78.88H803.92zM807.74 70.09H809.64V73.02H807.74zM809.64 70.09H811.55V73.02H809.64zM809.64 73.02H811.55V75.95H809.64zM811.55 64.23H813.45V67.16H811.55zM811.55 75.95H813.45V78.88H811.55zM813.45 70.09H815.36V73.02H813.45zM815.36 73.02H817.26V75.95H815.36zM821.07 52.51H822.98V55.44H821.07zM822.98 43.72H824.88V46.65H822.98zM822.98 49.58H824.88V52.51H822.98zM826.79 61.3H828.69V64.23H826.79zM828.69 43.72H830.6V46.65H828.69zM828.69 46.65H830.6V49.58H828.69zM828.69 49.58H830.6V52.51H828.69zM828.69 58.37H830.6V61.3H828.69zM834.4 52.51H836.31V55.44H834.4zM834.4 73.02H836.31V75.95H834.4zM836.31 34.93H838.22V37.86H836.31zM836.31 37.86H838.22V40.79H836.31zM836.31 52.51H838.22V55.44H836.31zM838.22 55.44H840.12V58.37H838.22zM842.03 37.86H843.93V40.79H842.03zM842.03 46.65H843.93V49.58H842.03zM845.84 49.58H847.74V52.51H845.84zM845.84 70.09H847.74V73.02H845.84zM847.74 40.79H849.64V43.72H847.74zM847.74 46.65H849.64V49.58H847.74zM849.64 46.65H851.55V49.58H849.64zM851.55 43.72H853.46V46.65H851.55zM851.55 52.51H853.46V55.44H851.55zM855.36 61.3H857.27V64.23H855.36zM855.36 64.23H857.27V67.16H855.36zM857.27 46.65H859.17V49.58H857.27zM859.17 46.65H861.08V49.58H859.17zM859.17 64.23H861.08V67.16H859.17zM862.98 37.86H864.88V40.79H862.98zM862.98 49.58H864.88V52.51H862.98zM864.88 61.3H866.79V64.23H864.88zM868.69 43.72H870.6V46.65H868.69zM868.69 75.95H870.6V78.88H868.69zM870.6 40.79H872.5V43.72H870.6zM872.5 37.86H874.41V40.79H872.5zM872.5 61.3H874.41V64.23H872.5zM874.41 40.79H876.32V43.72H874.41zM874.41 43.72H876.32V46.65H874.41zM874.41 55.44H876.32V58.37H874.41zM876.32 52.51H878.22V55.44H876.32zM876.32 70.09H878.22V73.02H876.32zM878.22 70.09H880.12V73.02H878.22zM878.22 73.02H880.12V75.95H878.22zM878.22 75.95H880.12V78.88H878.22zM882.03 73.02H883.93V75.95H882.03z"/>
<path fill="#707b8f" d="M384.82 75.95H386.73V78.88H384.82zM424.83 49.58H426.74V52.51H424.83zM493.41 73.02H495.31V75.95H493.41zM613.42 61.3H615.33V64.23H613.42zM626.76 52.51H628.66V55.44H626.76zM636.29 52.51H638.19V55.44H636.29zM638.19 55.44H640.1V58.37H638.19zM661.05 46.65H662.96V49.58H661.05zM672.48 58.37H674.38V61.3H672.48zM691.53 40.79H693.43V43.72H691.53zM701.06 52.51H702.96V55.44H701.06zM718.2 52.51H720.11V55.44H718.2zM720.11 73.02H722.01V75.95H720.11zM727.73 34.93H729.63V37.86H727.73zM727.73 49.58H729.63V52.51H727.73zM735.35 43.72H737.25V46.65H735.35zM741.06 40.79H742.97V43.72H741.06zM748.68 49.58H750.59V52.51H748.68zM767.73 46.65H769.63V49.58H767.73zM767.73 52.51H769.63V55.44H767.73zM769.63 46.65H771.54V49.58H769.63zM771.54 73.02H773.44V75.95H771.54zM777.25 43.72H779.16V46.65H777.25zM777.25 46.65H779.16V49.58H777.25zM777.25 52.51H779.16V55.44H777.25zM779.16 58.37H781.07V61.3H779.16zM784.88 73.02H786.78V75.95H784.88zM790.59 46.65H792.5V49.58H790.59zM807.74 49.58H809.64V52.51H807.74zM813.45 49.58H815.36V52.51H813.45zM824.88 43.72H826.79V46.65H824.88zM824.88 46.65H826.79V49.58H824.88zM824.88 55.44H826.79V58.37H824.88zM838.22 49.58H840.12V52.51H838.22zM845.84 46.65H847.74V49.58H845.84zM872.5 46.65H874.41V49.58H872.5zM876.32 37.86H878.22V40.79H876.32z"/>
<path fill="#869aa6" d="M392.44 55.44H394.35V58.37H392.44zM396.25 46.65H398.16V49.58H396.25zM396.25 49.58H398.16V52.51H396.25zM396.25 52.51H398.16V55.44H396.25zM419.12 52.51H421.02V55.44H419.12zM443.88 75.95H445.79V78.88H443.88zM447.69 49.58H449.6V52.51H447.69zM455.31 46.65H457.22V49.58H455.31zM462.93 58.37H464.84V61.3H462.93zM468.64 46.65H470.55V49.58H468.64zM474.36 52.51H476.26V55.44H474.36zM474.36 55.44H476.26V58.37H474.36zM489.6 49.58H491.5V52.51H489.6zM491.5 52.51H493.41V55.44H491.5zM491.5 55.44H493.41V58.37H491.5zM501.03 46.65H502.94V49.58H501.03zM506.75 49.58H508.65V52.51H506.75zM508.65 40.79H510.56V43.72H508.65zM529.61 40.79H531.51V43.72H529.61zM542.94 43.72H544.85V46.65H542.94zM550.56 55.44H552.47V58.37H550.56zM561.99 43.72H563.89V46.65H561.99zM573.42 43.72H575.33V46.65H573.42zM573.42 75.95H575.33V78.88H573.42zM579.13 43.72H581.04V46.65H579.13zM581.04 55.44H582.95V58.37H581.04zM586.75 52.51H588.66V55.44H586.75zM594.38 75.95H596.28V78.88H594.38zM611.52 75.95H613.42V78.88H611.52zM613.42 52.51H615.33V55.44H613.42zM613.42 67.16H615.33V70.09H613.42zM617.24 70.09H619.14V73.02H617.24zM617.24 75.95H619.14V78.88H617.24zM621.05 58.37H622.95V61.3H621.05zM624.86 49.58H626.76V52.51H624.86zM632.48 58.37H634.38V61.3H632.48zM636.29 37.86H638.19V40.79H636.29zM640.1 73.02H642V75.95H640.1zM640.1 75.95H642V78.88H640.1zM642 49.58H643.9V52.51H642zM642 75.95H643.9V78.88H642zM649.62 49.58H651.53V52.51H649.62zM655.34 49.58H657.24V52.51H655.34zM655.34 52.51H657.24V55.44H655.34zM657.24 61.3H659.14V64.23H657.24zM659.14 46.65H661.05V49.58H659.14zM668.67 49.58H670.58V52.51H668.67zM672.48 55.44H674.38V58.37H672.48zM676.29 73.02H678.19V75.95H676.29zM680.1 52.51H682V55.44H680.1zM683.91 75.95H685.82V78.88H683.91zM701.06 58.37H702.96V61.3H701.06zM708.67 52.51H710.58V55.44H708.67zM714.39 52.51H716.3V55.44H714.39zM720.11 75.95H722.01V78.88H720.11zM731.54 40.79H733.44V43.72H731.54zM735.35 46.65H737.25V49.58H735.35zM735.35 49.58H737.25V52.51H735.35zM737.25 46.65H739.15V49.58H737.25zM741.06 37.86H742.97V40.79H741.06zM741.06 46.65H742.97V49.58H741.06zM744.87 73.02H746.78V75.95H744.87zM744.87 75.95H746.78V78.88H744.87zM748.68 40.79H750.59V43.72H748.68zM748.68 43.72H750.59V46.65H748.68zM752.49 43.72H754.39V46.65H752.49zM752.49 49.58H754.39V52.51H752.49zM756.3 75.95H758.21V78.88H756.3zM762.02 73.02H763.92V75.95H762.02zM767.73 40.79H769.63V43.72H767.73zM769.63 40.79H771.54V43.72H769.63zM775.35 73.02H777.25V75.95H775.35zM775.35 75.95H777.25V78.88H775.35zM784.88 40.79H786.78V43.72H784.88zM792.5 78.88H794.4V81.81H792.5zM794.4 67.16H796.31V70.09H794.4zM798.21 67.16H800.12V70.09H798.21zM800.12 46.65H802.02V49.58H800.12zM807.74 46.65H809.64V49.58H807.74zM811.55 61.3H813.45V64.23H811.55zM813.45 52.51H815.36V55.44H813.45zM813.45 55.44H815.36V58.37H813.45zM813.45 73.02H815.36V75.95H813.45zM815.36 75.95H817.26V78.88H815.36zM821.07 61.3H822.98V64.23H821.07zM822.98 37.86H824.88V40.79H822.98zM832.5 55.44H834.4V58.37H832.5zM836.31 61.3H838.22V64.23H836.31zM840.12 43.72H842.03V46.65H840.12zM842.03 43.72H843.93V46.65H842.03zM843.93 46.65H845.84V49.58H843.93zM843.93 61.3H845.84V64.23H843.93zM843.93 75.95H845.84V78.88H843.93zM851.55 55.44H853.46V58.37H851.55zM855.36 75.95H857.27V78.88H855.36zM868.69 73.02H870.6V75.95H868.69zM872.5 40.79H874.41V43.72H872.5zM872.5 43.72H874.41V46.65H872.5zM872.5 73.02H874.41V75.95H872.5zM878.22 43.72H880.12V46.65H878.22zM880.12 75.95H882.03V78.88H880.12zM883.93 46.65H885.84V49.58H883.93zM885.84 75.95H887.75V78.88H885.84zM889.65 46.65H891.56V49.58H889.65zM889.65 52.51H891.56V55.44H889.65zM889.65 55.44H891.56V58.37H889.65zM889.65 75.95H891.56V78.88H889.65z"/>
<path fill="#595c79" d="M481.98 52.51H483.88V55.44H481.98zM535.32 58.37H537.23V61.3H535.32zM567.71 37.86H569.61V40.79H567.71zM613.42 58.37H615.33V61.3H613.42zM640.1 46.65H642V49.58H640.1zM662.96 58.37H664.86V61.3H662.96zM689.62 52.51H691.53V55.44H689.62zM712.49 40.79H714.39V43.72H712.49zM760.11 55.44H762.02V58.37H760.11zM794.4 55.44H796.31V58.37H794.4zM798.21 32H800.12V34.93H798.21zM798.21 73.02H800.12V75.95H798.21zM798.21 75.95H800.12V78.88H798.21zM868.69 67.16H870.6V70.09H868.69zM874.41 32H876.32V34.93H874.41zM880.12 43.72H882.03V46.65H880.12z"/>
<path fill="#4e4e6d" d="M489.6 64.23H491.5V67.16H489.6zM571.51 73.02H573.42V75.95H571.51zM838.22 46.65H840.12V49.58H838.22zM843.93 49.58H845.84V52.51H843.93zM883.93 67.16H885.84V70.09H883.93zM889.65 37.86H891.56V40.79H889.65z"/>
<path fill="#16161f" d="M548.65 52.51H550.56V55.44H548.65zM878.22 37.86H880.12V40.79H878.22z"/>
<path fill="#43435d" d="M552.47 70.09H554.37V73.02H552.47zM741.06 43.72H742.97V46.65H741.06zM777.25 37.86H779.16V40.79H777.25zM822.98 55.44H824.88V58.37H822.98zM872.5 52.51H874.41V55.44H872.5z"/>
<path fill="#21212f" d="M579.13 46.65H581.04V49.58H579.13zM782.97 43.72H784.88V46.65H782.97z"/>
<path fill="#38384e" d="M628.66 55.44H630.57V58.37H628.66zM748.68 37.86H750.59V40.79H748.68zM874.41 58.37H876.32V61.3H874.41zM883.93 55.44H885.84V58.37H883.93z"/>
<path fill="#646c84" d="M662.96 55.44H664.86V58.37H662.96zM689.62 55.44H691.53V58.37H689.62zM701.06 49.58H702.96V52.51H701.06zM773.44 52.51H775.35V55.44H773.44zM775.35 49.58H777.25V52.51H775.35zM800.12 43.72H802.02V46.65H800.12zM824.88 49.58H826.79V52.51H824.88zM843.93 55.44H845.84V58.37H843.93zM851.55 40.79H853.46V43.72H851.55zM853.46 43.72H855.36V46.65H853.46zM855.36 73.02H857.27V75.95H855.36zM859.17 55.44H861.08V58.37H859.17zM864.88 37.86H866.79V40.79H864.88zM864.88 40.79H866.79V43.72H864.88zM868.69 64.23H870.6V67.16H868.69zM878.22 49.58H880.12V52.51H878.22zM878.22 58.37H880.12V61.3H878.22zM883.93 58.37H885.84V61.3H883.93z"/>
<path fill="#2d2d3e" d="M794.4 73.02H796.31V75.95H794.4zM836.31 75.95H838.22V78.88H836.31zM851.55 46.65H853.46V49.58H851.55z"/>
<path fill="#000000" d="M800.12 75.95H802.02V78.88H800.12zM880.12 52.51H882.03V55.44H880.12zM885.84 52.51H887.75V55.44H885.84z"/>
<path fill="#0b0b10" d="M880.12 40.79H882.03V43.72H880.12z"/>
</g>

<line class="grid g2" x1="131.5" y1="12.5" x2="131.5" y2="91.5"/>
<line class="grid g2" x1="188.5" y1="12.5" x2="188.5" y2="91.5"/>
<line class="grid g2" x1="239.5" y1="12.5" x2="239.5" y2="91.5"/>
<line class="grid g2" x1="286.5" y1="12.5" x2="286.5" y2="91.5"/>
<line class="grid g2" x1="339.5" y1="12.5" x2="339.5" y2="91.5"/>
<line class="grid g2" x1="402.5" y1="12.5" x2="402.5" y2="91.5"/>
<line class="grid g2" x1="476.5" y1="12.5" x2="476.5" y2="91.5"/>
<line class="grid g2" x1="562.5" y1="12.5" x2="562.5" y2="91.5"/>
<line class="grid g2" x1="659.5" y1="12.5" x2="659.5" y2="91.5"/>
<line class="grid g2" x1="768.5" y1="12.5" x2="768.5" y2="91.5"/>
<line class="grid g2" x1="891.5" y1="12.5" x2="891.5" y2="91.5"/>
<line class="grid g2" x1="65.5" y1="51.5" x2="896.5" y2="51.5"/>
<rect class="sp" x="65.5" y="12.5" width="831.0" height="79.0"/>
<line class="mj" x1="131.5" y1="12.5" x2="131.5" y2="7.25"/><line class="mj" x1="131.5" y1="91.5" x2="131.5" y2="96.75"/>
<line class="mj" x1="188.5" y1="12.5" x2="188.5" y2="7.25"/><line class="mj" x1="188.5" y1="91.5" x2="188.5" y2="96.75"/>
<line class="mj" x1="239.5" y1="12.5" x2="239.5" y2="7.25"/><line class="mj" x1="239.5" y1="91.5" x2="239.5" y2="96.75"/>
<line class="mj" x1="286.5" y1="12.5" x2="286.5" y2="7.25"/><line class="mj" x1="286.5" y1="91.5" x2="286.5" y2="96.75"/>
<line class="mj" x1="339.5" y1="12.5" x2="339.5" y2="7.25"/><line class="mj" x1="339.5" y1="91.5" x2="339.5" y2="96.75"/>
<line class="mj" x1="402.5" y1="12.5" x2="402.5" y2="7.25"/><line class="mj" x1="402.5" y1="91.5" x2="402.5" y2="96.75"/>
<line class="mj" x1="476.5" y1="12.5" x2="476.5" y2="7.25"/><line class="mj" x1="476.5" y1="91.5" x2="476.5" y2="96.75"/>
<line class="mj" x1="562.5" y1="12.5" x2="562.5" y2="7.25"/><line class="mj" x1="562.5" y1="91.5" x2="562.5" y2="96.75"/>
<line class="mj" x1="659.5" y1="12.5" x2="659.5" y2="7.25"/><line class="mj" x1="659.5" y1="91.5" x2="659.5" y2="96.75"/>
<line class="mj" x1="768.5" y1="12.5" x2="768.5" y2="7.25"/><line class="mj" x1="768.5" y1="91.5" x2="768.5" y2="96.75"/>
<line class="mj" x1="891.5" y1="12.5" x2="891.5" y2="7.25"/><line class="mj" x1="891.5" y1="91.5" x2="891.5" y2="96.75"/>
<line class="mn" x1="96.5" y1="12.5" x2="96.5" y2="9.4"/><line class="mn" x1="96.5" y1="91.5" x2="96.5" y2="94.6"/>
<line class="mn" x1="156.5" y1="12.5" x2="156.5" y2="9.4"/><line class="mn" x1="156.5" y1="91.5" x2="156.5" y2="94.6"/>
<line class="mn" x1="174.5" y1="12.5" x2="174.5" y2="9.4"/><line class="mn" x1="174.5" y1="91.5" x2="174.5" y2="94.6"/>
<line class="mn" x1="200.5" y1="12.5" x2="200.5" y2="9.4"/><line class="mn" x1="200.5" y1="91.5" x2="200.5" y2="94.6"/>
<line class="mn" x1="211.5" y1="12.5" x2="211.5" y2="9.4"/><line class="mn" x1="211.5" y1="91.5" x2="211.5" y2="94.6"/>
<line class="mn" x1="221.5" y1="12.5" x2="221.5" y2="9.4"/><line class="mn" x1="221.5" y1="91.5" x2="221.5" y2="94.6"/>
<line class="mn" x1="230.5" y1="12.5" x2="230.5" y2="9.4"/><line class="mn" x1="230.5" y1="91.5" x2="230.5" y2="94.6"/>
<line class="mn" x1="248.5" y1="12.5" x2="248.5" y2="9.4"/><line class="mn" x1="248.5" y1="91.5" x2="248.5" y2="94.6"/>
<line class="mn" x1="258.5" y1="12.5" x2="258.5" y2="9.4"/><line class="mn" x1="258.5" y1="91.5" x2="258.5" y2="94.6"/>
<line class="mn" x1="267.5" y1="12.5" x2="267.5" y2="9.4"/><line class="mn" x1="267.5" y1="91.5" x2="267.5" y2="94.6"/>
<line class="mn" x1="276.5" y1="12.5" x2="276.5" y2="9.4"/><line class="mn" x1="276.5" y1="91.5" x2="276.5" y2="94.6"/>
<line class="mn" x1="296.5" y1="12.5" x2="296.5" y2="9.4"/><line class="mn" x1="296.5" y1="91.5" x2="296.5" y2="94.6"/>
<line class="mn" x1="306.5" y1="12.5" x2="306.5" y2="9.4"/><line class="mn" x1="306.5" y1="91.5" x2="306.5" y2="94.6"/>
<line class="mn" x1="317.5" y1="12.5" x2="317.5" y2="9.4"/><line class="mn" x1="317.5" y1="91.5" x2="317.5" y2="94.6"/>
<line class="mn" x1="328.5" y1="12.5" x2="328.5" y2="9.4"/><line class="mn" x1="328.5" y1="91.5" x2="328.5" y2="94.6"/>
<line class="mn" x1="351.5" y1="12.5" x2="351.5" y2="9.4"/><line class="mn" x1="351.5" y1="91.5" x2="351.5" y2="94.6"/>
<line class="mn" x1="363.5" y1="12.5" x2="363.5" y2="9.4"/><line class="mn" x1="363.5" y1="91.5" x2="363.5" y2="94.6"/>
<line class="mn" x1="376.5" y1="12.5" x2="376.5" y2="9.4"/><line class="mn" x1="376.5" y1="91.5" x2="376.5" y2="94.6"/>
<line class="mn" x1="389.5" y1="12.5" x2="389.5" y2="9.4"/><line class="mn" x1="389.5" y1="91.5" x2="389.5" y2="94.6"/>
<line class="mn" x1="416.5" y1="12.5" x2="416.5" y2="9.4"/><line class="mn" x1="416.5" y1="91.5" x2="416.5" y2="94.6"/>
<line class="mn" x1="431.5" y1="12.5" x2="431.5" y2="9.4"/><line class="mn" x1="431.5" y1="91.5" x2="431.5" y2="94.6"/>
<line class="mn" x1="445.5" y1="12.5" x2="445.5" y2="9.4"/><line class="mn" x1="445.5" y1="91.5" x2="445.5" y2="94.6"/>
<line class="mn" x1="461.5" y1="12.5" x2="461.5" y2="9.4"/><line class="mn" x1="461.5" y1="91.5" x2="461.5" y2="94.6"/>
<line class="mn" x1="492.5" y1="12.5" x2="492.5" y2="9.4"/><line class="mn" x1="492.5" y1="91.5" x2="492.5" y2="94.6"/>
<line class="mn" x1="509.5" y1="12.5" x2="509.5" y2="9.4"/><line class="mn" x1="509.5" y1="91.5" x2="509.5" y2="94.6"/>
<line class="mn" x1="526.5" y1="12.5" x2="526.5" y2="9.4"/><line class="mn" x1="526.5" y1="91.5" x2="526.5" y2="94.6"/>
<line class="mn" x1="544.5" y1="12.5" x2="544.5" y2="9.4"/><line class="mn" x1="544.5" y1="91.5" x2="544.5" y2="94.6"/>
<line class="mn" x1="580.5" y1="12.5" x2="580.5" y2="9.4"/><line class="mn" x1="580.5" y1="91.5" x2="580.5" y2="94.6"/>
<line class="mn" x1="599.5" y1="12.5" x2="599.5" y2="9.4"/><line class="mn" x1="599.5" y1="91.5" x2="599.5" y2="94.6"/>
<line class="mn" x1="618.5" y1="12.5" x2="618.5" y2="9.4"/><line class="mn" x1="618.5" y1="91.5" x2="618.5" y2="94.6"/>
<line class="mn" x1="638.5" y1="12.5" x2="638.5" y2="9.4"/><line class="mn" x1="638.5" y1="91.5" x2="638.5" y2="94.6"/>
<line class="mn" x1="680.5" y1="12.5" x2="680.5" y2="9.4"/><line class="mn" x1="680.5" y1="91.5" x2="680.5" y2="94.6"/>
<line class="mn" x1="701.5" y1="12.5" x2="701.5" y2="9.4"/><line class="mn" x1="701.5" y1="91.5" x2="701.5" y2="94.6"/>
<line class="mn" x1="723.5" y1="12.5" x2="723.5" y2="9.4"/><line class="mn" x1="723.5" y1="91.5" x2="723.5" y2="94.6"/>
<line class="mn" x1="745.5" y1="12.5" x2="745.5" y2="9.4"/><line class="mn" x1="745.5" y1="91.5" x2="745.5" y2="94.6"/>
<line class="mn" x1="792.5" y1="12.5" x2="792.5" y2="9.4"/><line class="mn" x1="792.5" y1="91.5" x2="792.5" y2="94.6"/>
<line class="mn" x1="816.5" y1="12.5" x2="816.5" y2="9.4"/><line class="mn" x1="816.5" y1="91.5" x2="816.5" y2="94.6"/>
<line class="mn" x1="840.5" y1="12.5" x2="840.5" y2="9.4"/><line class="mn" x1="840.5" y1="91.5" x2="840.5" y2="94.6"/>
<line class="mn" x1="865.5" y1="12.5" x2="865.5" y2="9.4"/><line class="mn" x1="865.5" y1="91.5" x2="865.5" y2="94.6"/>
<line class="mj" x1="65.5" y1="51.5" x2="60.25" y2="51.5"/>
</g>
<g id="axprof">
<line class="grid" x1="933.5" y1="12.5" x2="933.5" y2="91.5"/>
<line class="grid" x1="979.5" y1="12.5" x2="979.5" y2="91.5"/>
<line class="grid" x1="910.5" y1="51.5" x2="992.5" y2="51.5"/>
<g fill="rgb(255,127,80)" fill-opacity="0.22" stroke="none">
<rect x="911" y="33" width="22.5" height="6.5"/>
<rect x="925.5" y="39.5" width="8" height="2.6"/>
<rect x="933.5" y="42.1" width="3" height="3"/>
<rect x="933.5" y="48.3" width="25.8" height="6"/>
<rect x="933.5" y="54.3" width="8.8" height="2.8"/>
<rect x="921.5" y="61" width="12" height="10"/>
<rect x="911" y="64" width="10.5" height="4.3"/>
<rect x="931.5" y="71" width="2" height="3"/>
</g>
<g fill="none" stroke="#333" stroke-width="2.78" stroke-linejoin="round" stroke-linecap="butt">
<polyline points="911,40.5 924.5,40.5 924.5,43.4 932.6,43.4 932.6,46.6 951.7,46.6 951.7,49.4 979.6,49.4 979.6,52.0 959.2,52.0 959.2,54.7 944.5,54.7 944.5,57.5 935.3,57.5 935.3,60.5 917.5,60.5 917.5,63.4 911,63.4"/>
<polyline points="911,68.3 920.5,68.3 920.5,71.3 931.5,71.3 931.5,74.6 941.8,74.6 941.8,78.8"/>
</g>
<g fill="none" stroke="rgb(255,127,80)" stroke-opacity="0.62" stroke-width="1.39" stroke-linejoin="miter">
<polyline points="911,40.4 924.8,40.4 924.8,43.25 936.4,43.25 936.4,46.25 951.75,46.25 951.75,49.1 979.7,49.1 979.7,51.8 959.5,51.8 959.5,54.3 942.3,54.3 942.3,57.1 933.0,57.1 933.0,60.25 921.5,60.25 921.5,63.2 911,63.2"/>
<polyline points="911,68.3 925.5,68.3 925.5,71.0 931.5,71.0 931.5,74.0 933,74.0 933,78.5"/>
</g>
<rect x="927.3" y="80" width="72.7" height="20" fill="#fff"/>
<polyline class="sp" points="910.5,12.5 910.5,91.5 926.8,91.5" style="stroke-linecap:butt"/>
<line class="mj" x1="910.5" y1="51.5" x2="905.64" y2="51.5"/>
<text x="935.6" y="93.9" style="font-size:9.55px;stroke-width:0.2px">0.00 ± 0.33</text>

</g>
<g id="axmain">
<rect x="352" y="324.5" width="544.5" height="22.0" fill="#f8f8f8"/>
<line class="grid" x1="131.5" y1="108.5" x2="131.5" y2="346.5"/>
<line class="grid" x1="188.5" y1="108.5" x2="188.5" y2="346.5"/>
<line class="grid" x1="239.5" y1="108.5" x2="239.5" y2="346.5"/>
<line class="grid" x1="286.5" y1="108.5" x2="286.5" y2="346.5"/>
<line class="grid" x1="339.5" y1="108.5" x2="339.5" y2="346.5"/>
<line class="grid" x1="402.5" y1="108.5" x2="402.5" y2="346.5"/>
<line class="grid" x1="476.5" y1="108.5" x2="476.5" y2="346.5"/>
<line class="grid" x1="562.5" y1="108.5" x2="562.5" y2="346.5"/>
<line class="grid" x1="659.5" y1="108.5" x2="659.5" y2="346.5"/>
<line class="grid" x1="768.5" y1="108.5" x2="768.5" y2="346.5"/>
<line class="grid" x1="891.5" y1="108.5" x2="891.5" y2="346.5"/>
<line class="grid" x1="65.5" y1="324.5" x2="896.5" y2="324.5"/>
<line class="grid" x1="65.5" y1="294.5" x2="896.5" y2="294.5"/>
<line class="grid" x1="65.5" y1="265.5" x2="896.5" y2="265.5"/>
<line class="grid" x1="65.5" y1="235.5" x2="896.5" y2="235.5"/>
<line class="grid" x1="65.5" y1="205.5" x2="896.5" y2="205.5"/>
<line class="grid" x1="65.5" y1="175.5" x2="896.5" y2="175.5"/>
<line class="grid" x1="65.5" y1="145.5" x2="896.5" y2="145.5"/>
<line class="grid" x1="65.5" y1="115.5" x2="896.5" y2="115.5"/>
<clipPath id="cm"><rect x="65.5" y="108.5" width="831" height="238"/></clipPath>
<g clip-path="url(#cm)" fill="none">
<path d="M376.70 254.80H379.00V320.70H380.90V285.30H382.80V224.30H384.60V277.80H386.60V300.20H388.50V274.80H390.40V320.70H392.60V255.30H395.00V269.80H396.90V279.80H398.40V299.50H400.20V228.30H402.10V227.30H404.00V310.70H407.00V242.30H409.00V330.70H410.90V308.70H412.20V227.30H414.10V252.30H415.70V270.80H417.60V240.30H419.60V265.30H421.20V241.60H423.00V175.10H425.00V199.10H426.40V264.80H428.10V285.30H430.00V279.30H431.90V276.30H433.60V288.50H435.40V283.80H437.20V352.00H439.00V256.10H441.00V270.80H444.00V244.30H446.10V279.30H448.80V291.00H451.20V315.70H453.10V291.00H455.20V262.30H459.60V281.80H461.60V272.30H463.50V297.50H465.40V262.30H467.30V270.30H468.80V311.70H472.10V267.30H474.00V238.00H476.00V313.20H478.00V292.00H479.50V308.20H481.00V238.00H483.00V324.70H485.00V291.00H486.50V304.70H488.10V232.00H490.00V231.10H491.20V255.30H493.00V287.30H495.50V285.80H499.50V296.50H502.00V256.30H504.00V272.80H505.30V336.70H507.00V253.30H509.00V271.30H510.80V320.70H512.80V290.00H516.00V215.00H518.00V305.20H520.00V309.20H522.30V289.00H525.00V277.30H526.60V334.70H528.40V284.80H534.00V259.30H535.60V288.30H537.30V289.00H539.00V259.30H541.00V290.00H544.00V242.00H546.00V291.00H548.50V311.20H550.80V352.00H552.80V240.00H554.90V281.80H556.50V283.80H558.00V268.30H560.00V283.80H561.50V298.00H563.50V288.00H567.00V261.30H569.00V298.50H572.00V253.30H574.00V251.30H576.00V267.30H578.00V324.70H582.00V317.70H584.50V330.20H586.50V325.20H589.50V262.30H592.00V320.20H595.00V305.20H597.00V295.00H599.00V250.30H600.50V303.20H601.80V327.70H604.00V282.30H606.80V246.00H609.00V281.30H611.00V298.00H613.50V352.00H615.80V290.00H618.00V271.30H620.00V281.30H621.50V352.00H623.50V287.30H626.00V305.20H628.00V304.70H629.80V352.00H631.80V278.30H636.00V306.20H637.80V319.70H639.50V315.70H641.50V333.70H644.00V226.00H646.00V286.80H648.20V304.20H650.80V283.30H655.00V278.30H657.00V312.20H659.00V317.20H661.00V325.70H663.50V300.00H665.00V260.30H667.00V269.30H669.00V352.00H671.00V337.70H673.50V284.30H675.30V335.70H677.20V290.00H679.00V320.20H681.50V300.00H684.00V352.00H686.70V249.00H688.30V352.00H690.30V274.30H692.00V331.70H694.50V275.30H696.50V278.30H699.00V322.20H701.00V338.70H704.00V242.00H706.00V329.20H709.00V320.20H711.50V344.20H714.70V245.00H716.30V352.00H718.00V339.20H720.00V317.70H722.00V339.20H724.00V328.20H725.50V295.00H727.00V270.30H729.00V290.00H732.00V253.30H734.00V319.70H736.00V259.30H738.60V290.00H742.00V300.00H744.00V309.20H745.50V337.70H749.00V324.20H751.00V352.00H752.00V259.30H753.50V266.30H755.00V330.20H757.00V256.30H759.00V295.00H761.00V325.20H763.00V279.30H765.00V325.20H766.00V352.00H768.50V266.30H770.50V339.70H772.50V261.30H774.20V352.00H776.00V248.30H778.00V300.00H779.50V332.70H781.50V278.30H783.50V332.70H785.50V322.20H787.00V264.30H788.50V258.30H790.00V316.70H792.00V249.30H794.00V268.30H795.50V340.70H797.50V335.20H800.00V352.00H801.50V279.30H803.50V300.00H805.50V309.20H808.00V266.30H810.00V352.00H812.00V300.00H813.00V352.00H817.00V245.30H818.50V352.00H820.50V300.00H821.50V352.00H823.00V318.20H827.50V352.00H829.00V224.00H831.00V263.30H832.50V271.30H834.00V352.00H836.00V300.00H838.00V309.20H840.00V293.00H841.50V304.20H843.00V249.30H845.00V303.70H847.00V274.30H848.50V300.00H850.00V352.00H851.50V338.70H852.70V316.70H855.00V253.30H858.70V157.60H860.30V269.80H861.50V282.30H863.00V268.30H864.50V282.30H866.00V288.00H867.80V332.70H869.50V352.00H871.00V265.80H873.00V283.30H875.00V352.00H877.00V336.20H878.00V227.00H880.00V265.80H881.50V282.80H883.00V352.00H885.00V300.00H886.00V352.00H887.00V280.30H889.00V352.00H890.60" stroke="#888" stroke-width="1.9" stroke-linejoin="miter"/>
<path d="M675.5 299.0V337.0M677.5 299.0V337.0M680.0 299.0V320.0M690.3 274.0V332.0M692.3 274.0V332.0M702.5 301.0V339.0M706.5 301.0V330.0M708.5 301.0V321.0M746.0 301.0V338.0M748.0 301.0V338.0M750.0 310.0V346.0M753.5 300.0V346.0M755.0 300.0V346.0M613.0 300.0V346.0M617.0 300.0V330.0M622.0 298.0V346.0M624.0 300.0V340.0M630.5 300.0V346.0M809.5 300.0V346.0M811.5 300.0V346.0M814.0 300.0V346.0M816.0 300.0V346.0M820.0 300.0V346.0M822.0 300.0V346.0M834.5 300.0V346.0M836.5 300.0V346.0M886.5 300.0V346.0M888.5 300.0V346.0M890.0 282.0V346.0M869.0 300.0V346.0M875.5 300.0V346.0M883.5 300.0V346.0" stroke="#888" stroke-width="1.9"/>
<path d="M376.70 299.00H378.60V295.60H380.51V303.00H382.41V297.50H384.32V303.60H386.22V303.40H388.13V303.60H390.03V303.60H391.94V302.10H393.84V294.80H395.75V297.70H397.65V303.60H399.56V303.60H401.46V304.10H403.37V297.90H405.27V303.10H407.18V302.20H409.08V303.50H410.99V302.50H412.89V304.40H414.80V301.70H416.70V302.40H418.61V296.40H420.51V305.20H422.42V296.70H424.32V303.90H426.23V300.70H428.13V301.90H430.04V301.60H431.94V302.10H433.85V303.90H435.75V295.40H437.66V263.50H439.56V299.50H441.47V295.40H443.37V299.30H445.28V299.20H447.18V303.60H449.09V303.30H450.99V302.60H452.90V304.20H454.80V301.20H456.71V301.80H458.61V303.40H460.52V303.30H462.42V303.40H464.33V301.00H466.23V297.20H468.14V301.60H470.04V303.80H471.95V300.80H473.85V294.60H475.76V303.10H477.66V299.50H479.57V302.00H481.47V298.50H483.38V302.60H485.28V298.90H487.19V302.60H489.09V294.70H491.00V301.50H492.90V301.50H494.81V301.50H496.71V302.30H498.62V295.60H500.52V302.10H502.43V297.40H504.33V303.50H506.24V300.70H508.14V295.00H510.05V303.40H511.95V300.90H513.86V300.60H515.76V301.70H517.67V301.30H519.57V299.50H521.48V302.90H523.38V300.40H525.29V300.50H527.19V299.10H529.10V300.40H531.00V300.10H532.91V298.20H534.81V295.20H536.72V302.10H538.62V298.90H540.53V299.20H542.43V299.60H544.34V300.40H546.24V296.30H548.15V298.50H550.05V297.40H551.96V298.30H553.86V294.50H555.77V297.80H557.67V295.60H559.58V295.60H561.48V297.80H563.39V289.30H565.29V297.50H567.20V298.20H569.10V298.60H571.01V291.10H572.91V297.90H574.82V295.10H576.72V294.50H578.63V298.10H580.53V293.50H582.44V295.90H584.34V297.20H586.25V295.20H588.15V296.50H590.06V293.20H591.96V296.50H593.87V297.30H595.77V294.60H597.68V297.20H599.58V288.30H601.49V296.40H603.39V296.90H605.30V294.20H607.20V296.80H609.11V296.70H611.01V296.30H612.92V295.40H614.82V292.20H616.73V296.20H618.63V293.50H620.54V291.00H622.44V294.40H624.35V288.70H626.25V295.00H628.16V295.40H630.06V293.60H631.97V288.60H633.87V287.90H635.78V296.00H637.68V294.90H639.59V295.20H641.49V287.70H643.40V294.70H645.30V293.20H647.21V285.40H649.11V287.80H651.02V290.90H652.92V293.00H654.83V293.00H656.73V292.50H658.64V294.30H660.54V293.00H662.45V296.90H664.35V294.30H666.26V298.70H668.16V293.00H670.07V293.30H671.97V293.20H673.88V291.80H675.78V292.60H677.69V284.10H679.59V290.20H681.50V294.80H683.40V292.90H685.31V286.00H687.21V292.50H689.12V288.70H691.02V292.40H692.93V291.90H694.83V287.10H696.74V291.30H698.64V290.40H700.55V290.00H702.45V268.70H704.36V272.00H706.26V282.70H708.17V276.00H710.07V288.90H711.98V292.10H713.88V291.50H715.79V290.30H717.69V296.00H719.60V290.90H721.50V288.80H723.41V286.90H725.31V281.90H727.22V291.70H729.12V285.80H731.03V290.90H732.93V282.90H734.84V288.70H736.74V284.10H738.65V287.80H740.55V272.50H742.46V288.50H744.36V288.70H746.27V290.10H748.17V288.10H750.08V283.60H751.98V274.00H753.89V288.10H755.79V273.00H757.70V283.60H759.60V284.90H761.51V285.40H763.41V296.00H765.32V287.90H767.22V286.30H769.13V290.20H771.03V287.30H772.94V279.00H774.84V279.00H776.75V287.70H778.65V279.60H780.56V287.90H782.46V281.60H784.37V286.20H786.27V277.30H788.18V279.60H790.08V282.50H791.99V284.00H793.89V284.20H795.80V279.10H797.70V273.70H799.61V283.70H801.51V284.30H803.42V284.20H805.32V286.50H807.23V279.10H809.13V284.10H811.04V273.00H812.94V277.70H814.85V281.30H816.75V273.30H818.66V280.20H820.56V284.20H822.47V279.20H824.37V271.00H826.28V283.90H828.18V283.50H830.09V280.30H831.99V279.40H833.90V282.20H835.80V268.50H837.71V268.00H839.61V271.80H841.52V280.30H843.42V278.20H845.33V281.60H847.23V273.30H849.14V270.00H851.04V276.50H852.95V275.00H854.85V276.40H856.76V274.40H858.66V273.40H860.57V262.50H862.47V276.40H864.38V270.50H866.28V273.40H868.19V266.50H870.09V267.90H870.70V245.00H875.60V230.00H878.50V239.00H881.20V225.50H883.00V209.00H887.10V164.20H888.90V136.50H889.90V100.00H890.00" stroke="#f00" stroke-opacity="0.21" stroke-width="2.2" stroke-linejoin="miter"/>
</g>

<rect class="sp" x="65.5" y="108.5" width="831.0" height="238.0"/>
<line class="mj" x1="131.5" y1="108.5" x2="131.5" y2="103.25"/><line class="mj" x1="131.5" y1="346.5" x2="131.5" y2="351.75"/><text class="tl" x="130.6" y="365.75" text-anchor="middle">0.7</text>
<line class="mj" x1="188.5" y1="108.5" x2="188.5" y2="103.25"/><line class="mj" x1="188.5" y1="346.5" x2="188.5" y2="351.75"/><text class="tl" x="187.6" y="365.75" text-anchor="middle">1.0</text>
<line class="mj" x1="239.5" y1="108.5" x2="239.5" y2="103.25"/><line class="mj" x1="239.5" y1="346.5" x2="239.5" y2="351.75"/><text class="tl" x="238.6" y="365.75" text-anchor="middle">1.5</text>
<line class="mj" x1="286.5" y1="108.5" x2="286.5" y2="103.25"/><line class="mj" x1="286.5" y1="346.5" x2="286.5" y2="351.75"/><text class="tl" x="285.6" y="365.75" text-anchor="middle">2.0</text>
<line class="mj" x1="339.5" y1="108.5" x2="339.5" y2="103.25"/><line class="mj" x1="339.5" y1="346.5" x2="339.5" y2="351.75"/><text class="tl" x="338.6" y="365.75" text-anchor="middle">2.5</text>
<line class="mj" x1="402.5" y1="108.5" x2="402.5" y2="103.25"/><line class="mj" x1="402.5" y1="346.5" x2="402.5" y2="351.75"/><text class="tl" x="401.6" y="365.75" text-anchor="middle">3.0</text>
<line class="mj" x1="476.5" y1="108.5" x2="476.5" y2="103.25"/><line class="mj" x1="476.5" y1="346.5" x2="476.5" y2="351.75"/><text class="tl" x="475.6" y="365.75" text-anchor="middle">3.5</text>
<line class="mj" x1="562.5" y1="108.5" x2="562.5" y2="103.25"/><line class="mj" x1="562.5" y1="346.5" x2="562.5" y2="351.75"/><text class="tl" x="561.6" y="365.75" text-anchor="middle">4.0</text>
<line class="mj" x1="659.5" y1="108.5" x2="659.5" y2="103.25"/><line class="mj" x1="659.5" y1="346.5" x2="659.5" y2="351.75"/><text class="tl" x="658.6" y="365.75" text-anchor="middle">4.5</text>
<line class="mj" x1="768.5" y1="108.5" x2="768.5" y2="103.25"/><line class="mj" x1="768.5" y1="346.5" x2="768.5" y2="351.75"/><text class="tl" x="767.6" y="365.75" text-anchor="middle">5.0</text>
<line class="mj" x1="891.5" y1="108.5" x2="891.5" y2="103.25"/><line class="mj" x1="891.5" y1="346.5" x2="891.5" y2="351.75"/><text class="tl" x="890.6" y="365.75" text-anchor="middle">5.5</text>
<line class="mn" x1="96.5" y1="108.5" x2="96.5" y2="105.4"/><line class="mn" x1="96.5" y1="346.5" x2="96.5" y2="349.6"/>
<line class="mn" x1="156.5" y1="108.5" x2="156.5" y2="105.4"/><line class="mn" x1="156.5" y1="346.5" x2="156.5" y2="349.6"/>
<line class="mn" x1="174.5" y1="108.5" x2="174.5" y2="105.4"/><line class="mn" x1="174.5" y1="346.5" x2="174.5" y2="349.6"/>
<line class="mn" x1="200.5" y1="108.5" x2="200.5" y2="105.4"/><line class="mn" x1="200.5" y1="346.5" x2="200.5" y2="349.6"/>
<line class="mn" x1="211.5" y1="108.5" x2="211.5" y2="105.4"/><line class="mn" x1="211.5" y1="346.5" x2="211.5" y2="349.6"/>
<line class="mn" x1="221.5" y1="108.5" x2="221.5" y2="105.4"/><line class="mn" x1="221.5" y1="346.5" x2="221.5" y2="349.6"/>
<line class="mn" x1="230.5" y1="108.5" x2="230.5" y2="105.4"/><line class="mn" x1="230.5" y1="346.5" x2="230.5" y2="349.6"/>
<line class="mn" x1="248.5" y1="108.5" x2="248.5" y2="105.4"/><line class="mn" x1="248.5" y1="346.5" x2="248.5" y2="349.6"/>
<line class="mn" x1="258.5" y1="108.5" x2="258.5" y2="105.4"/><line class="mn" x1="258.5" y1="346.5" x2="258.5" y2="349.6"/>
<line class="mn" x1="267.5" y1="108.5" x2="267.5" y2="105.4"/><line class="mn" x1="267.5" y1="346.5" x2="267.5" y2="349.6"/>
<line class="mn" x1="276.5" y1="108.5" x2="276.5" y2="105.4"/><line class="mn" x1="276.5" y1="346.5" x2="276.5" y2="349.6"/>
<line class="mn" x1="296.5" y1="108.5" x2="296.5" y2="105.4"/><line class="mn" x1="296.5" y1="346.5" x2="296.5" y2="349.6"/>
<line class="mn" x1="306.5" y1="108.5" x2="306.5" y2="105.4"/><line class="mn" x1="306.5" y1="346.5" x2="306.5" y2="349.6"/>
<line class="mn" x1="317.5" y1="108.5" x2="317.5" y2="105.4"/><line class="mn" x1="317.5" y1="346.5" x2="317.5" y2="349.6"/>
<line class="mn" x1="328.5" y1="108.5" x2="328.5" y2="105.4"/><line class="mn" x1="328.5" y1="346.5" x2="328.5" y2="349.6"/>
<line class="mn" x1="351.5" y1="108.5" x2="351.5" y2="105.4"/><line class="mn" x1="351.5" y1="346.5" x2="351.5" y2="349.6"/>
<line class="mn" x1="363.5" y1="108.5" x2="363.5" y2="105.4"/><line class="mn" x1="363.5" y1="346.5" x2="363.5" y2="349.6"/>
<line class="mn" x1="376.5" y1="108.5" x2="376.5" y2="105.4"/><line class="mn" x1="376.5" y1="346.5" x2="376.5" y2="349.6"/>
<line class="mn" x1="389.5" y1="108.5" x2="389.5" y2="105.4"/><line class="mn" x1="389.5" y1="346.5" x2="389.5" y2="349.6"/>
<line class="mn" x1="416.5" y1="108.5" x2="416.5" y2="105.4"/><line class="mn" x1="416.5" y1="346.5" x2="416.5" y2="349.6"/>
<line class="mn" x1="431.5" y1="108.5" x2="431.5" y2="105.4"/><line class="mn" x1="431.5" y1="346.5" x2="431.5" y2="349.6"/>
<line class="mn" x1="445.5" y1="108.5" x2="445.5" y2="105.4"/><line class="mn" x1="445.5" y1="346.5" x2="445.5" y2="349.6"/>
<line class="mn" x1="461.5" y1="108.5" x2="461.5" y2="105.4"/><line class="mn" x1="461.5" y1="346.5" x2="461.5" y2="349.6"/>
<line class="mn" x1="492.5" y1="108.5" x2="492.5" y2="105.4"/><line class="mn" x1="492.5" y1="346.5" x2="492.5" y2="349.6"/>
<line class="mn" x1="509.5" y1="108.5" x2="509.5" y2="105.4"/><line class="mn" x1="509.5" y1="346.5" x2="509.5" y2="349.6"/>
<line class="mn" x1="526.5" y1="108.5" x2="526.5" y2="105.4"/><line class="mn" x1="526.5" y1="346.5" x2="526.5" y2="349.6"/>
<line class="mn" x1="544.5" y1="108.5" x2="544.5" y2="105.4"/><line class="mn" x1="544.5" y1="346.5" x2="544.5" y2="349.6"/>
<line class="mn" x1="580.5" y1="108.5" x2="580.5" y2="105.4"/><line class="mn" x1="580.5" y1="346.5" x2="580.5" y2="349.6"/>
<line class="mn" x1="599.5" y1="108.5" x2="599.5" y2="105.4"/><line class="mn" x1="599.5" y1="346.5" x2="599.5" y2="349.6"/>
<line class="mn" x1="618.5" y1="108.5" x2="618.5" y2="105.4"/><line class="mn" x1="618.5" y1="346.5" x2="618.5" y2="349.6"/>
<line class="mn" x1="638.5" y1="108.5" x2="638.5" y2="105.4"/><line class="mn" x1="638.5" y1="346.5" x2="638.5" y2="349.6"/>
<line class="mn" x1="680.5" y1="108.5" x2="680.5" y2="105.4"/><line class="mn" x1="680.5" y1="346.5" x2="680.5" y2="349.6"/>
<line class="mn" x1="701.5" y1="108.5" x2="701.5" y2="105.4"/><line class="mn" x1="701.5" y1="346.5" x2="701.5" y2="349.6"/>
<line class="mn" x1="723.5" y1="108.5" x2="723.5" y2="105.4"/><line class="mn" x1="723.5" y1="346.5" x2="723.5" y2="349.6"/>
<line class="mn" x1="745.5" y1="108.5" x2="745.5" y2="105.4"/><line class="mn" x1="745.5" y1="346.5" x2="745.5" y2="349.6"/>
<line class="mn" x1="792.5" y1="108.5" x2="792.5" y2="105.4"/><line class="mn" x1="792.5" y1="346.5" x2="792.5" y2="349.6"/>
<line class="mn" x1="816.5" y1="108.5" x2="816.5" y2="105.4"/><line class="mn" x1="816.5" y1="346.5" x2="816.5" y2="349.6"/>
<line class="mn" x1="840.5" y1="108.5" x2="840.5" y2="105.4"/><line class="mn" x1="840.5" y1="346.5" x2="840.5" y2="349.6"/>
<line class="mn" x1="865.5" y1="108.5" x2="865.5" y2="105.4"/><line class="mn" x1="865.5" y1="346.5" x2="865.5" y2="349.6"/>
<line class="mj" x1="65.5" y1="324.5" x2="60.25" y2="324.5"/><text class="tl" x="55.6" y="329.05" text-anchor="end">0.00</text>
<line class="mj" x1="65.5" y1="294.5" x2="60.25" y2="294.5"/><text class="tl" x="55.6" y="299.20" text-anchor="end">0.25</text>
<line class="mj" x1="65.5" y1="265.5" x2="60.25" y2="265.5"/><text class="tl" x="55.6" y="269.35" text-anchor="end">0.50</text>
<line class="mj" x1="65.5" y1="235.5" x2="60.25" y2="235.5"/><text class="tl" x="55.6" y="239.50" text-anchor="end">0.75</text>
<line class="mj" x1="65.5" y1="205.5" x2="60.25" y2="205.5"/><text class="tl" x="55.6" y="209.65" text-anchor="end">1.00</text>
<line class="mj" x1="65.5" y1="175.5" x2="60.25" y2="175.5"/><text class="tl" x="55.6" y="179.80" text-anchor="end">1.25</text>
<line class="mj" x1="65.5" y1="145.5" x2="60.25" y2="145.5"/><text class="tl" x="55.6" y="149.95" text-anchor="end">1.50</text>
<line class="mj" x1="65.5" y1="115.5" x2="60.25" y2="115.5"/><text class="tl" x="55.6" y="120.10" text-anchor="end">1.75</text>
<text x="91.0" y="123.8" style="font-size:10.85px;stroke-width:0.2px">5105_22620</text>
<text class="al" x="481" y="387.6" text-anchor="middle"><tspan class="it">λ</tspan><tspan style="font-size:9.72px" dy="2.1">obs</tspan><tspan dy="-2.1"> [</tspan><tspan class="it">μ</tspan>m]</text>
<text class="al" transform="translate(11.3 227.5) rotate(-90)" text-anchor="middle"><tspan class="it">f</tspan><tspan class="it" style="font-size:9.72px" dy="2.1">λ</tspan><tspan dy="-2.1"> [10</tspan><tspan style="font-size:9.72px" dy="-5.1">−20</tspan><tspan dy="5.1"> ergs</tspan><tspan style="font-size:9.72px" dy="-5.1">−1</tspan><tspan dy="5.1">cm</tspan><tspan style="font-size:9.72px" dy="-5.1">−2</tspan><tspan dy="5.1">Å</tspan><tspan style="font-size:9.72px" dy="-5.1">−1</tspan><tspan dy="5.1">]</tspan></text>
</g>
</svg>
</body></html>
